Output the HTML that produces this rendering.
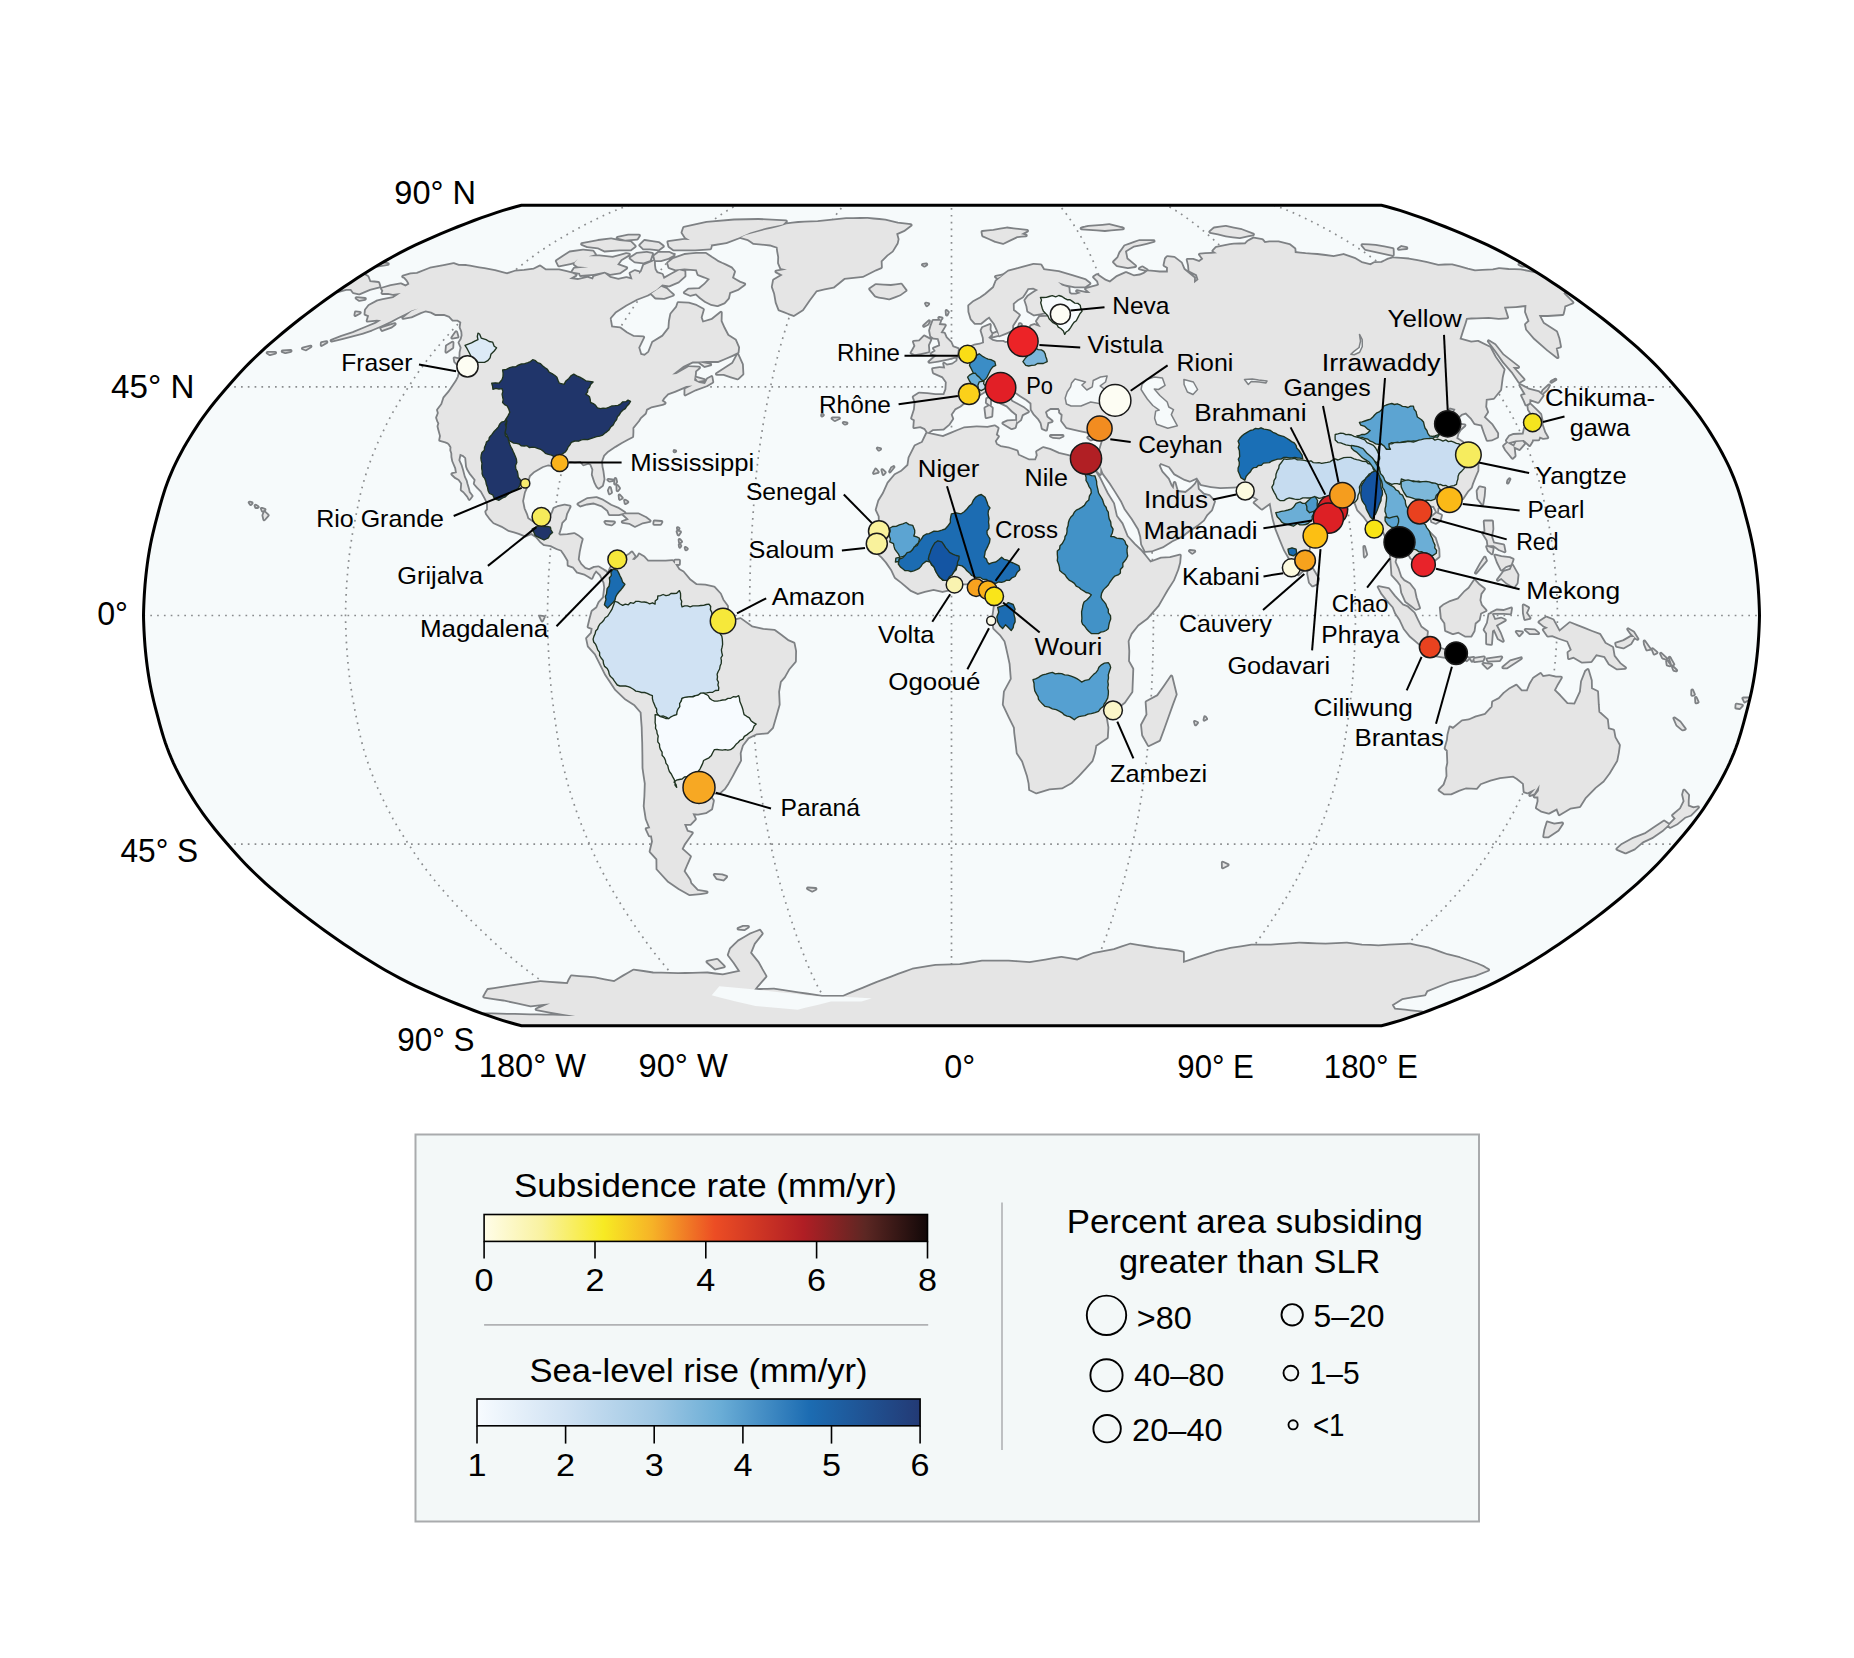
<!DOCTYPE html>
<html><head><meta charset="utf-8"><title>Delta subsidence map</title><style>html,body{margin:0;padding:0;background:#fff;}svg{display:block;}</style></head><body>
<svg width="1854" height="1658" viewBox="0 0 1854 1658" font-family="'Liberation Sans', Arial, sans-serif" fill="#000">
<rect width="1854" height="1658" fill="#ffffff"/>
<defs><clipPath id="fc"><path d="M521.48,205.25L515.79,206.73L509.68,208.46L503.18,210.43L496.34,212.63L489.16,215.05L481.70,217.69L473.96,220.52L466.00,223.54L457.83,226.74L449.49,230.11L441.02,233.64L432.49,237.30L424.01,241.08L415.67,244.95L407.55,248.90L399.74,252.91L392.21,256.96L384.91,261.07L377.81,265.24L370.87,269.45L364.05,273.72L357.33,278.04L350.69,282.41L344.14,286.82L337.66,291.28L331.24,295.78L324.88,300.31L318.59,304.88L312.37,309.49L306.23,314.13L300.17,318.80L294.19,323.51L288.31,328.25L282.51,333.01L276.82,337.80L271.23,342.62L265.76,347.46L260.43,352.33L255.25,357.22L250.24,362.13L245.40,367.06L240.72,372.01L236.18,376.97L231.73,381.95L227.37,386.95L223.07,391.96L218.84,396.98L214.71,402.01L210.71,407.05L206.85,412.10L203.15,417.16L199.61,422.22L196.21,427.29L192.95,432.37L189.80,437.45L186.76,442.54L183.83,447.62L181.03,452.71L178.36,457.80L175.82,462.89L173.43,467.97L171.18,473.06L169.08,478.15L167.13,483.24L165.32,488.32L163.65,493.41L162.10,498.50L160.64,503.58L159.24,508.67L157.88,513.76L156.54,518.85L155.21,523.93L153.93,529.02L152.72,534.11L151.58,539.19L150.54,544.28L149.58,549.37L148.72,554.45L147.93,559.54L147.22,564.63L146.57,569.72L145.99,574.80L145.48,579.89L145.02,584.98L144.63,590.06L144.30,595.15L144.02,600.24L143.79,605.33L143.62,610.41L143.50,615.50L143.62,620.59L143.79,625.67L144.02,630.76L144.30,635.85L144.63,640.94L145.02,646.02L145.48,651.11L145.99,656.20L146.57,661.28L147.22,666.37L147.93,671.46L148.72,676.55L149.58,681.63L150.54,686.72L151.58,691.81L152.72,696.89L153.93,701.98L155.21,707.07L156.54,712.15L157.88,717.24L159.24,722.33L160.64,727.42L162.10,732.50L163.65,737.59L165.32,742.68L167.13,747.76L169.08,752.85L171.18,757.94L173.43,763.03L175.82,768.11L178.36,773.20L181.03,778.29L183.83,783.38L186.76,788.46L189.80,793.55L192.95,798.63L196.21,803.71L199.61,808.78L203.15,813.84L206.85,818.90L210.71,823.95L214.71,828.99L218.84,834.02L223.07,839.04L227.37,844.05L231.73,849.05L236.18,854.03L240.72,858.99L245.40,863.94L250.24,868.87L255.25,873.78L260.43,878.67L265.76,883.54L271.23,888.38L276.82,893.20L282.51,897.99L288.31,902.75L294.19,907.49L300.17,912.20L306.23,916.87L312.37,921.51L318.59,926.12L324.88,930.69L331.24,935.22L337.66,939.72L344.14,944.18L350.69,948.59L357.33,952.96L364.05,957.28L370.87,961.55L377.81,965.76L384.91,969.93L392.21,974.04L399.74,978.09L407.55,982.10L415.67,986.05L424.01,989.92L432.49,993.70L441.02,997.36L449.49,1000.89L457.83,1004.26L466.00,1007.46L473.96,1010.48L481.70,1013.31L489.16,1015.95L496.34,1018.37L503.18,1020.57L509.68,1022.54L515.79,1024.27L521.48,1025.75L1381.52,1025.75L1387.21,1024.27L1393.32,1022.54L1399.82,1020.57L1406.66,1018.37L1413.84,1015.95L1421.30,1013.31L1429.04,1010.48L1437.00,1007.46L1445.17,1004.26L1453.51,1000.89L1461.98,997.36L1470.51,993.70L1478.99,989.92L1487.33,986.05L1495.45,982.10L1503.26,978.09L1510.79,974.04L1518.09,969.93L1525.19,965.76L1532.13,961.55L1538.95,957.28L1545.67,952.96L1552.31,948.59L1558.86,944.18L1565.34,939.72L1571.76,935.22L1578.12,930.69L1584.41,926.12L1590.63,921.51L1596.77,916.87L1602.83,912.20L1608.81,907.49L1614.69,902.75L1620.49,897.99L1626.18,893.20L1631.77,888.38L1637.24,883.54L1642.57,878.67L1647.75,873.78L1652.76,868.87L1657.60,863.94L1662.28,858.99L1666.82,854.03L1671.27,849.05L1675.63,844.05L1679.93,839.04L1684.16,834.02L1688.29,828.99L1692.29,823.95L1696.15,818.90L1699.85,813.84L1703.39,808.78L1706.79,803.71L1710.05,798.63L1713.20,793.55L1716.24,788.46L1719.17,783.38L1721.97,778.29L1724.64,773.20L1727.18,768.11L1729.57,763.03L1731.82,757.94L1733.92,752.85L1735.87,747.76L1737.68,742.68L1739.35,737.59L1740.90,732.50L1742.36,727.42L1743.76,722.33L1745.12,717.24L1746.46,712.15L1747.79,707.07L1749.07,701.98L1750.28,696.89L1751.42,691.81L1752.46,686.72L1753.42,681.63L1754.28,676.55L1755.07,671.46L1755.78,666.37L1756.43,661.28L1757.01,656.20L1757.52,651.11L1757.98,646.02L1758.37,640.94L1758.70,635.85L1758.98,630.76L1759.21,625.67L1759.38,620.59L1759.50,615.50L1759.38,610.41L1759.21,605.33L1758.98,600.24L1758.70,595.15L1758.37,590.06L1757.98,584.98L1757.52,579.89L1757.01,574.80L1756.43,569.72L1755.78,564.63L1755.07,559.54L1754.28,554.45L1753.42,549.37L1752.46,544.28L1751.42,539.19L1750.28,534.11L1749.07,529.02L1747.79,523.93L1746.46,518.85L1745.12,513.76L1743.76,508.67L1742.36,503.58L1740.90,498.50L1739.35,493.41L1737.68,488.32L1735.87,483.24L1733.92,478.15L1731.82,473.06L1729.57,467.97L1727.18,462.89L1724.64,457.80L1721.97,452.71L1719.17,447.62L1716.24,442.54L1713.20,437.45L1710.05,432.37L1706.79,427.29L1703.39,422.22L1699.85,417.16L1696.15,412.10L1692.29,407.05L1688.29,402.01L1684.16,396.98L1679.93,391.96L1675.63,386.95L1671.27,381.95L1666.82,376.97L1662.28,372.01L1657.60,367.06L1652.76,362.13L1647.75,357.22L1642.57,352.33L1637.24,347.46L1631.77,342.62L1626.18,337.80L1620.49,333.01L1614.69,328.25L1608.81,323.51L1602.83,318.80L1596.77,314.13L1590.63,309.49L1584.41,304.88L1578.12,300.31L1571.76,295.78L1565.34,291.28L1558.86,286.82L1552.31,282.41L1545.67,278.04L1538.95,273.72L1532.13,269.45L1525.19,265.24L1518.09,261.07L1510.79,256.96L1503.26,252.91L1495.45,248.90L1487.33,244.95L1478.99,241.08L1470.51,237.30L1461.98,233.64L1453.51,230.11L1445.17,226.74L1437.00,223.54L1429.04,220.52L1421.30,217.69L1413.84,215.05L1406.66,212.63L1399.82,210.43L1393.32,208.46L1387.21,206.73L1381.52,205.25Z"/></clipPath></defs>
<path d="M521.48,205.25L515.79,206.73L509.68,208.46L503.18,210.43L496.34,212.63L489.16,215.05L481.70,217.69L473.96,220.52L466.00,223.54L457.83,226.74L449.49,230.11L441.02,233.64L432.49,237.30L424.01,241.08L415.67,244.95L407.55,248.90L399.74,252.91L392.21,256.96L384.91,261.07L377.81,265.24L370.87,269.45L364.05,273.72L357.33,278.04L350.69,282.41L344.14,286.82L337.66,291.28L331.24,295.78L324.88,300.31L318.59,304.88L312.37,309.49L306.23,314.13L300.17,318.80L294.19,323.51L288.31,328.25L282.51,333.01L276.82,337.80L271.23,342.62L265.76,347.46L260.43,352.33L255.25,357.22L250.24,362.13L245.40,367.06L240.72,372.01L236.18,376.97L231.73,381.95L227.37,386.95L223.07,391.96L218.84,396.98L214.71,402.01L210.71,407.05L206.85,412.10L203.15,417.16L199.61,422.22L196.21,427.29L192.95,432.37L189.80,437.45L186.76,442.54L183.83,447.62L181.03,452.71L178.36,457.80L175.82,462.89L173.43,467.97L171.18,473.06L169.08,478.15L167.13,483.24L165.32,488.32L163.65,493.41L162.10,498.50L160.64,503.58L159.24,508.67L157.88,513.76L156.54,518.85L155.21,523.93L153.93,529.02L152.72,534.11L151.58,539.19L150.54,544.28L149.58,549.37L148.72,554.45L147.93,559.54L147.22,564.63L146.57,569.72L145.99,574.80L145.48,579.89L145.02,584.98L144.63,590.06L144.30,595.15L144.02,600.24L143.79,605.33L143.62,610.41L143.50,615.50L143.62,620.59L143.79,625.67L144.02,630.76L144.30,635.85L144.63,640.94L145.02,646.02L145.48,651.11L145.99,656.20L146.57,661.28L147.22,666.37L147.93,671.46L148.72,676.55L149.58,681.63L150.54,686.72L151.58,691.81L152.72,696.89L153.93,701.98L155.21,707.07L156.54,712.15L157.88,717.24L159.24,722.33L160.64,727.42L162.10,732.50L163.65,737.59L165.32,742.68L167.13,747.76L169.08,752.85L171.18,757.94L173.43,763.03L175.82,768.11L178.36,773.20L181.03,778.29L183.83,783.38L186.76,788.46L189.80,793.55L192.95,798.63L196.21,803.71L199.61,808.78L203.15,813.84L206.85,818.90L210.71,823.95L214.71,828.99L218.84,834.02L223.07,839.04L227.37,844.05L231.73,849.05L236.18,854.03L240.72,858.99L245.40,863.94L250.24,868.87L255.25,873.78L260.43,878.67L265.76,883.54L271.23,888.38L276.82,893.20L282.51,897.99L288.31,902.75L294.19,907.49L300.17,912.20L306.23,916.87L312.37,921.51L318.59,926.12L324.88,930.69L331.24,935.22L337.66,939.72L344.14,944.18L350.69,948.59L357.33,952.96L364.05,957.28L370.87,961.55L377.81,965.76L384.91,969.93L392.21,974.04L399.74,978.09L407.55,982.10L415.67,986.05L424.01,989.92L432.49,993.70L441.02,997.36L449.49,1000.89L457.83,1004.26L466.00,1007.46L473.96,1010.48L481.70,1013.31L489.16,1015.95L496.34,1018.37L503.18,1020.57L509.68,1022.54L515.79,1024.27L521.48,1025.75L1381.52,1025.75L1387.21,1024.27L1393.32,1022.54L1399.82,1020.57L1406.66,1018.37L1413.84,1015.95L1421.30,1013.31L1429.04,1010.48L1437.00,1007.46L1445.17,1004.26L1453.51,1000.89L1461.98,997.36L1470.51,993.70L1478.99,989.92L1487.33,986.05L1495.45,982.10L1503.26,978.09L1510.79,974.04L1518.09,969.93L1525.19,965.76L1532.13,961.55L1538.95,957.28L1545.67,952.96L1552.31,948.59L1558.86,944.18L1565.34,939.72L1571.76,935.22L1578.12,930.69L1584.41,926.12L1590.63,921.51L1596.77,916.87L1602.83,912.20L1608.81,907.49L1614.69,902.75L1620.49,897.99L1626.18,893.20L1631.77,888.38L1637.24,883.54L1642.57,878.67L1647.75,873.78L1652.76,868.87L1657.60,863.94L1662.28,858.99L1666.82,854.03L1671.27,849.05L1675.63,844.05L1679.93,839.04L1684.16,834.02L1688.29,828.99L1692.29,823.95L1696.15,818.90L1699.85,813.84L1703.39,808.78L1706.79,803.71L1710.05,798.63L1713.20,793.55L1716.24,788.46L1719.17,783.38L1721.97,778.29L1724.64,773.20L1727.18,768.11L1729.57,763.03L1731.82,757.94L1733.92,752.85L1735.87,747.76L1737.68,742.68L1739.35,737.59L1740.90,732.50L1742.36,727.42L1743.76,722.33L1745.12,717.24L1746.46,712.15L1747.79,707.07L1749.07,701.98L1750.28,696.89L1751.42,691.81L1752.46,686.72L1753.42,681.63L1754.28,676.55L1755.07,671.46L1755.78,666.37L1756.43,661.28L1757.01,656.20L1757.52,651.11L1757.98,646.02L1758.37,640.94L1758.70,635.85L1758.98,630.76L1759.21,625.67L1759.38,620.59L1759.50,615.50L1759.38,610.41L1759.21,605.33L1758.98,600.24L1758.70,595.15L1758.37,590.06L1757.98,584.98L1757.52,579.89L1757.01,574.80L1756.43,569.72L1755.78,564.63L1755.07,559.54L1754.28,554.45L1753.42,549.37L1752.46,544.28L1751.42,539.19L1750.28,534.11L1749.07,529.02L1747.79,523.93L1746.46,518.85L1745.12,513.76L1743.76,508.67L1742.36,503.58L1740.90,498.50L1739.35,493.41L1737.68,488.32L1735.87,483.24L1733.92,478.15L1731.82,473.06L1729.57,467.97L1727.18,462.89L1724.64,457.80L1721.97,452.71L1719.17,447.62L1716.24,442.54L1713.20,437.45L1710.05,432.37L1706.79,427.29L1703.39,422.22L1699.85,417.16L1696.15,412.10L1692.29,407.05L1688.29,402.01L1684.16,396.98L1679.93,391.96L1675.63,386.95L1671.27,381.95L1666.82,376.97L1662.28,372.01L1657.60,367.06L1652.76,362.13L1647.75,357.22L1642.57,352.33L1637.24,347.46L1631.77,342.62L1626.18,337.80L1620.49,333.01L1614.69,328.25L1608.81,323.51L1602.83,318.80L1596.77,314.13L1590.63,309.49L1584.41,304.88L1578.12,300.31L1571.76,295.78L1565.34,291.28L1558.86,286.82L1552.31,282.41L1545.67,278.04L1538.95,273.72L1532.13,269.45L1525.19,265.24L1518.09,261.07L1510.79,256.96L1503.26,252.91L1495.45,248.90L1487.33,244.95L1478.99,241.08L1470.51,237.30L1461.98,233.64L1453.51,230.11L1445.17,226.74L1437.00,223.54L1429.04,220.52L1421.30,217.69L1413.84,215.05L1406.66,212.63L1399.82,210.43L1393.32,208.46L1387.21,206.73L1381.52,205.25Z" fill="#f6fafb"/>
<g clip-path="url(#fc)">
<path d="M227.4,844.1L1675.6,844.1M143.5,615.5L1759.5,615.5M227.4,386.9L1675.6,386.9M629.0,1025.8L620.1,1022.5L610.1,1018.4L599.1,1013.3L587.4,1007.5L575.0,1000.9L562.2,993.7L549.6,986.0L537.7,978.1L526.6,969.9L516.0,961.5L505.9,953.0L496.0,944.2L486.3,935.2L476.8,926.1L467.5,916.9L458.5,907.5L449.8,898.0L441.3,888.4L433.2,878.7L425.6,868.9L418.4,859.0L411.7,849.0L405.2,839.0L398.9,829.0L393.0,818.9L387.6,808.8L382.6,798.6L377.9,788.5L373.6,778.3L369.7,768.1L366.3,757.9L363.2,747.8L360.6,737.6L358.4,727.4L356.3,717.2L354.3,707.1L352.4,696.9L350.8,686.7L349.4,676.5L348.3,666.4L347.4,656.2L346.6,646.0L346.1,635.8L345.7,625.7L345.5,615.5L345.7,605.3L346.1,595.2L346.6,585.0L347.4,574.8L348.3,564.6L349.4,554.5L350.8,544.3L352.4,534.1L354.3,523.9L356.3,513.8L358.4,503.6L360.6,493.4L363.2,483.2L366.3,473.1L369.7,462.9L373.6,452.7L377.9,442.5L382.6,432.4L387.6,422.2L393.0,412.1L398.9,402.0L405.2,392.0L411.7,382.0L418.4,372.0L425.6,362.1L433.2,352.3L441.3,342.6L449.8,333.0L458.5,323.5L467.5,314.1L476.8,304.9L486.3,295.8L496.0,286.8L505.9,278.0L516.0,269.5L526.6,261.1L537.7,252.9L549.6,245.0L562.2,237.3L575.0,230.1L587.4,223.5L599.1,217.7L610.1,212.6L620.1,208.5L629.0,205.2M736.5,1025.8L730.6,1022.5L723.9,1018.4L716.6,1013.3L708.7,1007.5L700.5,1000.9L692.0,993.7L683.6,986.0L675.6,978.1L668.2,969.9L661.2,961.5L654.4,953.0L647.8,944.2L641.4,935.2L635.0,926.1L628.9,916.9L622.8,907.5L617.0,898.0L611.4,888.4L606.0,878.7L600.9,868.9L596.1,859.0L591.6,849.0L587.3,839.0L583.1,829.0L579.2,818.9L575.6,808.8L572.2,798.6L569.1,788.5L566.3,778.3L563.7,768.1L561.3,757.9L559.3,747.8L557.6,737.6L556.1,727.4L554.7,717.2L553.4,707.1L552.1,696.9L551.0,686.7L550.1,676.5L549.4,666.4L548.7,656.2L548.3,646.0L547.9,635.8L547.6,625.7L547.5,615.5L547.6,605.3L547.9,595.2L548.3,585.0L548.7,574.8L549.4,564.6L550.1,554.5L551.0,544.3L552.1,534.1L553.4,523.9L554.7,513.8L556.1,503.6L557.6,493.4L559.3,483.2L561.3,473.1L563.7,462.9L566.3,452.7L569.1,442.5L572.2,432.4L575.6,422.2L579.2,412.1L583.1,402.0L587.3,392.0L591.6,382.0L596.1,372.0L600.9,362.1L606.0,352.3L611.4,342.6L617.0,333.0L622.8,323.5L628.9,314.1L635.0,304.9L641.4,295.8L647.8,286.8L654.4,278.0L661.2,269.5L668.2,261.1L675.6,252.9L683.6,245.0L692.0,237.3L700.5,230.1L708.7,223.5L716.6,217.7L723.9,212.6L730.6,208.5L736.5,205.2M844.0,1025.8L841.0,1022.5L837.7,1018.4L834.0,1013.3L830.1,1007.5L826.0,1000.9L821.7,993.7L817.5,986.0L813.6,978.1L809.9,969.9L806.3,961.5L803.0,953.0L799.7,944.2L796.4,935.2L793.3,926.1L790.2,916.9L787.2,907.5L784.3,898.0L781.4,888.4L778.7,878.7L776.2,868.9L773.8,859.0L771.6,849.0L769.4,839.0L767.3,829.0L765.3,818.9L763.5,808.8L761.9,798.6L760.3,788.5L758.9,778.3L757.6,768.1L756.4,757.9L755.4,747.8L754.5,737.6L753.8,727.4L753.1,717.2L752.4,707.1L751.8,696.9L751.3,686.7L750.8,676.5L750.4,666.4L750.1,656.2L749.9,646.0L749.7,635.8L749.6,625.7L749.5,615.5L749.6,605.3L749.7,595.2L749.9,585.0L750.1,574.8L750.4,564.6L750.8,554.5L751.3,544.3L751.8,534.1L752.4,523.9L753.1,513.8L753.8,503.6L754.5,493.4L755.4,483.2L756.4,473.1L757.6,462.9L758.9,452.7L760.3,442.5L761.9,432.4L763.5,422.2L765.3,412.1L767.3,402.0L769.4,392.0L771.6,382.0L773.8,372.0L776.2,362.1L778.7,352.3L781.4,342.6L784.3,333.0L787.2,323.5L790.2,314.1L793.3,304.9L796.4,295.8L799.7,286.8L803.0,278.0L806.3,269.5L809.9,261.1L813.6,252.9L817.5,245.0L821.7,237.3L826.0,230.1L830.1,223.5L834.0,217.7L837.7,212.6L841.0,208.5L844.0,205.2M951.5,1025.8L951.5,1022.5L951.5,1018.4L951.5,1013.3L951.5,1007.5L951.5,1000.9L951.5,993.7L951.5,986.0L951.5,978.1L951.5,969.9L951.5,961.5L951.5,953.0L951.5,944.2L951.5,935.2L951.5,926.1L951.5,916.9L951.5,907.5L951.5,898.0L951.5,888.4L951.5,878.7L951.5,868.9L951.5,859.0L951.5,849.0L951.5,839.0L951.5,829.0L951.5,818.9L951.5,808.8L951.5,798.6L951.5,788.5L951.5,778.3L951.5,768.1L951.5,757.9L951.5,747.8L951.5,737.6L951.5,727.4L951.5,717.2L951.5,707.1L951.5,696.9L951.5,686.7L951.5,676.5L951.5,666.4L951.5,656.2L951.5,646.0L951.5,635.8L951.5,625.7L951.5,615.5L951.5,605.3L951.5,595.2L951.5,585.0L951.5,574.8L951.5,564.6L951.5,554.5L951.5,544.3L951.5,534.1L951.5,523.9L951.5,513.8L951.5,503.6L951.5,493.4L951.5,483.2L951.5,473.1L951.5,462.9L951.5,452.7L951.5,442.5L951.5,432.4L951.5,422.2L951.5,412.1L951.5,402.0L951.5,392.0L951.5,382.0L951.5,372.0L951.5,362.1L951.5,352.3L951.5,342.6L951.5,333.0L951.5,323.5L951.5,314.1L951.5,304.9L951.5,295.8L951.5,286.8L951.5,278.0L951.5,269.5L951.5,261.1L951.5,252.9L951.5,245.0L951.5,237.3L951.5,230.1L951.5,223.5L951.5,217.7L951.5,212.6L951.5,208.5L951.5,205.2M1059.0,1025.8L1062.0,1022.5L1065.3,1018.4L1069.0,1013.3L1072.9,1007.5L1077.0,1000.9L1081.3,993.7L1085.5,986.0L1089.4,978.1L1093.1,969.9L1096.7,961.5L1100.0,953.0L1103.3,944.2L1106.6,935.2L1109.7,926.1L1112.8,916.9L1115.8,907.5L1118.7,898.0L1121.6,888.4L1124.3,878.7L1126.8,868.9L1129.2,859.0L1131.4,849.0L1133.6,839.0L1135.7,829.0L1137.7,818.9L1139.5,808.8L1141.1,798.6L1142.7,788.5L1144.1,778.3L1145.4,768.1L1146.6,757.9L1147.6,747.8L1148.5,737.6L1149.2,727.4L1149.9,717.2L1150.6,707.1L1151.2,696.9L1151.7,686.7L1152.2,676.5L1152.6,666.4L1152.9,656.2L1153.1,646.0L1153.3,635.8L1153.4,625.7L1153.5,615.5L1153.4,605.3L1153.3,595.2L1153.1,585.0L1152.9,574.8L1152.6,564.6L1152.2,554.5L1151.7,544.3L1151.2,534.1L1150.6,523.9L1149.9,513.8L1149.2,503.6L1148.5,493.4L1147.6,483.2L1146.6,473.1L1145.4,462.9L1144.1,452.7L1142.7,442.5L1141.1,432.4L1139.5,422.2L1137.7,412.1L1135.7,402.0L1133.6,392.0L1131.4,382.0L1129.2,372.0L1126.8,362.1L1124.3,352.3L1121.6,342.6L1118.7,333.0L1115.8,323.5L1112.8,314.1L1109.7,304.9L1106.6,295.8L1103.3,286.8L1100.0,278.0L1096.7,269.5L1093.1,261.1L1089.4,252.9L1085.5,245.0L1081.3,237.3L1077.0,230.1L1072.9,223.5L1069.0,217.7L1065.3,212.6L1062.0,208.5L1059.0,205.2M1166.5,1025.8L1172.4,1022.5L1179.1,1018.4L1186.4,1013.3L1194.3,1007.5L1202.5,1000.9L1211.0,993.7L1219.4,986.0L1227.4,978.1L1234.8,969.9L1241.8,961.5L1248.6,953.0L1255.2,944.2L1261.6,935.2L1268.0,926.1L1274.1,916.9L1280.2,907.5L1286.0,898.0L1291.6,888.4L1297.0,878.7L1302.1,868.9L1306.9,859.0L1311.4,849.0L1315.7,839.0L1319.9,829.0L1323.8,818.9L1327.4,808.8L1330.8,798.6L1333.9,788.5L1336.7,778.3L1339.3,768.1L1341.7,757.9L1343.7,747.8L1345.4,737.6L1346.9,727.4L1348.3,717.2L1349.6,707.1L1350.9,696.9L1352.0,686.7L1352.9,676.5L1353.6,666.4L1354.3,656.2L1354.7,646.0L1355.1,635.8L1355.4,625.7L1355.5,615.5L1355.4,605.3L1355.1,595.2L1354.7,585.0L1354.3,574.8L1353.6,564.6L1352.9,554.5L1352.0,544.3L1350.9,534.1L1349.6,523.9L1348.3,513.8L1346.9,503.6L1345.4,493.4L1343.7,483.2L1341.7,473.1L1339.3,462.9L1336.7,452.7L1333.9,442.5L1330.8,432.4L1327.4,422.2L1323.8,412.1L1319.9,402.0L1315.7,392.0L1311.4,382.0L1306.9,372.0L1302.1,362.1L1297.0,352.3L1291.6,342.6L1286.0,333.0L1280.2,323.5L1274.1,314.1L1268.0,304.9L1261.6,295.8L1255.2,286.8L1248.6,278.0L1241.8,269.5L1234.8,261.1L1227.4,252.9L1219.4,245.0L1211.0,237.3L1202.5,230.1L1194.3,223.5L1186.4,217.7L1179.1,212.6L1172.4,208.5L1166.5,205.2M1274.0,1025.8L1282.9,1022.5L1292.9,1018.4L1303.9,1013.3L1315.6,1007.5L1328.0,1000.9L1340.8,993.7L1353.4,986.0L1365.3,978.1L1376.4,969.9L1387.0,961.5L1397.1,953.0L1407.0,944.2L1416.7,935.2L1426.2,926.1L1435.5,916.9L1444.5,907.5L1453.2,898.0L1461.7,888.4L1469.8,878.7L1477.4,868.9L1484.6,859.0L1491.3,849.0L1497.8,839.0L1504.1,829.0L1510.0,818.9L1515.4,808.8L1520.4,798.6L1525.1,788.5L1529.4,778.3L1533.3,768.1L1536.7,757.9L1539.8,747.8L1542.4,737.6L1544.6,727.4L1546.7,717.2L1548.7,707.1L1550.6,696.9L1552.2,686.7L1553.6,676.5L1554.7,666.4L1555.6,656.2L1556.4,646.0L1556.9,635.8L1557.3,625.7L1557.5,615.5L1557.3,605.3L1556.9,595.2L1556.4,585.0L1555.6,574.8L1554.7,564.6L1553.6,554.5L1552.2,544.3L1550.6,534.1L1548.7,523.9L1546.7,513.8L1544.6,503.6L1542.4,493.4L1539.8,483.2L1536.7,473.1L1533.3,462.9L1529.4,452.7L1525.1,442.5L1520.4,432.4L1515.4,422.2L1510.0,412.1L1504.1,402.0L1497.8,392.0L1491.3,382.0L1484.6,372.0L1477.4,362.1L1469.8,352.3L1461.7,342.6L1453.2,333.0L1444.5,323.5L1435.5,314.1L1426.2,304.9L1416.7,295.8L1407.0,286.8L1397.1,278.0L1387.0,269.5L1376.4,261.1L1365.3,252.9L1353.4,245.0L1340.8,237.3L1328.0,230.1L1315.6,223.5L1303.9,217.7L1292.9,212.6L1282.9,208.5L1274.0,205.2" fill="none" stroke="#8a8c8e" stroke-width="1.7" stroke-dasharray="1.7 5.1"/>
<path d="M381.9,288.6L390.9,285.9L400.7,284.2L405.5,286.4L409.4,284.2L408.8,282.4L407.1,279.8L404.8,277.2L403.1,276.5L410.7,274.2L417.2,273.7L430.2,268.6L437.0,267.2L443.8,265.9L453.6,264.0L458.5,265.7L466.2,265.9L469.9,266.6L473.7,267.3L479.0,268.2L484.3,269.0L489.5,270.0L494.8,270.9L498.5,271.9L502.2,272.9L507.1,274.2L515.1,271.6L524.2,270.7L533.8,269.5L540.0,266.4L542.6,268.3L545.4,270.2L552.1,270.2L558.9,270.2L565.6,271.8L572.4,273.4L575.6,275.1L569.1,278.8L577.8,279.9L587.5,277.8L592.9,279.4L594.0,276.7L604.7,273.4L610.1,277.8L618.3,279.8L626.4,278.0L633.2,279.8L641.6,271.6L643.9,265.2L654.0,261.1L654.1,265.2L654.7,269.5L656.8,272.9L662.0,274.6L663.7,278.9L670.5,275.0L679.3,270.3L684.5,271.6L684.6,275.9L678.4,281.5L669.0,285.5L662.2,284.6L656.7,289.5L647.2,294.9L636.7,298.9L625.6,304.9L615.1,311.8L609.8,317.9L610.0,319.7L611.3,327.3L619.9,328.2L626.3,333.0L633.4,336.8L643.3,337.3L638.3,347.5L640.5,354.8L644.7,355.8L649.0,352.3L652.9,342.6L662.9,336.4L669.3,328.2L669.8,321.2L671.2,314.1L676.9,307.2L678.3,303.0L683.4,303.3L688.6,303.5L696.1,305.8L703.0,309.5L700.7,317.4L702.5,322.6L712.2,319.7L720.9,312.7L720.7,321.2L723.8,328.2L727.6,335.4L735.1,340.2L738.2,347.5L737.7,352.3L731.7,355.3L724.9,358.2L718.1,361.1L712.2,361.1L706.4,361.1L699.5,361.4L692.6,361.6L683.2,366.1L672.2,374.5L676.4,374.0L688.7,367.1L699.1,367.6L695.2,371.0L695.0,374.0L694.1,380.5L699.3,383.0L705.0,384.0L707.7,379.0L711.5,377.0L712.4,382.0L706.5,385.4L695.3,389.5L685.3,394.5L685.4,389.0L692.5,385.4L686.3,385.9L681.6,388.0L674.6,391.0L667.7,393.5L663.4,398.0L661.6,401.0L664.7,403.0L662.3,404.0L657.9,405.0L651.2,406.5L646.3,409.1L645.1,413.1L640.0,417.7L638.2,420.7L633.2,426.8L632.5,427.8L632.5,432.4L632.3,436.4L627.4,439.0L621.0,442.5L615.0,446.1L607.3,451.2L603.3,455.3L601.1,461.4L601.6,467.0L602.5,471.0L603.6,479.2L602.1,485.3L598.7,487.8L597.2,486.3L595.2,482.2L592.7,474.6L593.3,469.5L591.0,463.9L588.2,462.9L583.6,464.4L580.5,460.9L574.8,461.4L570.6,460.9L566.1,461.9L566.3,466.4L562.5,468.0L556.5,465.9L548.2,464.4L542.1,466.4L533.5,471.5L529.1,475.6L527.6,480.7L527.8,483.7L524.1,491.9L522.2,501.0L523.7,508.7L526.3,514.8L527.5,518.8L531.6,521.4L534.0,522.9L540.4,521.9L545.8,520.9L550.7,517.3L553.3,511.2L554.1,508.7L557.8,507.1L564.6,505.6L569.7,506.6L566.2,513.8L565.1,518.8L561.5,522.4L560.4,527.5L558.3,534.1L559.9,535.6L567.5,535.1L574.3,534.1L578.5,536.6L581.8,539.2L580.4,544.3L578.8,551.9L577.8,559.5L580.6,564.6L584.9,568.7L589.3,570.2L594.3,567.7L598.4,567.2L602.7,569.7L605.3,571.8L607.0,573.3L604.6,577.3L602.7,578.9L600.7,574.8L596.0,570.2L593.5,573.8L591.6,577.9L588.9,576.3L584.6,573.8L577.5,571.8L573.4,566.7L568.5,565.1L568.4,560.6L564.8,554.5L561.6,549.9L557.3,548.4L550.9,545.3L544.3,544.3L541.0,541.7L536.3,536.1L531.4,533.1L525.3,535.6L519.0,533.1L514.3,531.6L508.7,530.0L502.2,526.0L493.9,522.4L490.1,518.3L486.8,513.8L486.2,511.7L487.9,509.7L487.9,504.1L486.4,500.0L485.1,497.5L481.5,490.9L477.8,487.3L474.7,483.7L475.6,479.7L471.9,475.1L470.6,473.6L467.9,469.0L466.9,466.4L466.1,457.8L463.5,455.3L459.8,453.7L458.4,460.3L460.8,465.4L462.3,470.5L464.0,477.1L465.8,480.7L466.7,484.3L468.2,489.3L468.9,492.4L471.7,496.0L469.4,499.0L467.8,496.0L463.9,491.4L461.6,489.8L462.1,483.2L459.2,479.2L455.4,477.1L452.3,474.1L456.9,473.1L456.1,468.0L453.1,460.9L452.3,456.8L452.2,453.2L451.2,450.2L451.4,447.1L449.6,444.1L448.0,442.5L445.5,441.5L440.1,440.0L440.9,435.9L439.1,429.3L438.4,426.3L439.3,423.2L438.2,421.2L437.0,417.7L438.8,413.1L437.9,410.1L442.1,404.5L444.2,398.0L449.3,392.0L456.7,381.0L458.7,377.0L460.4,370.0L466.4,371.0L466.0,375.5L468.9,369.0L468.9,366.1L467.7,363.1L465.1,360.2L460.3,357.2L460.5,352.3L461.6,347.5L459.4,342.6L461.5,339.2L462.5,335.4L462.2,331.6L460.5,327.3L461.3,322.1L457.7,319.7L453.0,319.7L449.5,316.0L444.2,314.1L435.6,314.1L431.3,311.8L425.7,310.4L420.5,312.3L411.2,316.5L403.2,317.9L411.5,311.3L418.2,308.6L411.5,310.4L404.8,314.1L397.6,317.4L390.6,321.2L380.4,325.9L371.5,329.7L362.0,333.0L352.4,335.4L341.9,338.3L331.5,340.7L341.6,336.8L353.1,333.0L366.7,327.3L376.0,323.5L381.1,320.2L376.9,319.7L367.5,320.7L369.1,315.5L365.4,314.1L365.8,310.0L369.1,305.8L377.7,301.2L382.9,299.9L393.2,298.0L400.8,293.1L392.8,294.0L388.2,293.1L382.3,293.1L383.3,290.8ZM605.3,571.2L607.8,574.8L610.8,568.2L614.3,562.1L617.6,559.5L623.5,558.0L629.5,554.5L631.9,552.4L634.7,556.5L631.9,559.5L634.5,560.1L638.3,556.5L639.3,554.5L643.6,557.0L647.8,561.6L656.7,561.6L665.7,561.6L672.4,561.1L675.4,564.6L678.7,569.7L683.1,572.3L689.5,579.9L696.1,585.0L705.1,585.5L714.0,587.5L720.1,594.1L722.7,600.2L727.1,606.3L727.1,613.0L731.5,616.5L734.3,620.6L740.5,619.1L751.8,627.2L763.1,629.7L774.3,630.8L781.1,635.8L787.9,640.9L793.7,643.5L795.2,651.1L795.0,661.3L788.5,668.9L784.3,676.5L780.0,681.6L778.2,691.8L778.8,704.5L775.9,714.7L772.2,727.4L767.3,732.5L756.4,733.5L748.0,737.6L742.1,745.2L739.8,752.9L740.2,760.5L736.0,768.1L732.0,775.7L727.6,783.4L724.2,788.5L719.1,793.0L712.2,792.5L704.5,790.0L709.5,796.1L713.0,800.7L711.3,808.8L705.9,812.3L697.9,813.8L692.4,813.3L695.0,818.9L690.2,824.0L684.0,824.0L687.0,831.5L691.9,833.0L687.6,839.0L684.0,844.1L681.6,849.0L690.0,856.5L686.7,863.9L683.6,871.3L689.5,880.1L690.5,883.5L697.4,890.8L706.7,892.2L700.4,893.2L695.0,893.7L689.6,894.2L679.4,888.4L668.5,881.1L657.4,868.9L657.3,859.0L650.5,851.5L652.9,841.5L650.6,829.0L646.6,818.9L644.6,806.2L645.3,796.1L645.7,783.4L644.5,775.7L643.4,768.1L643.3,755.4L643.1,742.7L642.8,735.0L642.6,727.4L642.0,719.8L641.5,712.2L634.9,704.5L625.5,698.4L615.8,689.3L610.7,681.6L605.7,674.0L600.6,663.8L595.6,653.7L588.6,646.0L587.0,638.4L591.8,633.3L592.6,628.2L588.5,626.7L590.6,618.0L592.4,611.4L597.0,607.9L599.3,602.8L603.9,597.7L605.1,587.5L604.4,582.4L602.7,578.9ZM927.0,433.4L935.0,435.2L943.0,436.9L951.5,433.4L957.8,430.8L964.1,428.3L970.4,427.8L976.7,427.3L987.6,427.8L994.7,426.3L997.7,428.3L995.8,434.9L998.0,436.4L994.8,441.0L996.2,444.6L1000.5,447.1L1009.1,448.6L1016.9,451.2L1018.0,455.3L1028.9,460.3L1035.8,460.3L1037.7,455.3L1037.0,451.7L1043.2,448.1L1049.7,449.7L1058.6,453.7L1067.3,455.8L1076.1,458.3L1082.3,455.3L1089.7,456.3L1091.6,463.4L1094.4,470.5L1099.3,478.1L1103.1,485.8L1106.9,493.4L1113.2,503.6L1116.1,516.3L1121.8,523.9L1126.9,536.6L1133.9,544.3L1140.9,550.9L1144.7,555.5L1150.3,562.6L1161.3,558.5L1170.2,558.0L1179.9,555.5L1179.3,562.6L1177.3,569.7L1173.2,579.9L1166.7,590.1L1162.3,597.7L1157.9,605.3L1146.8,618.0L1137.7,624.7L1130.9,633.3L1127.7,640.9L1128.4,651.1L1128.1,661.3L1132.4,668.9L1131.9,681.6L1131.5,691.8L1124.3,702.0L1112.8,711.1L1105.8,717.2L1107.5,727.4L1106.9,737.6L1095.5,745.2L1094.1,752.9L1091.8,760.5L1085.1,768.1L1078.0,775.7L1071.0,782.4L1062.0,787.4L1055.6,788.0L1049.2,788.5L1042.7,790.5L1036.2,792.5L1030.0,789.5L1029.5,783.4L1027.8,775.7L1022.9,761.0L1017.6,752.9L1016.4,742.7L1015.1,732.5L1014.8,727.4L1009.7,717.2L1003.7,704.5L1004.8,691.8L1011.7,679.1L1011.1,671.5L1010.5,663.8L1008.6,654.9L1006.6,646.0L1005.3,640.9L1000.8,634.8L994.1,628.2L992.8,619.6L994.1,610.4L995.5,600.2L991.9,595.2L988.7,592.6L982.9,593.1L978.4,593.6L973.9,587.5L971.7,583.5L962.7,583.5L956.0,585.0L947.0,590.1L942.5,591.1L933.6,589.0L924.6,591.1L917.9,593.1L911.2,590.1L902.2,582.4L895.5,577.3L892.0,569.7L886.7,562.1L882.3,557.0L877.1,552.4L876.7,546.8L873.7,540.7L878.3,534.1L879.8,523.9L879.6,516.3L876.6,509.7L879.1,501.0L883.7,493.4L888.3,483.2L895.1,475.1L901.7,471.5L908.3,465.4L909.4,457.8L915.3,446.1L922.6,442.5ZM927.9,432.4L925.0,428.3L920.5,426.3L914.2,427.3L914.8,419.7L912.0,418.2L914.8,409.6L915.5,402.0L913.6,397.0L919.1,393.5L927.2,394.0L935.3,395.0L944.2,395.0L946.3,389.5L946.7,382.0L942.8,376.5L933.7,372.5L933.0,369.0L939.7,368.0L945.2,368.5L944.1,363.6L946.8,365.6L952.3,364.6L957.3,361.1L957.7,357.7L963.1,356.2L966.9,353.3L969.4,347.9L974.3,345.5L979.9,344.6L984.0,343.1L983.7,337.8L981.5,330.6L982.8,327.8L989.9,324.9L989.6,330.1L991.7,334.0L988.2,337.8L992.6,340.7L996.8,341.7L1002.8,341.7L1005.6,343.1L1011.8,341.2L1021.0,338.8L1025.0,340.7L1030.8,336.8L1029.2,330.6L1031.1,325.9L1034.3,324.9L1040.9,327.3L1036.9,321.2L1039.8,316.9L1046.1,316.7L1052.3,316.5L1059.9,314.6L1055.3,313.2L1046.1,312.3L1040.1,313.4L1034.0,314.6L1028.1,310.9L1027.3,306.3L1025.3,300.3L1028.4,296.2L1035.1,291.7L1038.2,289.9L1033.3,287.7L1027.7,288.2L1024.5,293.5L1022.3,296.7L1017.5,299.4L1012.8,303.5L1013.0,310.4L1019.0,315.1L1016.6,318.8L1012.3,325.4L1012.1,330.1L1005.4,333.0L999.3,335.4L997.8,330.6L994.6,323.5L991.3,319.3L989.3,316.5L985.9,318.8L980.7,323.0L975.2,323.0L971.4,318.8L969.3,311.8L969.1,305.8L973.5,302.1L980.9,298.0L985.9,294.4L993.8,287.7L996.4,281.1L1002.4,275.9L1008.3,271.6L1016.0,269.5L1020.6,268.2L1025.2,266.9L1033.6,264.8L1040.7,265.2L1043.5,270.0L1051.0,271.0L1058.5,272.0L1065.2,274.0L1072.0,276.0L1078.5,278.0L1085.0,280.0L1089.5,283.5L1085.0,286.5L1075.0,286.5L1065.0,284.5L1058.0,282.0L1062.0,285.5L1068.5,287.5L1069.0,293.0L1071.0,294.5L1076.0,294.5L1081.0,293.0L1077.0,291.0L1086.0,293.0L1090.5,293.0L1086.0,289.0L1093.0,287.0L1097.0,286.0L1099.0,285.0L1098.0,281.0L1094.0,277.0L1097.0,275.0L1105.0,280.5L1110.0,282.5L1117.0,277.0L1121.5,275.0L1126.0,273.0L1133.9,276.3L1140.0,275.4L1144.1,273.7L1147.6,271.2L1153.6,271.8L1159.6,272.4L1167.8,272.4L1167.9,267.3L1164.4,265.2L1165.7,259.0L1167.4,257.0L1174.3,257.8L1181.1,263.1L1183.8,269.5L1194.1,278.0L1194.0,283.3L1198.5,279.8L1196.8,274.6L1189.4,270.7L1188.9,265.2L1187.6,259.8L1192.9,259.8L1199.2,261.9L1203.3,259.0L1199.9,254.5L1205.4,254.1L1211.2,253.7L1217.0,253.3L1213.3,250.9L1216.3,247.7L1221.3,246.7L1226.2,245.7L1230.0,245.1L1233.9,244.6L1239.6,244.4L1245.3,244.2L1248.0,241.5L1250.9,239.9L1253.7,238.4L1262.1,239.9L1264.6,243.0L1269.5,242.2L1273.9,242.2L1278.3,242.2L1289.4,245.0L1294.5,248.9L1294.8,252.9L1300.1,253.5L1305.5,254.1L1311.4,254.5L1317.2,254.9L1325.4,255.9L1333.7,257.0L1338.6,255.9L1343.5,254.9L1355.0,259.0L1361.7,263.1L1370.6,265.2L1374.4,263.1L1381.8,262.7L1385.1,261.1L1388.4,259.4L1392.9,258.2L1400.8,258.8L1408.7,259.4L1417.4,261.1L1426.0,262.7L1438.1,265.7L1445.0,265.4L1451.9,265.2L1459.7,267.3L1467.6,269.5L1474.9,271.2L1482.4,270.7L1487.7,270.5L1493.1,270.3L1499.2,269.0L1508.6,269.9L1514.6,270.1L1520.6,270.3L1532.0,272.4L1539.6,274.2L1552.6,282.6L1565.3,291.3L1563.4,293.5L1572.5,302.6L1568.5,304.2L1564.5,305.8L1563.7,310.0L1562.7,314.1L1555.2,314.6L1547.7,315.1L1538.7,315.1L1543.1,323.5L1556.3,332.1L1558.6,338.8L1560.1,346.5L1555.8,347.9L1557.6,357.2L1548.1,349.9L1534.3,337.8L1526.9,329.2L1525.9,324.5L1529.5,321.2L1525.9,311.8L1526.4,304.9L1521.1,305.6L1515.7,306.3L1509.9,306.5L1503.9,306.7L1507.2,317.4L1498.7,317.9L1488.7,316.9L1482.6,317.2L1476.5,317.4L1471.4,317.6L1466.2,317.9L1464.6,323.5L1462.2,330.6L1459.5,339.2L1471.1,342.6L1477.8,341.7L1489.8,347.5L1495.0,357.2L1503.7,369.5L1501.9,377.0L1500.3,389.5L1496.9,393.7L1493.5,398.0L1485.9,399.0L1485.3,407.0L1487.2,412.1L1483.7,417.2L1491.6,424.8L1497.3,433.4L1497.2,436.9L1491.9,439.5L1487.5,440.0L1484.6,432.4L1482.0,424.8L1475.0,423.2L1471.7,418.2L1466.0,412.6L1461.4,414.1L1457.3,417.7L1454.1,412.1L1455.5,409.1L1449.7,407.6L1445.9,412.1L1441.6,416.1L1442.0,419.7L1448.9,424.8L1451.4,426.8L1455.8,424.2L1464.6,425.3L1460.1,429.3L1457.6,433.4L1456.3,438.5L1462.6,442.5L1468.5,450.2L1473.8,454.2L1475.4,458.8L1475.1,462.9L1477.6,463.9L1477.5,470.5L1474.9,476.6L1472.2,483.2L1471.0,487.3L1467.4,490.9L1462.4,498.5L1456.1,500.0L1450.0,502.6L1443.8,504.6L1437.7,507.7L1437.1,512.2L1433.9,506.1L1428.6,505.6L1422.6,509.7L1421.1,513.8L1418.8,518.8L1423.0,526.5L1428.2,531.6L1434.9,538.2L1438.4,549.4L1438.7,556.5L1433.7,560.6L1428.6,563.6L1422.1,571.8L1419.9,566.7L1418.2,562.1L1411.2,558.0L1408.5,553.4L1401.6,550.9L1396.8,546.8L1397.3,551.9L1394.6,562.1L1397.7,568.7L1400.5,577.3L1403.8,580.9L1409.4,584.0L1414.1,590.1L1415.7,597.7L1419.1,607.9L1416.0,608.9L1411.4,605.3L1406.0,601.3L1402.1,592.6L1400.9,585.0L1398.0,580.9L1392.3,574.8L1391.8,567.2L1391.2,559.5L1390.1,546.8L1385.8,536.6L1383.8,531.6L1377.0,530.0L1373.2,535.1L1369.8,533.1L1369.6,523.9L1364.1,516.3L1357.9,509.7L1355.7,503.6L1353.1,500.5L1349.1,503.6L1344.9,504.6L1340.6,505.6L1334.3,507.7L1333.9,511.2L1328.7,515.8L1324.9,520.4L1320.2,526.0L1316.4,531.1L1311.9,535.1L1307.5,539.2L1309.1,547.3L1307.9,555.5L1308.0,563.1L1304.7,568.7L1298.3,574.3L1293.6,569.7L1289.8,558.5L1284.8,549.9L1280.4,539.2L1276.3,529.0L1273.5,518.8L1271.5,508.7L1270.4,502.6L1261.8,508.7L1254.6,502.6L1258.6,499.5L1252.9,496.0L1246.5,493.4L1241.7,486.3L1233.0,486.8L1220.4,487.3L1211.1,486.3L1201.3,484.3L1197.0,477.6L1190.0,480.7L1184.1,478.7L1174.8,473.6L1169.6,466.4L1160.5,462.9L1158.7,465.4L1161.6,472.0L1168.1,479.2L1170.9,485.8L1173.5,489.3L1174.6,482.7L1177.2,491.9L1185.6,492.9L1191.7,488.3L1195.6,484.3L1197.1,481.7L1197.9,489.3L1203.3,494.4L1209.1,496.0L1214.1,501.5L1211.3,509.7L1206.4,514.8L1203.3,519.9L1197.1,524.9L1188.7,530.5L1182.4,535.6L1171.6,540.7L1163.0,546.3L1152.0,550.4L1145.4,550.9L1142.0,544.3L1141.1,536.6L1138.9,529.0L1132.6,518.8L1125.4,508.7L1121.8,501.0L1115.5,490.9L1110.6,483.2L1103.2,473.1L1100.4,465.4L1100.3,474.1L1094.1,468.0L1091.6,463.4L1090.1,456.8L1098.2,456.3L1100.5,448.6L1102.3,442.5L1103.1,434.9L1103.7,429.8L1100.7,429.3L1096.4,428.3L1088.4,431.9L1079.8,430.3L1073.3,428.8L1066.9,427.3L1062.0,420.7L1062.6,414.6L1059.9,412.1L1060.1,410.6L1058.6,408.1L1050.4,408.1L1046.5,410.6L1045.0,412.1L1046.7,417.2L1051.7,421.2L1047.6,422.2L1046.1,429.8L1042.6,428.3L1041.4,422.7L1038.9,418.7L1034.4,414.1L1031.6,409.6L1031.4,403.0L1027.0,399.5L1020.6,395.5L1014.2,391.0L1009.8,385.9L1006.4,384.0L1000.9,385.0L1001.9,389.5L1006.7,394.5L1011.6,401.5L1017.2,404.5L1023.6,408.1L1028.0,411.6L1022.0,414.6L1020.3,419.7L1017.1,422.2L1017.0,414.6L1012.7,411.1L1007.0,405.5L1000.6,402.5L994.2,397.0L992.0,392.0L985.8,390.5L981.9,393.0L975.9,396.5L969.8,395.0L964.5,396.0L964.6,402.0L959.7,406.0L954.8,408.6L950.7,414.6L952.3,418.7L948.6,424.2L943.1,428.8L932.6,429.3ZM363.4,274.2L367.6,276.7L368.6,279.3L369.7,282.0L374.1,282.4L378.4,282.9L379.5,286.4L369.7,289.0L359.1,293.5L353.5,292.2L351.1,289.0L346.0,289.0L337.7,291.3L350.4,282.6ZM1450.2,727.4L1453.0,728.9L1462.2,721.3L1469.0,720.3L1476.2,717.2L1485.4,714.7L1492.5,707.1L1493.0,702.0L1499.2,698.9L1504.5,693.3L1509.6,689.3L1516.3,685.7L1521.3,691.3L1527.5,691.3L1530.3,684.2L1533.7,678.6L1540.5,674.0L1542.8,677.1L1549.2,676.0L1555.7,677.6L1561.0,677.6L1557.0,684.2L1553.9,690.3L1559.6,695.9L1567.0,704.0L1574.9,704.5L1580.8,691.8L1581.9,681.6L1585.9,671.5L1587.8,669.9L1590.9,680.6L1591.1,688.8L1597.2,691.8L1597.9,704.5L1598.5,712.2L1607.0,719.8L1608.0,728.9L1613.3,730.5L1614.6,737.6L1619.0,745.2L1617.9,752.9L1616.4,760.5L1608.7,773.2L1603.1,780.8L1594.8,787.4L1585.0,797.6L1579.5,806.2L1570.3,807.8L1559.4,814.3L1557.1,808.3L1548.7,812.8L1541.5,810.8L1536.8,807.8L1538.5,801.2L1538.3,796.6L1534.5,796.6L1538.8,791.0L1539.6,784.4L1534.2,793.5L1530.1,795.1L1535.7,788.5L1527.5,792.5L1524.5,791.5L1523.8,783.4L1517.4,778.3L1513.2,775.7L1506.5,776.5L1499.8,777.3L1490.2,779.8L1480.3,783.4L1476.4,788.0L1466.0,787.4L1458.6,790.0L1450.8,793.5L1444.5,793.5L1439.5,790.0L1444.4,784.9L1447.4,776.3L1447.1,768.1L1448.2,763.0L1447.7,750.3L1445.5,748.3L1447.8,740.1L1448.3,735.0ZM484.1,1014.2L491.8,1014.3L499.5,1014.5L507.1,1014.7L514.8,1014.8L522.4,1015.0L530.0,1015.2L537.6,1015.3L545.2,1015.5L552.7,1015.6L560.3,1015.8L567.8,1016.0L575.3,1016.1L562.8,1014.0L549.8,1011.7L536.5,1009.3L539.8,1007.9L543.2,1006.5L546.6,1005.0L550.1,1003.5L543.6,1004.1L537.1,1004.8L530.7,1005.4L517.2,1002.6L503.5,999.6L493.8,998.2L484.1,996.7L485.3,994.5L486.6,992.2L488.0,989.9L494.2,989.0L500.4,988.0L506.8,987.0L513.2,986.0L519.9,985.0L526.6,984.1L533.5,983.1L540.4,982.1L549.5,982.8L558.6,983.4L567.6,984.1L569.3,980.2L571.5,976.3L579.3,977.0L587.0,977.6L594.8,978.3L604.5,980.2L614.2,982.1L618.7,979.3L623.4,976.4L628.4,973.5L633.6,970.5L643.3,971.9L653.0,973.4L661.4,973.6L669.7,973.8L678.1,974.0L685.4,973.9L692.7,973.7L700.0,973.5L707.4,973.4L715.2,974.4L722.9,975.3L728.7,974.1L734.5,972.8L740.4,971.5L734.6,962.7L728.7,954.9L730.7,949.1L734.5,945.3L738.4,941.4L744.2,938.0L750.1,934.5L754.9,932.6L759.8,930.7L761.8,933.6L757.8,938.5L754.0,943.3L750.1,953.0L757.9,962.7L761.7,969.6L765.6,976.3L761.4,981.0L757.5,985.5L754.0,990.0L760.6,989.9L767.2,989.7L773.8,989.6L782.0,990.8L790.2,992.1L798.2,993.3L806.2,994.4L814.2,995.6L822.0,996.8L829.0,996.8L836.1,996.8L843.1,996.8L849.7,994.0L856.4,991.2L863.4,988.4L870.5,985.5L877.9,982.5L884.6,980.0L891.4,977.4L898.3,974.8L905.4,972.2L912.6,969.6L920.2,968.3L927.8,967.0L935.6,965.8L943.7,965.5L951.8,965.3L960.0,965.1L967.3,963.9L974.7,962.7L982.1,961.5L990.9,961.5L999.7,961.5L1008.5,961.5L1015.6,962.0L1022.7,962.5L1029.7,963.1L1037.5,961.8L1045.4,960.4L1053.4,959.1L1061.4,957.8L1069.3,959.1L1077.2,960.4L1085.1,957.3L1093.1,954.1L1103.6,952.0L1114.2,949.9L1122.1,947.2L1130.1,944.6L1139.0,946.0L1147.8,947.4L1156.5,948.8L1163.4,949.6L1170.2,950.4L1177.0,951.2L1183.0,952.5L1183.0,963.1L1190.8,960.4L1198.8,957.8L1207.4,954.9L1216.2,952.1L1223.3,950.5L1230.5,948.8L1241.0,947.2L1251.6,945.6L1261.3,945.6L1271.0,945.5L1280.4,944.8L1289.8,944.2L1299.2,943.5L1308.1,943.9L1316.9,944.2L1325.7,944.6L1336.2,944.0L1346.8,943.5L1354.3,944.5L1361.8,945.5L1370.2,945.8L1378.5,946.2L1389.0,945.6L1399.6,945.1L1410.2,944.6L1416.5,945.9L1422.7,947.3L1428.8,948.6L1435.1,950.8L1441.2,953.0L1447.2,955.1L1453.4,956.6L1459.5,958.1L1463.9,959.6L1468.2,961.1L1472.5,962.6L1476.7,964.1L1480.1,965.6L1483.4,967.0L1485.8,968.5L1488.2,969.9L1474.5,975.3L1466.7,977.1L1458.9,978.9L1450.0,981.2L1426.6,990.6L1424.7,994.4L1413.3,996.3L1402.1,998.2L1391.7,1004.8L1393.1,1007.2L1394.5,1009.5L1399.8,1010.1L1405.2,1010.6L1410.5,1011.2L1415.7,1011.8L1421.0,1012.3L1422.8,1012.8L1407.6,1018.1L1393.7,1022.4L1381.5,1025.8L1374.4,1025.8L1367.3,1025.8L1360.2,1025.8L1353.1,1025.8L1346.0,1025.8L1338.9,1025.8L1331.8,1025.8L1324.7,1025.8L1317.5,1025.8L1310.4,1025.8L1303.3,1025.8L1296.2,1025.8L1289.1,1025.8L1282.0,1025.8L1274.9,1025.8L1267.8,1025.8L1260.7,1025.8L1253.6,1025.8L1246.5,1025.8L1239.4,1025.8L1232.3,1025.8L1225.1,1025.8L1218.0,1025.8L1210.9,1025.8L1203.8,1025.8L1196.7,1025.8L1189.6,1025.8L1182.5,1025.8L1175.4,1025.8L1168.3,1025.8L1161.2,1025.8L1154.1,1025.8L1147.0,1025.8L1139.9,1025.8L1132.7,1025.8L1125.6,1025.8L1118.5,1025.8L1111.4,1025.8L1104.3,1025.8L1097.2,1025.8L1090.1,1025.8L1083.0,1025.8L1075.9,1025.8L1068.8,1025.8L1061.7,1025.8L1054.6,1025.8L1047.5,1025.8L1040.3,1025.8L1033.2,1025.8L1026.1,1025.8L1019.0,1025.8L1011.9,1025.8L1004.8,1025.8L997.7,1025.8L990.6,1025.8L983.5,1025.8L976.4,1025.8L969.3,1025.8L962.2,1025.8L955.1,1025.8L947.9,1025.8L940.8,1025.8L933.7,1025.8L926.6,1025.8L919.5,1025.8L912.4,1025.8L905.3,1025.8L898.2,1025.8L891.1,1025.8L884.0,1025.8L876.9,1025.8L869.8,1025.8L862.7,1025.8L855.5,1025.8L848.4,1025.8L841.3,1025.8L834.2,1025.8L827.1,1025.8L820.0,1025.8L812.9,1025.8L805.8,1025.8L798.7,1025.8L791.6,1025.8L784.5,1025.8L777.4,1025.8L770.3,1025.8L763.1,1025.8L756.0,1025.8L748.9,1025.8L741.8,1025.8L734.7,1025.8L727.6,1025.8L720.5,1025.8L713.4,1025.8L706.3,1025.8L699.2,1025.8L692.1,1025.8L685.0,1025.8L677.9,1025.8L670.7,1025.8L663.6,1025.8L656.5,1025.8L649.4,1025.8L642.3,1025.8L635.2,1025.8L628.1,1025.8L621.0,1025.8L613.9,1025.8L606.8,1025.8L599.7,1025.8L592.6,1025.8L585.5,1025.8L578.3,1025.8L571.2,1025.8L564.1,1025.8L557.0,1025.8L549.9,1025.8L542.8,1025.8L535.7,1025.8L528.6,1025.8L521.5,1025.8L504.2,1020.9ZM700.0,362.6L710.3,364.6L704.7,366.1ZM695.4,377.5L704.2,380.0L697.9,381.0ZM674.5,450.9L675.3,451.2L674.4,451.4ZM705.6,253.7L708.6,255.7L711.6,257.8L714.8,259.8L718.0,261.9L721.6,263.6L725.2,265.2L731.3,268.2L734.1,271.6L732.0,278.0L735.7,280.2L739.5,282.4L744.3,284.2L737.8,289.0L729.4,292.2L728.1,298.0L724.1,302.6L717.4,305.3L711.1,304.0L705.6,301.2L700.6,297.6L696.1,293.5L690.2,294.9L684.7,292.6L688.7,289.5L694.1,289.3L699.5,289.0L704.8,284.6L710.0,278.9L704.8,276.7L698.3,274.2L696.7,269.5L690.5,269.0L684.4,268.6L675.7,269.5L669.3,267.3L668.0,263.1L673.1,259.0L684.5,254.9L690.5,254.3L696.4,253.7L701.0,253.7ZM661.3,286.8L666.6,289.0L669.7,292.0L673.0,294.9L664.0,298.0L655.7,297.6L651.5,293.5L658.1,289.0ZM716.7,374.0L724.8,368.8L732.9,363.6L737.6,354.8L742.0,364.6L742.5,374.0L737.7,378.5L731.1,376.5L723.9,374.0ZM465.9,370.0L460.8,367.6L455.1,361.6L454.5,358.2L458.8,359.2L464.5,362.1L465.8,366.6ZM793.8,315.1L802.4,309.5L808.8,300.3L816.1,290.4L824.4,288.6L833.4,286.8L844.2,278.0L853.6,277.0L862.9,275.9L869.3,272.7L875.7,269.5L881.0,267.3L880.7,261.1L886.7,254.9L892.1,250.9L896.9,243.0L897.7,239.2L896.2,233.6L904.1,230.1L910.7,225.1L904.1,224.3L897.6,223.5L891.3,222.0L885.2,220.5L879.2,219.9L873.3,219.4L867.4,218.8L860.4,218.9L853.3,219.0L846.2,219.1L839.2,219.8L832.1,220.5L825.0,221.3L817.8,222.0L811.3,222.3L804.8,222.6L798.3,222.9L792.4,223.5L786.4,224.2L778.7,226.7L771.7,228.4L764.6,230.1L755.4,232.6L745.9,235.1L741.0,237.3L744.5,238.2L748.0,239.2L750.8,241.1L753.6,243.0L759.1,243.5L764.6,244.0L770.2,244.6L773.8,245.7L777.5,246.9L778.0,250.9L779.1,257.0L778.9,263.1L781.1,268.2L787.0,269.5L781.6,270.5L776.3,271.6L782.8,275.0L773.9,280.2L772.7,286.8L775.0,293.5L776.6,302.6L779.3,309.5L784.0,311.3L788.7,313.2ZM578.4,504.1L587.4,499.0L596.3,498.0L602.6,500.5L610.7,505.6L618.3,508.7L624.5,512.7L618.6,514.3L609.7,514.3L608.0,510.2L602.0,505.6L593.5,502.6L586.8,503.6L580.4,505.6ZM623.4,514.3L631.8,514.3L638.4,514.3L645.5,517.8L649.7,520.9L642.4,522.4L635.0,526.0L629.6,522.9L622.6,521.9L629.0,519.4ZM605.3,521.9L614.1,522.4L611.7,524.4L606.5,523.4ZM654.5,521.4L661.5,521.9L660.4,523.9L654.2,523.9ZM608.3,479.7L612.5,480.2L609.4,480.7ZM615.4,478.7L616.2,481.7L615.0,483.7ZM610.0,487.8L611.1,492.4L609.7,493.4L608.8,490.4ZM617.3,485.8L619.1,488.3L617.5,490.4ZM619.5,495.4L621.8,498.0L619.9,499.0ZM625.0,500.5L627.4,502.1L625.5,503.1ZM264.5,512.2L267.8,515.3L264.2,519.4L263.3,515.3ZM261.8,508.7L264.6,509.7L262.6,510.7ZM255.5,505.6L257.8,507.1L256.0,507.1ZM249.6,502.6L251.7,503.1L250.6,504.1ZM321.7,343.1L326.5,342.1L321.6,345.0ZM302.8,348.4L310.6,346.5L305.7,349.4ZM282.6,351.4L290.7,350.9L285.4,352.3ZM267.6,352.8L275.3,352.8L269.9,354.3ZM381.2,328.2L394.8,324.0L391.1,326.8L382.1,330.1ZM356.5,298.0L365.0,298.9L359.3,299.9ZM355.8,312.3L359.9,312.7L355.3,315.1ZM452.6,342.6L452.4,347.5L446.3,351.8L446.8,346.0ZM456.2,332.1L457.6,336.8L452.2,337.8ZM714.7,874.8L721.9,875.2L726.2,876.7L723.4,879.6L717.1,878.2ZM807.9,888.4L815.6,888.9L812.2,890.8ZM675.1,560.6L679.1,560.6L679.0,564.1L674.9,564.1ZM677.5,531.6L680.1,532.1L678.5,534.6ZM679.5,539.7L681.1,541.7L679.8,542.2ZM679.6,544.8L680.4,545.8L679.9,546.8ZM685.6,547.8L686.9,548.9L686.0,549.4ZM677.8,528.0L678.6,528.5L678.1,529.3ZM540.3,616.5L543.9,617.0L542.2,620.6ZM646.6,829.0L650.3,828.0L652.8,835.5L649.6,835.5ZM1171.4,676.5L1173.6,685.4L1175.8,694.4L1172.0,704.5L1167.5,717.2L1163.4,728.7L1159.2,740.1L1148.7,745.2L1143.0,735.0L1141.9,724.9L1147.4,714.7L1146.5,702.0L1157.9,695.9L1165.1,685.7ZM882.3,470.0L884.8,472.6L883.4,474.1ZM875.8,469.5L877.8,472.0L873.9,473.1ZM891.8,468.0L893.6,467.0L890.0,471.5ZM989.6,596.2L991.4,597.2L990.1,599.2ZM1194.9,721.8L1197.1,722.8L1195.6,724.4ZM1205.0,717.2L1206.2,718.8L1204.4,719.8ZM1189.9,550.9L1194.4,551.4L1192.3,552.9ZM1222.7,862.5L1227.7,864.9L1222.8,867.4ZM832.5,418.4L839.1,418.2L834.8,420.2ZM843.7,422.7L846.6,423.2L844.8,423.7ZM822.1,414.6L822.9,415.1L822.0,415.6ZM877.7,448.4L880.2,448.9L878.9,449.7ZM925.9,303.5L928.3,304.0L926.9,305.3ZM946.5,310.9L947.9,312.3L946.8,314.6ZM939.2,317.9L941.7,318.3L940.3,319.7ZM922.9,264.8L926.4,264.4L924.4,265.7ZM927.7,324.0L929.0,321.2L924.0,325.9ZM995.9,276.7L1002.3,275.4L997.7,278.0ZM929.3,361.9L937.9,360.7L947.6,358.7L956.9,356.2L958.0,348.9L952.6,347.0L950.7,342.6L945.9,337.8L944.1,333.5L940.4,333.0L944.9,325.4L938.7,324.9L940.2,320.7L933.3,320.7L931.3,325.9L930.0,330.6L931.0,335.9L933.5,337.8L938.4,338.3L939.8,342.6L940.1,346.0L933.9,348.4L935.8,350.9L931.5,353.8L938.0,355.3L935.3,356.7ZM928.5,351.4L928.0,345.0L930.4,339.7L924.2,336.4L919.5,341.2L913.8,341.7L915.4,346.0L911.5,352.8L914.9,354.3L920.7,353.3ZM875.7,295.8L870.1,289.0L875.9,285.1L883.4,285.5L890.9,285.9L896.0,285.3L901.2,284.6L905.6,290.4L900.0,294.4L894.6,296.5L889.1,298.5L884.0,297.6L879.0,296.7ZM983.0,235.5L989.1,238.2L995.5,241.1L1003.2,243.0L1009.1,240.1L1014.9,237.3L1021.1,234.0L1027.1,230.8L1020.3,230.0L1013.5,229.2L1006.8,228.4L1000.2,229.6L993.5,230.8L988.0,231.3L982.4,231.9ZM1002.5,233.6L1010.0,234.9L1017.5,236.2L1021.7,235.8L1025.9,235.5L1020.3,233.8L1014.9,232.2L1008.7,232.9ZM1081.5,228.4L1089.2,229.0L1097.0,229.5L1104.9,230.1L1111.0,229.5L1117.0,229.0L1123.0,228.4L1116.1,226.7L1109.2,225.1L1102.4,225.7L1095.5,226.2L1088.6,226.7L1085.1,227.6ZM1117.2,265.2L1122.5,266.3L1127.9,267.3L1135.2,266.1L1126.6,259.0L1125.0,250.9L1129.4,248.3L1133.6,245.7L1140.1,244.4L1146.5,243.0L1150.1,242.0L1153.7,241.1L1146.4,241.1L1139.1,241.1L1134.4,242.7L1129.7,244.4L1125.0,246.1L1122.6,249.5L1120.1,252.9L1118.2,257.8L1114.0,261.9ZM1139.8,268.6L1147.1,270.3L1142.3,267.3ZM1226.0,235.5L1232.9,236.4L1239.8,237.3L1244.3,236.3L1248.7,235.3L1253.1,234.4L1241.6,230.1L1233.6,228.4L1225.8,226.7L1220.0,227.6L1214.2,228.4L1212.3,230.1L1210.2,231.9L1218.1,233.6ZM1365.5,248.9L1374.6,250.9L1383.7,252.9L1392.9,254.9L1392.9,251.9L1392.7,248.9L1384.1,247.3L1375.5,245.7L1368.9,245.3L1362.3,245.0ZM1398.7,248.9L1402.6,248.5L1406.5,248.1L1401.4,246.9ZM1519.3,264.4L1521.7,263.1L1525.9,265.7L1522.7,265.7ZM381.3,263.1L387.9,264.0L377.1,265.7ZM1519.3,382.0L1523.6,379.5L1512.5,367.1L1518.3,367.1L1502.6,354.8L1494.9,345.0L1488.7,341.2L1495.4,349.9L1503.9,362.1L1512.6,372.0ZM1526.1,404.5L1529.3,403.0L1529.6,399.0L1538.1,402.0L1542.7,395.5L1538.3,392.0L1528.5,389.5L1520.2,385.0L1525.8,394.5L1522.0,395.5L1524.7,401.0ZM1530.2,404.5L1535.4,409.6L1540.4,414.6L1541.7,420.7L1541.8,424.8L1544.4,432.4L1547.3,437.5L1543.3,438.0L1539.6,436.4L1538.5,439.5L1532.2,439.5L1532.0,441.0L1529.6,445.1L1523.9,440.0L1515.7,440.5L1508.1,442.5L1506.8,440.5L1509.6,436.4L1513.2,434.9L1523.5,434.4L1524.8,428.3L1528.1,428.3L1525.1,424.8L1531.4,424.8L1533.7,421.2L1532.1,414.6L1528.8,409.6L1528.3,406.0ZM1514.0,446.6L1519.4,449.1L1524.2,443.6L1522.5,441.5L1516.3,442.0ZM1504.0,446.1L1507.4,443.0L1513.6,446.6L1514.7,455.8L1512.5,457.8L1508.4,452.7L1505.9,449.7ZM1479.8,487.3L1484.4,488.3L1483.8,496.0L1482.4,504.1L1478.2,498.5L1477.5,490.9ZM1431.0,517.8L1436.4,513.2L1441.1,515.3L1439.8,520.4L1435.7,522.9L1432.0,521.4ZM1308.6,565.6L1312.8,569.7L1318.2,578.9L1317.0,583.5L1312.6,585.5L1309.8,582.4L1308.1,573.8ZM1484.6,521.4L1492.1,521.4L1492.5,529.0L1491.1,536.6L1493.3,543.3L1503.4,545.3L1504.6,551.4L1499.5,549.4L1493.6,545.3L1488.3,545.3L1487.6,540.2L1483.0,533.1L1485.4,531.6ZM1495.3,555.5L1501.2,557.0L1509.4,558.0L1512.7,559.5L1510.9,564.6L1505.7,566.2L1501.5,569.7L1497.7,562.1ZM1487.1,546.8L1492.7,548.4L1491.9,553.4L1488.5,550.4ZM1475.8,572.8L1486.0,560.6L1484.8,557.5L1480.9,563.6L1477.0,570.7ZM1497.8,579.9L1503.9,571.8L1510.5,569.7L1512.4,565.6L1517.6,574.8L1516.8,582.9L1513.9,587.0L1507.0,582.9L1501.3,577.9ZM1440.7,607.9L1443.8,605.3L1449.5,602.3L1458.4,599.2L1464.8,592.1L1469.2,588.5L1474.6,580.4L1478.8,585.0L1484.0,589.0L1480.6,593.6L1479.5,600.2L1481.0,605.3L1485.6,610.4L1480.3,613.0L1478.9,619.6L1474.8,623.1L1473.7,630.8L1470.8,635.8L1465.4,635.8L1458.4,631.8L1453.0,633.3L1445.9,630.3L1445.2,623.1L1441.7,618.0ZM1378.6,587.0L1388.5,589.0L1394.1,596.2L1402.5,605.3L1407.0,606.9L1413.8,613.0L1417.4,620.6L1420.8,627.2L1427.0,631.8L1425.6,645.0L1419.8,644.0L1410.3,635.8L1404.6,628.7L1400.3,619.6L1395.9,613.0L1393.5,606.9L1387.5,600.2L1381.9,593.1ZM1422.6,650.1L1428.7,646.0L1436.7,647.5L1445.9,650.6L1455.7,650.6L1464.0,655.2L1462.3,659.8L1452.6,657.7L1443.7,656.7L1434.9,655.2L1427.8,653.1ZM1463.9,656.7L1468.7,658.2L1466.7,660.3ZM1470.5,658.2L1473.6,657.7L1472.1,660.8ZM1474.4,658.7L1484.0,657.2L1482.8,660.3L1474.7,661.3ZM1487.4,659.2L1494.4,658.2L1501.4,657.2L1499.4,660.3L1488.2,660.8ZM1483.4,663.8L1491.4,664.8L1487.6,667.9ZM1503.2,667.4L1510.5,661.3L1521.0,658.2L1514.9,662.3L1506.8,667.4ZM1487.0,643.5L1491.1,644.0L1492.1,630.8L1494.4,629.2L1498.5,638.4L1502.9,640.9L1500.0,633.3L1495.8,625.2L1504.9,620.1L1501.3,618.6L1494.6,620.1L1491.5,613.0L1496.8,610.4L1503.6,610.9L1511.1,608.4L1510.3,613.5L1503.6,613.0L1493.7,613.0L1489.3,614.5L1487.8,623.1L1484.5,629.7L1487.0,633.3ZM1523.6,605.3L1528.2,607.9L1526.0,613.0L1529.6,618.0L1525.1,619.1L1523.8,613.0ZM1525.7,629.7L1534.7,630.3L1538.2,633.3L1530.1,633.3ZM1516.7,631.8L1522.1,632.3L1519.3,635.3ZM1539.4,622.1L1546.2,617.5L1552.9,620.1L1559.3,631.8L1569.9,623.1L1577.0,625.9L1584.1,628.7L1591.8,631.8L1599.6,634.8L1604.9,643.5L1612.3,647.5L1613.8,656.2L1619.8,663.8L1625.1,667.9L1617.0,668.4L1609.5,663.8L1604.9,656.2L1596.1,654.2L1591.0,661.3L1582.0,661.8L1573.5,656.7L1568.9,658.2L1568.4,652.6L1571.8,650.1L1567.9,640.9L1559.0,637.9L1552.4,635.3L1547.9,635.8L1543.7,629.7L1548.2,627.7L1543.8,625.7ZM1616.1,643.5L1623.9,640.9L1630.8,636.9L1634.4,636.9L1630.5,643.5L1623.5,647.5L1616.8,646.0ZM1628.1,629.2L1633.3,632.3L1637.5,638.9L1635.7,637.9L1631.0,633.3ZM1088.2,437.5L1097.5,433.9L1095.4,438.0L1090.9,439.5ZM1050.8,435.9L1062.7,435.9L1059.4,437.5L1053.0,436.9ZM1003.3,423.2L1007.8,421.2L1016.6,420.7L1014.9,427.3L1011.6,428.3ZM986.4,417.2L991.4,416.1L991.9,408.1L989.3,406.0L985.3,408.1ZM986.7,402.5L990.1,405.0L990.2,397.5L987.0,399.0ZM992.6,336.4L998.5,334.9L996.8,332.5L993.2,334.0ZM1018.6,328.2L1021.0,324.5L1019.8,324.0ZM1364.2,546.8L1366.3,554.5L1364.7,556.5ZM1541.7,394.0L1546.7,389.5L1549.0,385.4L1543.3,390.5ZM1551.3,382.0L1555.4,379.5L1552.6,381.0ZM1507.8,482.7L1509.5,479.2L1508.2,480.7ZM707.4,961.8L712.2,960.8L717.1,959.8L723.9,966.6L719.5,967.6L715.2,968.6ZM738.4,928.7L743.3,926.8L748.1,926.8L744.3,929.3ZM1547.5,822.4L1554.1,824.5L1562.2,823.4L1557.9,830.0L1548.1,836.5L1544.1,836.5L1545.2,830.0ZM1684.1,790.5L1688.2,795.1L1687.8,801.2L1687.9,806.2L1693.3,808.3L1698.1,807.3L1690.4,814.9L1684.8,816.9L1677.0,823.4L1670.2,827.0L1668.9,825.5L1675.8,818.4L1673.0,815.4L1680.8,808.8L1684.5,801.2L1683.0,794.6ZM1664.1,821.4L1668.5,824.5L1662.5,830.0L1652.4,837.0L1642.7,841.5L1634.5,848.5L1625.6,852.5L1617.3,849.0L1621.7,845.1L1632.6,839.0L1645.5,834.0L1654.3,828.0ZM1674.3,718.3L1679.9,722.3L1684.8,728.9L1682.5,729.5L1677.1,724.9ZM1652.5,649.1L1656.6,652.6L1654.3,653.7ZM1661.0,653.7L1666.4,658.7L1662.9,657.7ZM1667.0,661.3L1670.1,665.4L1667.5,664.8ZM1669.6,657.7L1673.4,664.3L1672.0,664.8ZM1673.0,667.4L1676.2,670.4L1674.0,669.9ZM1644.5,641.4L1649.8,649.1L1647.0,649.6L1644.8,644.0ZM1692.2,690.3L1694.0,694.4L1692.1,694.9ZM1695.9,697.9L1697.7,702.0L1696.2,702.5ZM1736.5,704.5L1742.0,705.5L1739.6,708.1L1736.2,707.6ZM1743.3,698.4L1749.9,698.4L1744.8,701.5ZM582.0,244.1L598.1,240.9L611.1,239.3L619.7,240.9L630.5,242.0L634.8,246.3L630.5,249.5L619.7,249.5L604.6,250.6L598.1,247.4L587.4,246.3ZM617.6,237.7L628.4,235.5L639.1,235.5L637.0,238.7L625.1,239.8ZM640.2,245.2L644.5,240.9L652.1,242.0L658.6,243.0L662.9,246.3L658.6,249.5L649.9,248.4L643.5,248.4ZM668.3,242.0L684.4,239.8L706.0,240.9L711.4,244.1L710.3,248.4L695.2,249.5L673.7,249.5L669.3,246.3ZM630.5,258.1L637.0,253.8L646.7,252.8L652.1,253.8L649.9,260.3L643.5,262.5L634.8,261.4ZM654.2,256.0L658.6,252.8L669.3,252.8L673.7,254.9L668.3,258.1L660.7,260.3L655.3,260.3ZM630.5,273.3L634.8,271.1L639.1,272.2L638.1,278.6L632.7,279.7ZM684.0,227.7L695.3,225.2L706.7,222.8L734.2,220.4L758.4,219.9L786.0,221.2L782.7,224.4L766.5,227.7L750.4,232.5L739.0,237.4L726.1,242.2L711.5,244.6L700.2,245.5L693.7,242.2L685.6,237.4L682.4,232.5ZM556.7,261.0L569.7,252.4L583.1,250.5L592.9,251.6L595.0,254.6L588.5,256.2L577.8,258.9L574.5,262.1L570.2,263.2L558.9,265.4ZM574.5,262.7L577.8,258.9L588.5,256.2L599.3,256.2L612.8,257.8L626.3,254.0L629.0,254.6L620.9,259.4L617.1,264.8L626.3,268.0L619.8,272.4L610.1,274.0L604.7,271.8L593.9,274.0L580.5,275.1L579.9,272.9L572.4,271.8L574.5,268.6L588.5,267.2L577.8,266.4L574.5,264.3Z" fill="#e5e5e5" stroke="#7e8184" stroke-width="3.6" stroke-linejoin="round"/>
<path d="M381.9,288.6L390.9,285.9L400.7,284.2L405.5,286.4L409.4,284.2L408.8,282.4L407.1,279.8L404.8,277.2L403.1,276.5L410.7,274.2L417.2,273.7L430.2,268.6L437.0,267.2L443.8,265.9L453.6,264.0L458.5,265.7L466.2,265.9L469.9,266.6L473.7,267.3L479.0,268.2L484.3,269.0L489.5,270.0L494.8,270.9L498.5,271.9L502.2,272.9L507.1,274.2L515.1,271.6L524.2,270.7L533.8,269.5L540.0,266.4L542.6,268.3L545.4,270.2L552.1,270.2L558.9,270.2L565.6,271.8L572.4,273.4L575.6,275.1L569.1,278.8L577.8,279.9L587.5,277.8L592.9,279.4L594.0,276.7L604.7,273.4L610.1,277.8L618.3,279.8L626.4,278.0L633.2,279.8L641.6,271.6L643.9,265.2L654.0,261.1L654.1,265.2L654.7,269.5L656.8,272.9L662.0,274.6L663.7,278.9L670.5,275.0L679.3,270.3L684.5,271.6L684.6,275.9L678.4,281.5L669.0,285.5L662.2,284.6L656.7,289.5L647.2,294.9L636.7,298.9L625.6,304.9L615.1,311.8L609.8,317.9L610.0,319.7L611.3,327.3L619.9,328.2L626.3,333.0L633.4,336.8L643.3,337.3L638.3,347.5L640.5,354.8L644.7,355.8L649.0,352.3L652.9,342.6L662.9,336.4L669.3,328.2L669.8,321.2L671.2,314.1L676.9,307.2L678.3,303.0L683.4,303.3L688.6,303.5L696.1,305.8L703.0,309.5L700.7,317.4L702.5,322.6L712.2,319.7L720.9,312.7L720.7,321.2L723.8,328.2L727.6,335.4L735.1,340.2L738.2,347.5L737.7,352.3L731.7,355.3L724.9,358.2L718.1,361.1L712.2,361.1L706.4,361.1L699.5,361.4L692.6,361.6L683.2,366.1L672.2,374.5L676.4,374.0L688.7,367.1L699.1,367.6L695.2,371.0L695.0,374.0L694.1,380.5L699.3,383.0L705.0,384.0L707.7,379.0L711.5,377.0L712.4,382.0L706.5,385.4L695.3,389.5L685.3,394.5L685.4,389.0L692.5,385.4L686.3,385.9L681.6,388.0L674.6,391.0L667.7,393.5L663.4,398.0L661.6,401.0L664.7,403.0L662.3,404.0L657.9,405.0L651.2,406.5L646.3,409.1L645.1,413.1L640.0,417.7L638.2,420.7L633.2,426.8L632.5,427.8L632.5,432.4L632.3,436.4L627.4,439.0L621.0,442.5L615.0,446.1L607.3,451.2L603.3,455.3L601.1,461.4L601.6,467.0L602.5,471.0L603.6,479.2L602.1,485.3L598.7,487.8L597.2,486.3L595.2,482.2L592.7,474.6L593.3,469.5L591.0,463.9L588.2,462.9L583.6,464.4L580.5,460.9L574.8,461.4L570.6,460.9L566.1,461.9L566.3,466.4L562.5,468.0L556.5,465.9L548.2,464.4L542.1,466.4L533.5,471.5L529.1,475.6L527.6,480.7L527.8,483.7L524.1,491.9L522.2,501.0L523.7,508.7L526.3,514.8L527.5,518.8L531.6,521.4L534.0,522.9L540.4,521.9L545.8,520.9L550.7,517.3L553.3,511.2L554.1,508.7L557.8,507.1L564.6,505.6L569.7,506.6L566.2,513.8L565.1,518.8L561.5,522.4L560.4,527.5L558.3,534.1L559.9,535.6L567.5,535.1L574.3,534.1L578.5,536.6L581.8,539.2L580.4,544.3L578.8,551.9L577.8,559.5L580.6,564.6L584.9,568.7L589.3,570.2L594.3,567.7L598.4,567.2L602.7,569.7L605.3,571.8L607.0,573.3L604.6,577.3L602.7,578.9L600.7,574.8L596.0,570.2L593.5,573.8L591.6,577.9L588.9,576.3L584.6,573.8L577.5,571.8L573.4,566.7L568.5,565.1L568.4,560.6L564.8,554.5L561.6,549.9L557.3,548.4L550.9,545.3L544.3,544.3L541.0,541.7L536.3,536.1L531.4,533.1L525.3,535.6L519.0,533.1L514.3,531.6L508.7,530.0L502.2,526.0L493.9,522.4L490.1,518.3L486.8,513.8L486.2,511.7L487.9,509.7L487.9,504.1L486.4,500.0L485.1,497.5L481.5,490.9L477.8,487.3L474.7,483.7L475.6,479.7L471.9,475.1L470.6,473.6L467.9,469.0L466.9,466.4L466.1,457.8L463.5,455.3L459.8,453.7L458.4,460.3L460.8,465.4L462.3,470.5L464.0,477.1L465.8,480.7L466.7,484.3L468.2,489.3L468.9,492.4L471.7,496.0L469.4,499.0L467.8,496.0L463.9,491.4L461.6,489.8L462.1,483.2L459.2,479.2L455.4,477.1L452.3,474.1L456.9,473.1L456.1,468.0L453.1,460.9L452.3,456.8L452.2,453.2L451.2,450.2L451.4,447.1L449.6,444.1L448.0,442.5L445.5,441.5L440.1,440.0L440.9,435.9L439.1,429.3L438.4,426.3L439.3,423.2L438.2,421.2L437.0,417.7L438.8,413.1L437.9,410.1L442.1,404.5L444.2,398.0L449.3,392.0L456.7,381.0L458.7,377.0L460.4,370.0L466.4,371.0L466.0,375.5L468.9,369.0L468.9,366.1L467.7,363.1L465.1,360.2L460.3,357.2L460.5,352.3L461.6,347.5L459.4,342.6L461.5,339.2L462.5,335.4L462.2,331.6L460.5,327.3L461.3,322.1L457.7,319.7L453.0,319.7L449.5,316.0L444.2,314.1L435.6,314.1L431.3,311.8L425.7,310.4L420.5,312.3L411.2,316.5L403.2,317.9L411.5,311.3L418.2,308.6L411.5,310.4L404.8,314.1L397.6,317.4L390.6,321.2L380.4,325.9L371.5,329.7L362.0,333.0L352.4,335.4L341.9,338.3L331.5,340.7L341.6,336.8L353.1,333.0L366.7,327.3L376.0,323.5L381.1,320.2L376.9,319.7L367.5,320.7L369.1,315.5L365.4,314.1L365.8,310.0L369.1,305.8L377.7,301.2L382.9,299.9L393.2,298.0L400.8,293.1L392.8,294.0L388.2,293.1L382.3,293.1L383.3,290.8ZM605.3,571.2L607.8,574.8L610.8,568.2L614.3,562.1L617.6,559.5L623.5,558.0L629.5,554.5L631.9,552.4L634.7,556.5L631.9,559.5L634.5,560.1L638.3,556.5L639.3,554.5L643.6,557.0L647.8,561.6L656.7,561.6L665.7,561.6L672.4,561.1L675.4,564.6L678.7,569.7L683.1,572.3L689.5,579.9L696.1,585.0L705.1,585.5L714.0,587.5L720.1,594.1L722.7,600.2L727.1,606.3L727.1,613.0L731.5,616.5L734.3,620.6L740.5,619.1L751.8,627.2L763.1,629.7L774.3,630.8L781.1,635.8L787.9,640.9L793.7,643.5L795.2,651.1L795.0,661.3L788.5,668.9L784.3,676.5L780.0,681.6L778.2,691.8L778.8,704.5L775.9,714.7L772.2,727.4L767.3,732.5L756.4,733.5L748.0,737.6L742.1,745.2L739.8,752.9L740.2,760.5L736.0,768.1L732.0,775.7L727.6,783.4L724.2,788.5L719.1,793.0L712.2,792.5L704.5,790.0L709.5,796.1L713.0,800.7L711.3,808.8L705.9,812.3L697.9,813.8L692.4,813.3L695.0,818.9L690.2,824.0L684.0,824.0L687.0,831.5L691.9,833.0L687.6,839.0L684.0,844.1L681.6,849.0L690.0,856.5L686.7,863.9L683.6,871.3L689.5,880.1L690.5,883.5L697.4,890.8L706.7,892.2L700.4,893.2L695.0,893.7L689.6,894.2L679.4,888.4L668.5,881.1L657.4,868.9L657.3,859.0L650.5,851.5L652.9,841.5L650.6,829.0L646.6,818.9L644.6,806.2L645.3,796.1L645.7,783.4L644.5,775.7L643.4,768.1L643.3,755.4L643.1,742.7L642.8,735.0L642.6,727.4L642.0,719.8L641.5,712.2L634.9,704.5L625.5,698.4L615.8,689.3L610.7,681.6L605.7,674.0L600.6,663.8L595.6,653.7L588.6,646.0L587.0,638.4L591.8,633.3L592.6,628.2L588.5,626.7L590.6,618.0L592.4,611.4L597.0,607.9L599.3,602.8L603.9,597.7L605.1,587.5L604.4,582.4L602.7,578.9ZM927.0,433.4L935.0,435.2L943.0,436.9L951.5,433.4L957.8,430.8L964.1,428.3L970.4,427.8L976.7,427.3L987.6,427.8L994.7,426.3L997.7,428.3L995.8,434.9L998.0,436.4L994.8,441.0L996.2,444.6L1000.5,447.1L1009.1,448.6L1016.9,451.2L1018.0,455.3L1028.9,460.3L1035.8,460.3L1037.7,455.3L1037.0,451.7L1043.2,448.1L1049.7,449.7L1058.6,453.7L1067.3,455.8L1076.1,458.3L1082.3,455.3L1089.7,456.3L1091.6,463.4L1094.4,470.5L1099.3,478.1L1103.1,485.8L1106.9,493.4L1113.2,503.6L1116.1,516.3L1121.8,523.9L1126.9,536.6L1133.9,544.3L1140.9,550.9L1144.7,555.5L1150.3,562.6L1161.3,558.5L1170.2,558.0L1179.9,555.5L1179.3,562.6L1177.3,569.7L1173.2,579.9L1166.7,590.1L1162.3,597.7L1157.9,605.3L1146.8,618.0L1137.7,624.7L1130.9,633.3L1127.7,640.9L1128.4,651.1L1128.1,661.3L1132.4,668.9L1131.9,681.6L1131.5,691.8L1124.3,702.0L1112.8,711.1L1105.8,717.2L1107.5,727.4L1106.9,737.6L1095.5,745.2L1094.1,752.9L1091.8,760.5L1085.1,768.1L1078.0,775.7L1071.0,782.4L1062.0,787.4L1055.6,788.0L1049.2,788.5L1042.7,790.5L1036.2,792.5L1030.0,789.5L1029.5,783.4L1027.8,775.7L1022.9,761.0L1017.6,752.9L1016.4,742.7L1015.1,732.5L1014.8,727.4L1009.7,717.2L1003.7,704.5L1004.8,691.8L1011.7,679.1L1011.1,671.5L1010.5,663.8L1008.6,654.9L1006.6,646.0L1005.3,640.9L1000.8,634.8L994.1,628.2L992.8,619.6L994.1,610.4L995.5,600.2L991.9,595.2L988.7,592.6L982.9,593.1L978.4,593.6L973.9,587.5L971.7,583.5L962.7,583.5L956.0,585.0L947.0,590.1L942.5,591.1L933.6,589.0L924.6,591.1L917.9,593.1L911.2,590.1L902.2,582.4L895.5,577.3L892.0,569.7L886.7,562.1L882.3,557.0L877.1,552.4L876.7,546.8L873.7,540.7L878.3,534.1L879.8,523.9L879.6,516.3L876.6,509.7L879.1,501.0L883.7,493.4L888.3,483.2L895.1,475.1L901.7,471.5L908.3,465.4L909.4,457.8L915.3,446.1L922.6,442.5ZM927.9,432.4L925.0,428.3L920.5,426.3L914.2,427.3L914.8,419.7L912.0,418.2L914.8,409.6L915.5,402.0L913.6,397.0L919.1,393.5L927.2,394.0L935.3,395.0L944.2,395.0L946.3,389.5L946.7,382.0L942.8,376.5L933.7,372.5L933.0,369.0L939.7,368.0L945.2,368.5L944.1,363.6L946.8,365.6L952.3,364.6L957.3,361.1L957.7,357.7L963.1,356.2L966.9,353.3L969.4,347.9L974.3,345.5L979.9,344.6L984.0,343.1L983.7,337.8L981.5,330.6L982.8,327.8L989.9,324.9L989.6,330.1L991.7,334.0L988.2,337.8L992.6,340.7L996.8,341.7L1002.8,341.7L1005.6,343.1L1011.8,341.2L1021.0,338.8L1025.0,340.7L1030.8,336.8L1029.2,330.6L1031.1,325.9L1034.3,324.9L1040.9,327.3L1036.9,321.2L1039.8,316.9L1046.1,316.7L1052.3,316.5L1059.9,314.6L1055.3,313.2L1046.1,312.3L1040.1,313.4L1034.0,314.6L1028.1,310.9L1027.3,306.3L1025.3,300.3L1028.4,296.2L1035.1,291.7L1038.2,289.9L1033.3,287.7L1027.7,288.2L1024.5,293.5L1022.3,296.7L1017.5,299.4L1012.8,303.5L1013.0,310.4L1019.0,315.1L1016.6,318.8L1012.3,325.4L1012.1,330.1L1005.4,333.0L999.3,335.4L997.8,330.6L994.6,323.5L991.3,319.3L989.3,316.5L985.9,318.8L980.7,323.0L975.2,323.0L971.4,318.8L969.3,311.8L969.1,305.8L973.5,302.1L980.9,298.0L985.9,294.4L993.8,287.7L996.4,281.1L1002.4,275.9L1008.3,271.6L1016.0,269.5L1020.6,268.2L1025.2,266.9L1033.6,264.8L1040.7,265.2L1043.5,270.0L1051.0,271.0L1058.5,272.0L1065.2,274.0L1072.0,276.0L1078.5,278.0L1085.0,280.0L1089.5,283.5L1085.0,286.5L1075.0,286.5L1065.0,284.5L1058.0,282.0L1062.0,285.5L1068.5,287.5L1069.0,293.0L1071.0,294.5L1076.0,294.5L1081.0,293.0L1077.0,291.0L1086.0,293.0L1090.5,293.0L1086.0,289.0L1093.0,287.0L1097.0,286.0L1099.0,285.0L1098.0,281.0L1094.0,277.0L1097.0,275.0L1105.0,280.5L1110.0,282.5L1117.0,277.0L1121.5,275.0L1126.0,273.0L1133.9,276.3L1140.0,275.4L1144.1,273.7L1147.6,271.2L1153.6,271.8L1159.6,272.4L1167.8,272.4L1167.9,267.3L1164.4,265.2L1165.7,259.0L1167.4,257.0L1174.3,257.8L1181.1,263.1L1183.8,269.5L1194.1,278.0L1194.0,283.3L1198.5,279.8L1196.8,274.6L1189.4,270.7L1188.9,265.2L1187.6,259.8L1192.9,259.8L1199.2,261.9L1203.3,259.0L1199.9,254.5L1205.4,254.1L1211.2,253.7L1217.0,253.3L1213.3,250.9L1216.3,247.7L1221.3,246.7L1226.2,245.7L1230.0,245.1L1233.9,244.6L1239.6,244.4L1245.3,244.2L1248.0,241.5L1250.9,239.9L1253.7,238.4L1262.1,239.9L1264.6,243.0L1269.5,242.2L1273.9,242.2L1278.3,242.2L1289.4,245.0L1294.5,248.9L1294.8,252.9L1300.1,253.5L1305.5,254.1L1311.4,254.5L1317.2,254.9L1325.4,255.9L1333.7,257.0L1338.6,255.9L1343.5,254.9L1355.0,259.0L1361.7,263.1L1370.6,265.2L1374.4,263.1L1381.8,262.7L1385.1,261.1L1388.4,259.4L1392.9,258.2L1400.8,258.8L1408.7,259.4L1417.4,261.1L1426.0,262.7L1438.1,265.7L1445.0,265.4L1451.9,265.2L1459.7,267.3L1467.6,269.5L1474.9,271.2L1482.4,270.7L1487.7,270.5L1493.1,270.3L1499.2,269.0L1508.6,269.9L1514.6,270.1L1520.6,270.3L1532.0,272.4L1539.6,274.2L1552.6,282.6L1565.3,291.3L1563.4,293.5L1572.5,302.6L1568.5,304.2L1564.5,305.8L1563.7,310.0L1562.7,314.1L1555.2,314.6L1547.7,315.1L1538.7,315.1L1543.1,323.5L1556.3,332.1L1558.6,338.8L1560.1,346.5L1555.8,347.9L1557.6,357.2L1548.1,349.9L1534.3,337.8L1526.9,329.2L1525.9,324.5L1529.5,321.2L1525.9,311.8L1526.4,304.9L1521.1,305.6L1515.7,306.3L1509.9,306.5L1503.9,306.7L1507.2,317.4L1498.7,317.9L1488.7,316.9L1482.6,317.2L1476.5,317.4L1471.4,317.6L1466.2,317.9L1464.6,323.5L1462.2,330.6L1459.5,339.2L1471.1,342.6L1477.8,341.7L1489.8,347.5L1495.0,357.2L1503.7,369.5L1501.9,377.0L1500.3,389.5L1496.9,393.7L1493.5,398.0L1485.9,399.0L1485.3,407.0L1487.2,412.1L1483.7,417.2L1491.6,424.8L1497.3,433.4L1497.2,436.9L1491.9,439.5L1487.5,440.0L1484.6,432.4L1482.0,424.8L1475.0,423.2L1471.7,418.2L1466.0,412.6L1461.4,414.1L1457.3,417.7L1454.1,412.1L1455.5,409.1L1449.7,407.6L1445.9,412.1L1441.6,416.1L1442.0,419.7L1448.9,424.8L1451.4,426.8L1455.8,424.2L1464.6,425.3L1460.1,429.3L1457.6,433.4L1456.3,438.5L1462.6,442.5L1468.5,450.2L1473.8,454.2L1475.4,458.8L1475.1,462.9L1477.6,463.9L1477.5,470.5L1474.9,476.6L1472.2,483.2L1471.0,487.3L1467.4,490.9L1462.4,498.5L1456.1,500.0L1450.0,502.6L1443.8,504.6L1437.7,507.7L1437.1,512.2L1433.9,506.1L1428.6,505.6L1422.6,509.7L1421.1,513.8L1418.8,518.8L1423.0,526.5L1428.2,531.6L1434.9,538.2L1438.4,549.4L1438.7,556.5L1433.7,560.6L1428.6,563.6L1422.1,571.8L1419.9,566.7L1418.2,562.1L1411.2,558.0L1408.5,553.4L1401.6,550.9L1396.8,546.8L1397.3,551.9L1394.6,562.1L1397.7,568.7L1400.5,577.3L1403.8,580.9L1409.4,584.0L1414.1,590.1L1415.7,597.7L1419.1,607.9L1416.0,608.9L1411.4,605.3L1406.0,601.3L1402.1,592.6L1400.9,585.0L1398.0,580.9L1392.3,574.8L1391.8,567.2L1391.2,559.5L1390.1,546.8L1385.8,536.6L1383.8,531.6L1377.0,530.0L1373.2,535.1L1369.8,533.1L1369.6,523.9L1364.1,516.3L1357.9,509.7L1355.7,503.6L1353.1,500.5L1349.1,503.6L1344.9,504.6L1340.6,505.6L1334.3,507.7L1333.9,511.2L1328.7,515.8L1324.9,520.4L1320.2,526.0L1316.4,531.1L1311.9,535.1L1307.5,539.2L1309.1,547.3L1307.9,555.5L1308.0,563.1L1304.7,568.7L1298.3,574.3L1293.6,569.7L1289.8,558.5L1284.8,549.9L1280.4,539.2L1276.3,529.0L1273.5,518.8L1271.5,508.7L1270.4,502.6L1261.8,508.7L1254.6,502.6L1258.6,499.5L1252.9,496.0L1246.5,493.4L1241.7,486.3L1233.0,486.8L1220.4,487.3L1211.1,486.3L1201.3,484.3L1197.0,477.6L1190.0,480.7L1184.1,478.7L1174.8,473.6L1169.6,466.4L1160.5,462.9L1158.7,465.4L1161.6,472.0L1168.1,479.2L1170.9,485.8L1173.5,489.3L1174.6,482.7L1177.2,491.9L1185.6,492.9L1191.7,488.3L1195.6,484.3L1197.1,481.7L1197.9,489.3L1203.3,494.4L1209.1,496.0L1214.1,501.5L1211.3,509.7L1206.4,514.8L1203.3,519.9L1197.1,524.9L1188.7,530.5L1182.4,535.6L1171.6,540.7L1163.0,546.3L1152.0,550.4L1145.4,550.9L1142.0,544.3L1141.1,536.6L1138.9,529.0L1132.6,518.8L1125.4,508.7L1121.8,501.0L1115.5,490.9L1110.6,483.2L1103.2,473.1L1100.4,465.4L1100.3,474.1L1094.1,468.0L1091.6,463.4L1090.1,456.8L1098.2,456.3L1100.5,448.6L1102.3,442.5L1103.1,434.9L1103.7,429.8L1100.7,429.3L1096.4,428.3L1088.4,431.9L1079.8,430.3L1073.3,428.8L1066.9,427.3L1062.0,420.7L1062.6,414.6L1059.9,412.1L1060.1,410.6L1058.6,408.1L1050.4,408.1L1046.5,410.6L1045.0,412.1L1046.7,417.2L1051.7,421.2L1047.6,422.2L1046.1,429.8L1042.6,428.3L1041.4,422.7L1038.9,418.7L1034.4,414.1L1031.6,409.6L1031.4,403.0L1027.0,399.5L1020.6,395.5L1014.2,391.0L1009.8,385.9L1006.4,384.0L1000.9,385.0L1001.9,389.5L1006.7,394.5L1011.6,401.5L1017.2,404.5L1023.6,408.1L1028.0,411.6L1022.0,414.6L1020.3,419.7L1017.1,422.2L1017.0,414.6L1012.7,411.1L1007.0,405.5L1000.6,402.5L994.2,397.0L992.0,392.0L985.8,390.5L981.9,393.0L975.9,396.5L969.8,395.0L964.5,396.0L964.6,402.0L959.7,406.0L954.8,408.6L950.7,414.6L952.3,418.7L948.6,424.2L943.1,428.8L932.6,429.3ZM363.4,274.2L367.6,276.7L368.6,279.3L369.7,282.0L374.1,282.4L378.4,282.9L379.5,286.4L369.7,289.0L359.1,293.5L353.5,292.2L351.1,289.0L346.0,289.0L337.7,291.3L350.4,282.6ZM1450.2,727.4L1453.0,728.9L1462.2,721.3L1469.0,720.3L1476.2,717.2L1485.4,714.7L1492.5,707.1L1493.0,702.0L1499.2,698.9L1504.5,693.3L1509.6,689.3L1516.3,685.7L1521.3,691.3L1527.5,691.3L1530.3,684.2L1533.7,678.6L1540.5,674.0L1542.8,677.1L1549.2,676.0L1555.7,677.6L1561.0,677.6L1557.0,684.2L1553.9,690.3L1559.6,695.9L1567.0,704.0L1574.9,704.5L1580.8,691.8L1581.9,681.6L1585.9,671.5L1587.8,669.9L1590.9,680.6L1591.1,688.8L1597.2,691.8L1597.9,704.5L1598.5,712.2L1607.0,719.8L1608.0,728.9L1613.3,730.5L1614.6,737.6L1619.0,745.2L1617.9,752.9L1616.4,760.5L1608.7,773.2L1603.1,780.8L1594.8,787.4L1585.0,797.6L1579.5,806.2L1570.3,807.8L1559.4,814.3L1557.1,808.3L1548.7,812.8L1541.5,810.8L1536.8,807.8L1538.5,801.2L1538.3,796.6L1534.5,796.6L1538.8,791.0L1539.6,784.4L1534.2,793.5L1530.1,795.1L1535.7,788.5L1527.5,792.5L1524.5,791.5L1523.8,783.4L1517.4,778.3L1513.2,775.7L1506.5,776.5L1499.8,777.3L1490.2,779.8L1480.3,783.4L1476.4,788.0L1466.0,787.4L1458.6,790.0L1450.8,793.5L1444.5,793.5L1439.5,790.0L1444.4,784.9L1447.4,776.3L1447.1,768.1L1448.2,763.0L1447.7,750.3L1445.5,748.3L1447.8,740.1L1448.3,735.0ZM484.1,1014.2L491.8,1014.3L499.5,1014.5L507.1,1014.7L514.8,1014.8L522.4,1015.0L530.0,1015.2L537.6,1015.3L545.2,1015.5L552.7,1015.6L560.3,1015.8L567.8,1016.0L575.3,1016.1L562.8,1014.0L549.8,1011.7L536.5,1009.3L539.8,1007.9L543.2,1006.5L546.6,1005.0L550.1,1003.5L543.6,1004.1L537.1,1004.8L530.7,1005.4L517.2,1002.6L503.5,999.6L493.8,998.2L484.1,996.7L485.3,994.5L486.6,992.2L488.0,989.9L494.2,989.0L500.4,988.0L506.8,987.0L513.2,986.0L519.9,985.0L526.6,984.1L533.5,983.1L540.4,982.1L549.5,982.8L558.6,983.4L567.6,984.1L569.3,980.2L571.5,976.3L579.3,977.0L587.0,977.6L594.8,978.3L604.5,980.2L614.2,982.1L618.7,979.3L623.4,976.4L628.4,973.5L633.6,970.5L643.3,971.9L653.0,973.4L661.4,973.6L669.7,973.8L678.1,974.0L685.4,973.9L692.7,973.7L700.0,973.5L707.4,973.4L715.2,974.4L722.9,975.3L728.7,974.1L734.5,972.8L740.4,971.5L734.6,962.7L728.7,954.9L730.7,949.1L734.5,945.3L738.4,941.4L744.2,938.0L750.1,934.5L754.9,932.6L759.8,930.7L761.8,933.6L757.8,938.5L754.0,943.3L750.1,953.0L757.9,962.7L761.7,969.6L765.6,976.3L761.4,981.0L757.5,985.5L754.0,990.0L760.6,989.9L767.2,989.7L773.8,989.6L782.0,990.8L790.2,992.1L798.2,993.3L806.2,994.4L814.2,995.6L822.0,996.8L829.0,996.8L836.1,996.8L843.1,996.8L849.7,994.0L856.4,991.2L863.4,988.4L870.5,985.5L877.9,982.5L884.6,980.0L891.4,977.4L898.3,974.8L905.4,972.2L912.6,969.6L920.2,968.3L927.8,967.0L935.6,965.8L943.7,965.5L951.8,965.3L960.0,965.1L967.3,963.9L974.7,962.7L982.1,961.5L990.9,961.5L999.7,961.5L1008.5,961.5L1015.6,962.0L1022.7,962.5L1029.7,963.1L1037.5,961.8L1045.4,960.4L1053.4,959.1L1061.4,957.8L1069.3,959.1L1077.2,960.4L1085.1,957.3L1093.1,954.1L1103.6,952.0L1114.2,949.9L1122.1,947.2L1130.1,944.6L1139.0,946.0L1147.8,947.4L1156.5,948.8L1163.4,949.6L1170.2,950.4L1177.0,951.2L1183.0,952.5L1183.0,963.1L1190.8,960.4L1198.8,957.8L1207.4,954.9L1216.2,952.1L1223.3,950.5L1230.5,948.8L1241.0,947.2L1251.6,945.6L1261.3,945.6L1271.0,945.5L1280.4,944.8L1289.8,944.2L1299.2,943.5L1308.1,943.9L1316.9,944.2L1325.7,944.6L1336.2,944.0L1346.8,943.5L1354.3,944.5L1361.8,945.5L1370.2,945.8L1378.5,946.2L1389.0,945.6L1399.6,945.1L1410.2,944.6L1416.5,945.9L1422.7,947.3L1428.8,948.6L1435.1,950.8L1441.2,953.0L1447.2,955.1L1453.4,956.6L1459.5,958.1L1463.9,959.6L1468.2,961.1L1472.5,962.6L1476.7,964.1L1480.1,965.6L1483.4,967.0L1485.8,968.5L1488.2,969.9L1474.5,975.3L1466.7,977.1L1458.9,978.9L1450.0,981.2L1426.6,990.6L1424.7,994.4L1413.3,996.3L1402.1,998.2L1391.7,1004.8L1393.1,1007.2L1394.5,1009.5L1399.8,1010.1L1405.2,1010.6L1410.5,1011.2L1415.7,1011.8L1421.0,1012.3L1422.8,1012.8L1407.6,1018.1L1393.7,1022.4L1381.5,1025.8L1374.4,1025.8L1367.3,1025.8L1360.2,1025.8L1353.1,1025.8L1346.0,1025.8L1338.9,1025.8L1331.8,1025.8L1324.7,1025.8L1317.5,1025.8L1310.4,1025.8L1303.3,1025.8L1296.2,1025.8L1289.1,1025.8L1282.0,1025.8L1274.9,1025.8L1267.8,1025.8L1260.7,1025.8L1253.6,1025.8L1246.5,1025.8L1239.4,1025.8L1232.3,1025.8L1225.1,1025.8L1218.0,1025.8L1210.9,1025.8L1203.8,1025.8L1196.7,1025.8L1189.6,1025.8L1182.5,1025.8L1175.4,1025.8L1168.3,1025.8L1161.2,1025.8L1154.1,1025.8L1147.0,1025.8L1139.9,1025.8L1132.7,1025.8L1125.6,1025.8L1118.5,1025.8L1111.4,1025.8L1104.3,1025.8L1097.2,1025.8L1090.1,1025.8L1083.0,1025.8L1075.9,1025.8L1068.8,1025.8L1061.7,1025.8L1054.6,1025.8L1047.5,1025.8L1040.3,1025.8L1033.2,1025.8L1026.1,1025.8L1019.0,1025.8L1011.9,1025.8L1004.8,1025.8L997.7,1025.8L990.6,1025.8L983.5,1025.8L976.4,1025.8L969.3,1025.8L962.2,1025.8L955.1,1025.8L947.9,1025.8L940.8,1025.8L933.7,1025.8L926.6,1025.8L919.5,1025.8L912.4,1025.8L905.3,1025.8L898.2,1025.8L891.1,1025.8L884.0,1025.8L876.9,1025.8L869.8,1025.8L862.7,1025.8L855.5,1025.8L848.4,1025.8L841.3,1025.8L834.2,1025.8L827.1,1025.8L820.0,1025.8L812.9,1025.8L805.8,1025.8L798.7,1025.8L791.6,1025.8L784.5,1025.8L777.4,1025.8L770.3,1025.8L763.1,1025.8L756.0,1025.8L748.9,1025.8L741.8,1025.8L734.7,1025.8L727.6,1025.8L720.5,1025.8L713.4,1025.8L706.3,1025.8L699.2,1025.8L692.1,1025.8L685.0,1025.8L677.9,1025.8L670.7,1025.8L663.6,1025.8L656.5,1025.8L649.4,1025.8L642.3,1025.8L635.2,1025.8L628.1,1025.8L621.0,1025.8L613.9,1025.8L606.8,1025.8L599.7,1025.8L592.6,1025.8L585.5,1025.8L578.3,1025.8L571.2,1025.8L564.1,1025.8L557.0,1025.8L549.9,1025.8L542.8,1025.8L535.7,1025.8L528.6,1025.8L521.5,1025.8L504.2,1020.9ZM700.0,362.6L710.3,364.6L704.7,366.1ZM695.4,377.5L704.2,380.0L697.9,381.0ZM674.5,450.9L675.3,451.2L674.4,451.4ZM705.6,253.7L708.6,255.7L711.6,257.8L714.8,259.8L718.0,261.9L721.6,263.6L725.2,265.2L731.3,268.2L734.1,271.6L732.0,278.0L735.7,280.2L739.5,282.4L744.3,284.2L737.8,289.0L729.4,292.2L728.1,298.0L724.1,302.6L717.4,305.3L711.1,304.0L705.6,301.2L700.6,297.6L696.1,293.5L690.2,294.9L684.7,292.6L688.7,289.5L694.1,289.3L699.5,289.0L704.8,284.6L710.0,278.9L704.8,276.7L698.3,274.2L696.7,269.5L690.5,269.0L684.4,268.6L675.7,269.5L669.3,267.3L668.0,263.1L673.1,259.0L684.5,254.9L690.5,254.3L696.4,253.7L701.0,253.7ZM661.3,286.8L666.6,289.0L669.7,292.0L673.0,294.9L664.0,298.0L655.7,297.6L651.5,293.5L658.1,289.0ZM716.7,374.0L724.8,368.8L732.9,363.6L737.6,354.8L742.0,364.6L742.5,374.0L737.7,378.5L731.1,376.5L723.9,374.0ZM465.9,370.0L460.8,367.6L455.1,361.6L454.5,358.2L458.8,359.2L464.5,362.1L465.8,366.6ZM793.8,315.1L802.4,309.5L808.8,300.3L816.1,290.4L824.4,288.6L833.4,286.8L844.2,278.0L853.6,277.0L862.9,275.9L869.3,272.7L875.7,269.5L881.0,267.3L880.7,261.1L886.7,254.9L892.1,250.9L896.9,243.0L897.7,239.2L896.2,233.6L904.1,230.1L910.7,225.1L904.1,224.3L897.6,223.5L891.3,222.0L885.2,220.5L879.2,219.9L873.3,219.4L867.4,218.8L860.4,218.9L853.3,219.0L846.2,219.1L839.2,219.8L832.1,220.5L825.0,221.3L817.8,222.0L811.3,222.3L804.8,222.6L798.3,222.9L792.4,223.5L786.4,224.2L778.7,226.7L771.7,228.4L764.6,230.1L755.4,232.6L745.9,235.1L741.0,237.3L744.5,238.2L748.0,239.2L750.8,241.1L753.6,243.0L759.1,243.5L764.6,244.0L770.2,244.6L773.8,245.7L777.5,246.9L778.0,250.9L779.1,257.0L778.9,263.1L781.1,268.2L787.0,269.5L781.6,270.5L776.3,271.6L782.8,275.0L773.9,280.2L772.7,286.8L775.0,293.5L776.6,302.6L779.3,309.5L784.0,311.3L788.7,313.2ZM578.4,504.1L587.4,499.0L596.3,498.0L602.6,500.5L610.7,505.6L618.3,508.7L624.5,512.7L618.6,514.3L609.7,514.3L608.0,510.2L602.0,505.6L593.5,502.6L586.8,503.6L580.4,505.6ZM623.4,514.3L631.8,514.3L638.4,514.3L645.5,517.8L649.7,520.9L642.4,522.4L635.0,526.0L629.6,522.9L622.6,521.9L629.0,519.4ZM605.3,521.9L614.1,522.4L611.7,524.4L606.5,523.4ZM654.5,521.4L661.5,521.9L660.4,523.9L654.2,523.9ZM608.3,479.7L612.5,480.2L609.4,480.7ZM615.4,478.7L616.2,481.7L615.0,483.7ZM610.0,487.8L611.1,492.4L609.7,493.4L608.8,490.4ZM617.3,485.8L619.1,488.3L617.5,490.4ZM619.5,495.4L621.8,498.0L619.9,499.0ZM625.0,500.5L627.4,502.1L625.5,503.1ZM264.5,512.2L267.8,515.3L264.2,519.4L263.3,515.3ZM261.8,508.7L264.6,509.7L262.6,510.7ZM255.5,505.6L257.8,507.1L256.0,507.1ZM249.6,502.6L251.7,503.1L250.6,504.1ZM321.7,343.1L326.5,342.1L321.6,345.0ZM302.8,348.4L310.6,346.5L305.7,349.4ZM282.6,351.4L290.7,350.9L285.4,352.3ZM267.6,352.8L275.3,352.8L269.9,354.3ZM381.2,328.2L394.8,324.0L391.1,326.8L382.1,330.1ZM356.5,298.0L365.0,298.9L359.3,299.9ZM355.8,312.3L359.9,312.7L355.3,315.1ZM452.6,342.6L452.4,347.5L446.3,351.8L446.8,346.0ZM456.2,332.1L457.6,336.8L452.2,337.8ZM714.7,874.8L721.9,875.2L726.2,876.7L723.4,879.6L717.1,878.2ZM807.9,888.4L815.6,888.9L812.2,890.8ZM675.1,560.6L679.1,560.6L679.0,564.1L674.9,564.1ZM677.5,531.6L680.1,532.1L678.5,534.6ZM679.5,539.7L681.1,541.7L679.8,542.2ZM679.6,544.8L680.4,545.8L679.9,546.8ZM685.6,547.8L686.9,548.9L686.0,549.4ZM677.8,528.0L678.6,528.5L678.1,529.3ZM540.3,616.5L543.9,617.0L542.2,620.6ZM646.6,829.0L650.3,828.0L652.8,835.5L649.6,835.5ZM1171.4,676.5L1173.6,685.4L1175.8,694.4L1172.0,704.5L1167.5,717.2L1163.4,728.7L1159.2,740.1L1148.7,745.2L1143.0,735.0L1141.9,724.9L1147.4,714.7L1146.5,702.0L1157.9,695.9L1165.1,685.7ZM882.3,470.0L884.8,472.6L883.4,474.1ZM875.8,469.5L877.8,472.0L873.9,473.1ZM891.8,468.0L893.6,467.0L890.0,471.5ZM989.6,596.2L991.4,597.2L990.1,599.2ZM1194.9,721.8L1197.1,722.8L1195.6,724.4ZM1205.0,717.2L1206.2,718.8L1204.4,719.8ZM1189.9,550.9L1194.4,551.4L1192.3,552.9ZM1222.7,862.5L1227.7,864.9L1222.8,867.4ZM832.5,418.4L839.1,418.2L834.8,420.2ZM843.7,422.7L846.6,423.2L844.8,423.7ZM822.1,414.6L822.9,415.1L822.0,415.6ZM877.7,448.4L880.2,448.9L878.9,449.7ZM925.9,303.5L928.3,304.0L926.9,305.3ZM946.5,310.9L947.9,312.3L946.8,314.6ZM939.2,317.9L941.7,318.3L940.3,319.7ZM922.9,264.8L926.4,264.4L924.4,265.7ZM927.7,324.0L929.0,321.2L924.0,325.9ZM995.9,276.7L1002.3,275.4L997.7,278.0ZM929.3,361.9L937.9,360.7L947.6,358.7L956.9,356.2L958.0,348.9L952.6,347.0L950.7,342.6L945.9,337.8L944.1,333.5L940.4,333.0L944.9,325.4L938.7,324.9L940.2,320.7L933.3,320.7L931.3,325.9L930.0,330.6L931.0,335.9L933.5,337.8L938.4,338.3L939.8,342.6L940.1,346.0L933.9,348.4L935.8,350.9L931.5,353.8L938.0,355.3L935.3,356.7ZM928.5,351.4L928.0,345.0L930.4,339.7L924.2,336.4L919.5,341.2L913.8,341.7L915.4,346.0L911.5,352.8L914.9,354.3L920.7,353.3ZM875.7,295.8L870.1,289.0L875.9,285.1L883.4,285.5L890.9,285.9L896.0,285.3L901.2,284.6L905.6,290.4L900.0,294.4L894.6,296.5L889.1,298.5L884.0,297.6L879.0,296.7ZM983.0,235.5L989.1,238.2L995.5,241.1L1003.2,243.0L1009.1,240.1L1014.9,237.3L1021.1,234.0L1027.1,230.8L1020.3,230.0L1013.5,229.2L1006.8,228.4L1000.2,229.6L993.5,230.8L988.0,231.3L982.4,231.9ZM1002.5,233.6L1010.0,234.9L1017.5,236.2L1021.7,235.8L1025.9,235.5L1020.3,233.8L1014.9,232.2L1008.7,232.9ZM1081.5,228.4L1089.2,229.0L1097.0,229.5L1104.9,230.1L1111.0,229.5L1117.0,229.0L1123.0,228.4L1116.1,226.7L1109.2,225.1L1102.4,225.7L1095.5,226.2L1088.6,226.7L1085.1,227.6ZM1117.2,265.2L1122.5,266.3L1127.9,267.3L1135.2,266.1L1126.6,259.0L1125.0,250.9L1129.4,248.3L1133.6,245.7L1140.1,244.4L1146.5,243.0L1150.1,242.0L1153.7,241.1L1146.4,241.1L1139.1,241.1L1134.4,242.7L1129.7,244.4L1125.0,246.1L1122.6,249.5L1120.1,252.9L1118.2,257.8L1114.0,261.9ZM1139.8,268.6L1147.1,270.3L1142.3,267.3ZM1226.0,235.5L1232.9,236.4L1239.8,237.3L1244.3,236.3L1248.7,235.3L1253.1,234.4L1241.6,230.1L1233.6,228.4L1225.8,226.7L1220.0,227.6L1214.2,228.4L1212.3,230.1L1210.2,231.9L1218.1,233.6ZM1365.5,248.9L1374.6,250.9L1383.7,252.9L1392.9,254.9L1392.9,251.9L1392.7,248.9L1384.1,247.3L1375.5,245.7L1368.9,245.3L1362.3,245.0ZM1398.7,248.9L1402.6,248.5L1406.5,248.1L1401.4,246.9ZM1519.3,264.4L1521.7,263.1L1525.9,265.7L1522.7,265.7ZM381.3,263.1L387.9,264.0L377.1,265.7ZM1519.3,382.0L1523.6,379.5L1512.5,367.1L1518.3,367.1L1502.6,354.8L1494.9,345.0L1488.7,341.2L1495.4,349.9L1503.9,362.1L1512.6,372.0ZM1526.1,404.5L1529.3,403.0L1529.6,399.0L1538.1,402.0L1542.7,395.5L1538.3,392.0L1528.5,389.5L1520.2,385.0L1525.8,394.5L1522.0,395.5L1524.7,401.0ZM1530.2,404.5L1535.4,409.6L1540.4,414.6L1541.7,420.7L1541.8,424.8L1544.4,432.4L1547.3,437.5L1543.3,438.0L1539.6,436.4L1538.5,439.5L1532.2,439.5L1532.0,441.0L1529.6,445.1L1523.9,440.0L1515.7,440.5L1508.1,442.5L1506.8,440.5L1509.6,436.4L1513.2,434.9L1523.5,434.4L1524.8,428.3L1528.1,428.3L1525.1,424.8L1531.4,424.8L1533.7,421.2L1532.1,414.6L1528.8,409.6L1528.3,406.0ZM1514.0,446.6L1519.4,449.1L1524.2,443.6L1522.5,441.5L1516.3,442.0ZM1504.0,446.1L1507.4,443.0L1513.6,446.6L1514.7,455.8L1512.5,457.8L1508.4,452.7L1505.9,449.7ZM1479.8,487.3L1484.4,488.3L1483.8,496.0L1482.4,504.1L1478.2,498.5L1477.5,490.9ZM1431.0,517.8L1436.4,513.2L1441.1,515.3L1439.8,520.4L1435.7,522.9L1432.0,521.4ZM1308.6,565.6L1312.8,569.7L1318.2,578.9L1317.0,583.5L1312.6,585.5L1309.8,582.4L1308.1,573.8ZM1484.6,521.4L1492.1,521.4L1492.5,529.0L1491.1,536.6L1493.3,543.3L1503.4,545.3L1504.6,551.4L1499.5,549.4L1493.6,545.3L1488.3,545.3L1487.6,540.2L1483.0,533.1L1485.4,531.6ZM1495.3,555.5L1501.2,557.0L1509.4,558.0L1512.7,559.5L1510.9,564.6L1505.7,566.2L1501.5,569.7L1497.7,562.1ZM1487.1,546.8L1492.7,548.4L1491.9,553.4L1488.5,550.4ZM1475.8,572.8L1486.0,560.6L1484.8,557.5L1480.9,563.6L1477.0,570.7ZM1497.8,579.9L1503.9,571.8L1510.5,569.7L1512.4,565.6L1517.6,574.8L1516.8,582.9L1513.9,587.0L1507.0,582.9L1501.3,577.9ZM1440.7,607.9L1443.8,605.3L1449.5,602.3L1458.4,599.2L1464.8,592.1L1469.2,588.5L1474.6,580.4L1478.8,585.0L1484.0,589.0L1480.6,593.6L1479.5,600.2L1481.0,605.3L1485.6,610.4L1480.3,613.0L1478.9,619.6L1474.8,623.1L1473.7,630.8L1470.8,635.8L1465.4,635.8L1458.4,631.8L1453.0,633.3L1445.9,630.3L1445.2,623.1L1441.7,618.0ZM1378.6,587.0L1388.5,589.0L1394.1,596.2L1402.5,605.3L1407.0,606.9L1413.8,613.0L1417.4,620.6L1420.8,627.2L1427.0,631.8L1425.6,645.0L1419.8,644.0L1410.3,635.8L1404.6,628.7L1400.3,619.6L1395.9,613.0L1393.5,606.9L1387.5,600.2L1381.9,593.1ZM1422.6,650.1L1428.7,646.0L1436.7,647.5L1445.9,650.6L1455.7,650.6L1464.0,655.2L1462.3,659.8L1452.6,657.7L1443.7,656.7L1434.9,655.2L1427.8,653.1ZM1463.9,656.7L1468.7,658.2L1466.7,660.3ZM1470.5,658.2L1473.6,657.7L1472.1,660.8ZM1474.4,658.7L1484.0,657.2L1482.8,660.3L1474.7,661.3ZM1487.4,659.2L1494.4,658.2L1501.4,657.2L1499.4,660.3L1488.2,660.8ZM1483.4,663.8L1491.4,664.8L1487.6,667.9ZM1503.2,667.4L1510.5,661.3L1521.0,658.2L1514.9,662.3L1506.8,667.4ZM1487.0,643.5L1491.1,644.0L1492.1,630.8L1494.4,629.2L1498.5,638.4L1502.9,640.9L1500.0,633.3L1495.8,625.2L1504.9,620.1L1501.3,618.6L1494.6,620.1L1491.5,613.0L1496.8,610.4L1503.6,610.9L1511.1,608.4L1510.3,613.5L1503.6,613.0L1493.7,613.0L1489.3,614.5L1487.8,623.1L1484.5,629.7L1487.0,633.3ZM1523.6,605.3L1528.2,607.9L1526.0,613.0L1529.6,618.0L1525.1,619.1L1523.8,613.0ZM1525.7,629.7L1534.7,630.3L1538.2,633.3L1530.1,633.3ZM1516.7,631.8L1522.1,632.3L1519.3,635.3ZM1539.4,622.1L1546.2,617.5L1552.9,620.1L1559.3,631.8L1569.9,623.1L1577.0,625.9L1584.1,628.7L1591.8,631.8L1599.6,634.8L1604.9,643.5L1612.3,647.5L1613.8,656.2L1619.8,663.8L1625.1,667.9L1617.0,668.4L1609.5,663.8L1604.9,656.2L1596.1,654.2L1591.0,661.3L1582.0,661.8L1573.5,656.7L1568.9,658.2L1568.4,652.6L1571.8,650.1L1567.9,640.9L1559.0,637.9L1552.4,635.3L1547.9,635.8L1543.7,629.7L1548.2,627.7L1543.8,625.7ZM1616.1,643.5L1623.9,640.9L1630.8,636.9L1634.4,636.9L1630.5,643.5L1623.5,647.5L1616.8,646.0ZM1628.1,629.2L1633.3,632.3L1637.5,638.9L1635.7,637.9L1631.0,633.3ZM1088.2,437.5L1097.5,433.9L1095.4,438.0L1090.9,439.5ZM1050.8,435.9L1062.7,435.9L1059.4,437.5L1053.0,436.9ZM1003.3,423.2L1007.8,421.2L1016.6,420.7L1014.9,427.3L1011.6,428.3ZM986.4,417.2L991.4,416.1L991.9,408.1L989.3,406.0L985.3,408.1ZM986.7,402.5L990.1,405.0L990.2,397.5L987.0,399.0ZM992.6,336.4L998.5,334.9L996.8,332.5L993.2,334.0ZM1018.6,328.2L1021.0,324.5L1019.8,324.0ZM1364.2,546.8L1366.3,554.5L1364.7,556.5ZM1541.7,394.0L1546.7,389.5L1549.0,385.4L1543.3,390.5ZM1551.3,382.0L1555.4,379.5L1552.6,381.0ZM1507.8,482.7L1509.5,479.2L1508.2,480.7ZM707.4,961.8L712.2,960.8L717.1,959.8L723.9,966.6L719.5,967.6L715.2,968.6ZM738.4,928.7L743.3,926.8L748.1,926.8L744.3,929.3ZM1547.5,822.4L1554.1,824.5L1562.2,823.4L1557.9,830.0L1548.1,836.5L1544.1,836.5L1545.2,830.0ZM1684.1,790.5L1688.2,795.1L1687.8,801.2L1687.9,806.2L1693.3,808.3L1698.1,807.3L1690.4,814.9L1684.8,816.9L1677.0,823.4L1670.2,827.0L1668.9,825.5L1675.8,818.4L1673.0,815.4L1680.8,808.8L1684.5,801.2L1683.0,794.6ZM1664.1,821.4L1668.5,824.5L1662.5,830.0L1652.4,837.0L1642.7,841.5L1634.5,848.5L1625.6,852.5L1617.3,849.0L1621.7,845.1L1632.6,839.0L1645.5,834.0L1654.3,828.0ZM1674.3,718.3L1679.9,722.3L1684.8,728.9L1682.5,729.5L1677.1,724.9ZM1652.5,649.1L1656.6,652.6L1654.3,653.7ZM1661.0,653.7L1666.4,658.7L1662.9,657.7ZM1667.0,661.3L1670.1,665.4L1667.5,664.8ZM1669.6,657.7L1673.4,664.3L1672.0,664.8ZM1673.0,667.4L1676.2,670.4L1674.0,669.9ZM1644.5,641.4L1649.8,649.1L1647.0,649.6L1644.8,644.0ZM1692.2,690.3L1694.0,694.4L1692.1,694.9ZM1695.9,697.9L1697.7,702.0L1696.2,702.5ZM1736.5,704.5L1742.0,705.5L1739.6,708.1L1736.2,707.6ZM1743.3,698.4L1749.9,698.4L1744.8,701.5ZM582.0,244.1L598.1,240.9L611.1,239.3L619.7,240.9L630.5,242.0L634.8,246.3L630.5,249.5L619.7,249.5L604.6,250.6L598.1,247.4L587.4,246.3ZM617.6,237.7L628.4,235.5L639.1,235.5L637.0,238.7L625.1,239.8ZM640.2,245.2L644.5,240.9L652.1,242.0L658.6,243.0L662.9,246.3L658.6,249.5L649.9,248.4L643.5,248.4ZM668.3,242.0L684.4,239.8L706.0,240.9L711.4,244.1L710.3,248.4L695.2,249.5L673.7,249.5L669.3,246.3ZM630.5,258.1L637.0,253.8L646.7,252.8L652.1,253.8L649.9,260.3L643.5,262.5L634.8,261.4ZM654.2,256.0L658.6,252.8L669.3,252.8L673.7,254.9L668.3,258.1L660.7,260.3L655.3,260.3ZM630.5,273.3L634.8,271.1L639.1,272.2L638.1,278.6L632.7,279.7ZM684.0,227.7L695.3,225.2L706.7,222.8L734.2,220.4L758.4,219.9L786.0,221.2L782.7,224.4L766.5,227.7L750.4,232.5L739.0,237.4L726.1,242.2L711.5,244.6L700.2,245.5L693.7,242.2L685.6,237.4L682.4,232.5ZM556.7,261.0L569.7,252.4L583.1,250.5L592.9,251.6L595.0,254.6L588.5,256.2L577.8,258.9L574.5,262.1L570.2,263.2L558.9,265.4ZM574.5,262.7L577.8,258.9L588.5,256.2L599.3,256.2L612.8,257.8L626.3,254.0L629.0,254.6L620.9,259.4L617.1,264.8L626.3,268.0L619.8,272.4L610.1,274.0L604.7,271.8L593.9,274.0L580.5,275.1L579.9,272.9L572.4,271.8L574.5,268.6L588.5,267.2L577.8,266.4L574.5,264.3Z" fill="#e5e5e5"/>
<path d="M719.3,986.3L727.7,987.0L736.0,987.8L744.3,988.6L752.5,989.3L761.4,990.3L770.3,991.2L779.1,992.2L787.8,993.1L796.4,994.0L805.0,995.0L813.5,995.9L822.0,996.8L829.0,996.8L836.1,996.8L843.1,996.8L850.3,997.2L857.5,997.5L864.7,997.9L871.8,998.3L866.5,999.9L861.3,1001.4L853.7,1001.4L846.2,1001.4L838.6,1001.4L831.0,1001.4L824.1,1003.2L817.4,1004.9L810.7,1006.5L804.2,1008.1L797.8,1009.7L789.5,1009.0L781.1,1008.2L772.6,1007.5L764.1,1006.7L755.5,1005.9L745.8,1003.7L735.9,1001.4L728.0,999.4L719.9,997.4L711.7,995.3L715.3,990.9Z" fill="#f6fafb"/>
<path d="M1141.1,389.5L1142.0,384.5L1146.8,379.5L1154.2,377.0L1162.4,378.0L1165.1,385.4L1158.5,389.5L1154.3,389.0L1159.9,395.5L1167.2,402.0L1168.8,407.0L1173.5,409.6L1171.3,414.6L1177.4,425.8L1167.8,428.3L1156.6,424.2L1154.6,418.2L1155.7,411.1L1159.2,410.1L1152.8,405.5L1147.3,399.0L1144.3,394.5ZM1066.4,404.0L1071.1,406.0L1081.0,406.0L1090.7,402.0L1099.1,403.5L1109.6,407.6L1115.7,406.0L1121.8,404.5L1121.2,399.0L1113.9,395.0L1104.8,389.5L1100.2,385.9L1105.5,382.0L1107.1,376.0L1100.5,377.0L1093.2,380.5L1092.3,386.9L1086.8,390.0L1081.9,385.0L1085.5,382.0L1075.0,379.0L1071.6,383.0L1070.6,386.9L1067.2,392.0L1065.2,398.0ZM1183.9,379.5L1193.4,382.0L1197.6,389.5L1193.0,394.5L1187.4,392.0L1184.1,384.5ZM1244.5,379.5L1252.3,379.0L1258.6,380.0L1267.0,381.0L1265.8,383.0L1259.4,382.0L1251.2,381.5L1248.3,384.5ZM1350.8,354.3L1354.0,351.4L1359.1,347.5L1360.5,341.2L1359.5,334.4L1362.2,339.7L1362.3,346.5L1359.6,352.3L1354.2,354.8Z" fill="#f6fafb" stroke="#7e8184" stroke-width="1.5" stroke-linejoin="round"/>
<g stroke="#1f3320" stroke-width="1.35" stroke-linejoin="round"><path d="M491.7,383.2L492.6,386.2L492.9,389.3L495.9,388.4L499.0,389.1L502.0,388.7L502.9,391.4L502.1,394.2L502.6,397.0L503.2,399.7L502.6,402.5L504.6,404.6L507.2,406.0L508.6,408.6L509.8,412.2L508.1,415.6L506.2,418.8L506.7,421.7L506.4,424.4L505.6,427.2L504.6,429.9L505.0,432.7L506.8,435.0L507.9,437.7L508.6,440.5L511.1,441.7L513.6,443.1L516.4,443.4L519.1,444.0L521.4,445.9L524.3,446.0L527.1,445.7L529.5,447.6L532.3,447.1L535.0,447.3L537.6,448.4L540.6,449.3L543.2,451.1L545.4,453.4L548.4,454.4L551.6,455.1L554.4,456.8L559.3,455.6L562.4,453.9L565.3,452.0L567.0,449.7L568.1,447.1L569.9,444.8L571.3,442.4L574.8,441.0L578.6,441.2L581.4,439.8L584.5,439.4L587.7,439.7L590.6,438.7L593.6,437.7L596.6,436.6L599.7,436.2L602.7,435.1L605.7,432.6L608.7,430.3L610.5,427.3L613.2,425.0L614.8,421.8L616.6,419.6L617.4,416.8L619.4,414.7L620.8,412.2L622.8,410.2L625.3,408.7L626.8,406.2L629.0,404.0L630.5,401.3L628.0,400.1L625.8,401.7L622.8,401.8L620.8,403.8L618.0,405.3L614.8,405.7L611.6,406.0L608.7,407.4L606.0,408.4L603.1,408.2L600.3,408.6L597.4,407.8L595.6,405.3L593.3,403.6L590.6,402.5L590.2,399.5L589.4,396.5L585.8,394.1L587.6,392.0L587.9,389.1L589.7,387.0L590.6,384.4L593.1,382.0L589.5,381.3L585.8,380.8L582.9,378.9L579.8,377.2L576.7,375.8L573.8,374.2L570.9,375.8L568.9,378.4L565.9,380.9L564.1,384.4L559.3,383.2L558.0,380.2L556.9,377.2L554.6,375.2L552.0,373.6L549.1,372.2L547.4,369.3L544.8,367.6L542.5,365.7L540.5,363.6L537.6,362.7L535.5,360.7L532.7,359.7L530.5,361.6L527.9,362.7L524.7,363.7L521.4,364.0L518.3,365.1L515.7,366.8L512.6,366.8L509.8,367.6L506.4,369.3L502.6,370.0L503.1,373.2L503.0,376.5L502.0,379.6L499.0,383.2L495.3,382.8Z" fill="#20356a"/><path d="M499.6,424.3L501.5,422.1L504.5,421.3L506.2,418.8L506.6,421.7L505.3,424.3L506.2,427.2L505.7,430.0L505.0,432.7L505.4,435.7L507.9,437.7L508.6,440.5L509.8,444.2L510.8,446.9L512.3,449.4L513.4,452.0L514.5,454.4L515.5,456.8L516.4,459.2L516.8,462.5L515.5,465.6L515.8,468.9L517.4,471.5L517.9,474.4L518.3,477.3L520.2,479.4L520.7,482.2L519.9,485.3L518.3,488.2L515.5,490.0L512.3,490.8L509.8,493.0L507.5,494.8L505.4,496.8L502.6,497.9L499.0,500.3L496.3,499.4L494.1,497.9L492.8,494.9L489.5,493.5L488.1,490.6L487.5,487.3L486.3,484.2L485.7,481.0L484.7,478.4L483.0,476.3L482.1,473.7L482.2,471.1L481.7,468.5L481.7,465.9L482.0,463.2L481.2,460.6L480.9,458.0L481.2,455.1L481.9,452.4L484.3,450.2L484.5,447.2L485.7,444.8L486.4,442.1L488.8,440.3L489.3,437.5L491.8,434.6L494.1,431.5L496.3,429.3L498.3,427.1Z" fill="#20356a"/><path d="M465.0,345.4L468.3,344.1L471.5,342.9L474.7,341.1L478.0,339.7L477.3,336.5L478.0,333.2L479.6,334.0L481.2,338.1L486.1,339.7L489.1,341.5L492.6,342.1L494.2,346.2L496.6,347.8L494.2,351.0L490.9,354.3L490.1,357.9L487.7,360.7L484.5,362.4L481.2,362.4L478.0,362.4L476.3,360.2L473.2,359.7L471.5,357.5L470.0,354.2L468.3,351.0L466.8,348.1Z" fill="#dceaf6"/><path d="M532.1,529.2L534.9,527.7L537.5,526.0L540.7,526.2L544.0,526.7L547.2,526.3L550.4,527.1L551.0,530.0L552.6,532.5L550.0,534.8L548.3,537.9L544.0,540.0L539.7,537.9L535.3,535.7L534.0,532.4Z" fill="#20356a"/><path d="M613.0,569.2L617.3,570.2L618.8,573.1L620.1,576.0L621.6,578.9L622.6,582.0L624.9,584.3L622.7,587.5L621.0,589.7L619.1,591.8L617.3,594.0L615.7,596.8L615.0,600.0L613.0,602.6L610.3,605.3L607.6,608.0L604.4,604.8L605.1,602.1L606.0,599.5L605.3,596.5L606.5,594.0L606.8,591.3L607.1,588.6L609.0,586.3L609.5,583.7L609.8,581.0L609.3,578.0L611.4,575.4L610.9,572.4Z" fill="#1b6cb1"/><path d="M593.1,639.1L593.9,636.4L595.1,633.8L595.7,631.0L597.6,629.0L598.5,626.3L599.9,624.0L602.0,622.3L603.8,620.2L605.1,617.8L607.5,616.3L609.0,614.0L610.5,611.7L611.9,609.4L612.9,606.8L614.0,604.1L614.6,601.4L617.6,602.1L620.1,604.0L622.7,605.4L625.3,604.1L628.3,604.8L630.6,602.6L633.6,603.3L636.0,601.3L638.9,601.4L641.5,602.1L644.3,602.0L647.0,602.5L649.6,603.8L652.5,602.8L655.1,604.1L655.2,601.1L657.6,598.9L657.8,596.0L660.5,595.6L663.1,594.5L666.0,595.7L668.7,595.2L671.2,593.3L673.9,593.5L676.7,593.3L679.4,590.6L680.5,593.2L680.6,595.9L680.5,598.7L681.7,601.3L681.3,604.1L682.0,606.8L684.7,605.8L687.4,605.8L690.2,606.8L692.8,605.9L695.5,605.8L698.2,605.9L700.9,605.5L703.6,605.4L706.3,604.5L709.0,604.1L710.7,606.5L710.4,609.6L711.7,612.1L712.1,615.2L713.2,617.9L714.9,620.4L716.6,622.8L717.7,625.5L718.3,628.5L719.8,631.0L720.2,633.8L721.8,636.2L722.3,639.0L722.5,641.8L722.6,644.5L722.1,647.2L721.4,649.9L721.8,652.6L722.5,655.3L720.9,658.0L721.4,660.7L721.2,663.4L720.1,666.1L719.6,669.0L718.2,671.5L717.1,674.2L717.5,676.9L717.1,679.6L718.5,682.2L717.9,685.0L718.8,687.6L718.5,690.4L715.4,690.5L712.7,692.3L709.6,692.4L706.6,692.8L703.6,693.1L700.8,693.7L698.5,695.6L695.5,695.7L692.9,696.4L690.2,697.3L687.5,697.8L684.8,697.9L682.0,698.4L681.2,701.1L682.1,703.8L681.2,706.5L682.0,709.2L680.5,711.7L677.5,712.7L676.2,715.5L674.0,717.3L671.4,718.5L668.6,718.7L666.0,717.2L663.4,716.0L660.2,716.5L657.8,714.6L656.6,712.0L656.7,709.1L655.2,706.6L654.2,704.0L653.1,701.4L652.4,698.7L652.4,695.7L649.7,694.7L647.2,693.3L644.6,692.5L641.6,692.5L638.9,691.7L635.8,691.1L633.4,689.3L630.8,687.7L628.2,686.6L625.5,686.0L622.8,685.8L619.9,686.0L617.3,685.0L615.7,682.8L614.1,680.7L612.7,678.4L610.5,676.6L609.2,674.2L608.6,671.1L607.2,668.5L604.6,666.4L603.5,663.6L603.1,660.4L601.1,658.0L599.6,655.5L599.6,652.3L597.7,649.9L596.8,647.1L595.7,644.4L593.7,642.0Z" fill="#d0e2f3"/><path d="M655.1,714.6L657.9,715.0L660.4,716.6L663.1,717.4L665.7,718.5L668.6,718.7L671.0,716.8L673.7,715.5L676.7,714.6L677.0,711.7L678.0,709.1L679.8,706.7L679.6,703.6L681.2,701.2L682.0,698.4L684.6,697.4L687.4,697.0L690.1,696.7L693.0,696.9L695.5,695.7L698.3,695.0L700.7,693.1L703.6,693.1L706.0,694.3L708.3,695.8L709.7,698.4L711.9,700.0L714.4,701.1L717.2,701.1L719.9,700.6L722.6,700.0L725.4,699.8L727.9,698.4L730.7,698.3L733.2,696.7L736.1,697.0L738.7,695.7L739.5,698.4L739.8,701.3L740.9,703.9L741.9,706.5L742.8,709.2L743.4,711.9L744.1,714.6L746.7,716.3L749.4,717.9L751.0,720.7L753.5,722.6L756.2,724.1L754.1,725.9L753.2,728.4L752.2,730.8L749.4,732.8L746.8,734.9L744.3,736.4L742.9,739.1L740.1,740.3L738.2,742.5L736.0,744.3L733.7,747.4L730.6,749.7L727.9,750.2L725.2,749.6L722.5,750.1L719.8,749.8L717.1,749.5L714.4,749.7L712.8,752.5L711.4,755.4L709.0,757.8L706.3,759.1L703.6,760.5L702.7,763.4L701.4,766.1L700.1,768.8L698.2,771.3L695.6,772.8L693.2,774.6L690.0,775.1L687.4,776.7L684.4,777.0L682.1,779.0L679.2,779.5L676.4,780.2L674.0,782.0L676.0,784.4L676.7,787.4L675.0,785.0L675.0,781.8L674.0,779.1L672.6,776.6L671.3,774.0L669.4,771.5L668.4,768.6L667.8,765.6L665.9,763.2L665.4,760.2L664.2,757.6L662.1,755.3L662.1,752.1L660.5,749.7L659.6,747.0L659.5,744.2L657.8,741.8L657.8,738.9L658.2,736.1L657.1,733.5L656.8,730.7L655.5,728.2L655.7,725.4L655.1,722.7L655.2,720.0L655.2,717.3Z" fill="#f7fbff"/><path d="M889.7,528.3L892.6,526.5L896.2,526.3L899.3,524.9L902.8,523.9L906.1,522.5L909.1,524.6L912.8,525.4L914.7,530.2L914.7,533.1L913.8,536.0L916.8,536.8L919.6,538.4L918.6,542.7L916.4,544.7L914.5,547.0L912.8,549.5L910.8,551.7L908.1,553.1L906.1,555.3L903.2,556.4L900.3,557.2L895.9,558.2L895.4,562.0L898.8,561.5L899.8,557.2L898.5,554.1L896.4,551.4L894.8,549.1L894.0,546.4L893.5,543.7L889.7,541.8L890.4,539.1L889.4,536.4L889.2,533.7L890.2,531.0Z" fill="#5ca4d2"/><path d="M898.3,564.0L899.3,559.1L902.7,557.9L905.1,555.3L907.1,552.6L910.5,551.8L912.8,549.5L914.3,546.8L917.3,545.5L918.6,542.7L921.5,538.9L923.3,535.8L926.3,534.0L929.1,533.7L931.6,532.4L934.0,531.1L938.0,531.3L941.8,530.2L945.2,529.0L947.6,526.3L950.4,522.5L950.3,519.5L950.8,516.6L951.4,513.8L956.2,512.8L961.1,513.8L964.2,511.7L966.9,509.0L969.0,506.3L971.7,504.1L973.2,500.5L975.5,497.4L978.2,495.5L981.3,494.5L985.2,497.4L987.1,502.2L988.0,505.4L990.0,508.0L988.4,510.7L988.1,513.8L989.0,518.6L988.5,522.0L989.0,525.4L988.9,528.4L987.0,531.0L987.1,534.0L988.5,536.5L990.0,538.9L989.5,542.4L988.1,545.6L986.7,548.6L985.2,551.4L984.8,554.3L984.2,557.2L986.4,559.0L987.3,561.8L989.0,564.0L992.4,562.7L995.8,562.0L998.8,559.7L1001.6,557.2L1004.1,559.3L1007.4,560.1L1010.2,561.8L1013.2,563.0L1016.1,564.3L1019.0,565.9L1019.9,569.7L1017.0,572.6L1015.1,576.5L1011.8,577.9L1009.3,580.4L1006.5,580.1L1004.2,581.7L1001.6,582.3L998.6,582.0L995.8,583.3L992.3,582.8L989.1,581.3L986.2,579.4L982.8,579.3L979.9,577.3L976.5,577.5L971.7,575.5L969.5,572.9L966.9,570.7L964.7,568.0L962.0,565.9L957.2,564.9L956.2,569.7L953.3,572.6L951.7,574.8L949.5,576.5L946.6,580.4L942.7,580.4L940.8,578.4L938.9,576.5L938.0,573.7L936.0,571.7L934.0,566.9L931.5,564.9L930.2,562.0L926.3,561.1L922.5,564.0L921.0,566.4L919.2,568.4L916.7,569.7L913.8,570.8L910.9,571.7L908.1,570.6L905.1,570.7L902.7,568.7L900.3,566.9Z" fill="#1c6cb2"/><path d="M928.3,559.1L929.0,555.8L930.1,552.7L931.1,549.5L932.9,546.0L935.0,542.7L937.9,540.8L941.8,541.8L943.8,544.6L945.6,547.6L947.7,549.9L949.5,552.4L953.3,554.3L956.1,555.5L959.1,556.2L958.9,559.2L957.6,562.0L957.2,564.9L955.3,569.7L953.3,572.6L952.0,575.2L949.5,576.5L947.6,580.4L943.7,580.4L939.8,577.5L937.6,574.8L936.0,571.7L934.0,566.9L931.9,564.6L930.2,562.0Z" fill="#1455a3"/><path d="M997.7,607.4L1000.6,606.5L1003.5,605.5L1006.2,604.5L1008.3,602.6L1013.2,604.5L1015.1,609.3L1013.8,612.1L1014.1,615.1L1015.0,618.4L1015.1,621.9L1013.7,624.6L1013.2,627.6L1011.2,630.5L1008.3,627.6L1005.5,624.8L1002.6,628.6L999.7,625.7L997.7,621.9L996.8,617.0L998.7,612.2Z" fill="#1c6cb2"/><path d="M1085.2,474.6L1088.5,474.4L1091.6,475.7L1094.9,475.8L1095.8,478.6L1096.6,481.4L1096.7,484.3L1097.3,487.1L1098.0,490.0L1098.5,492.8L1099.8,495.2L1101.3,497.5L1102.6,499.9L1103.4,502.5L1104.3,505.1L1106.1,507.2L1106.8,509.9L1108.3,512.2L1108.6,515.6L1109.2,518.9L1110.7,521.9L1111.1,525.8L1113.1,529.2L1112.3,533.0L1110.7,536.5L1113.8,536.6L1116.7,538.1L1119.8,538.5L1122.8,538.9L1124.9,541.1L1125.8,544.0L1127.7,546.2L1127.0,549.4L1127.1,552.7L1127.7,555.9L1126.5,558.6L1124.7,561.0L1122.8,563.2L1122.9,566.7L1120.4,569.5L1120.4,572.9L1118.2,574.9L1115.3,575.8L1113.1,577.8L1111.4,580.2L1109.7,582.5L1108.3,585.0L1105.8,587.4L1103.4,589.9L1101.6,593.4L1101.0,597.2L1102.3,599.7L1104.2,601.9L1105.9,604.1L1106.8,606.9L1108.3,609.3L1108.3,612.7L1110.5,615.6L1110.7,619.0L1109.5,622.2L1108.8,625.4L1108.3,628.7L1106.1,630.5L1103.6,631.6L1100.8,632.1L1098.5,633.6L1094.9,633.7L1091.3,633.6L1088.7,631.3L1086.4,628.7L1084.8,626.3L1082.6,624.3L1081.6,621.5L1081.9,618.2L1081.7,615.0L1081.6,611.7L1082.4,608.5L1082.9,605.2L1084.0,602.0L1086.8,600.0L1089.2,597.6L1091.3,594.8L1088.9,593.2L1086.0,592.5L1083.7,590.9L1081.2,589.5L1079.1,587.5L1076.2,586.1L1074.4,583.4L1071.9,581.6L1069.1,580.1L1067.0,577.8L1065.1,574.8L1062.3,572.7L1059.7,570.5L1059.4,567.1L1058.6,563.9L1057.3,560.8L1057.6,557.5L1057.3,554.3L1057.3,551.1L1059.6,549.1L1060.0,545.8L1062.1,543.8L1063.4,541.5L1064.7,539.2L1065.0,536.5L1066.5,534.3L1067.0,531.7L1067.0,528.5L1068.1,525.6L1068.4,522.5L1069.4,519.5L1070.9,517.0L1073.0,514.9L1074.3,512.2L1076.3,510.1L1079.0,508.8L1081.6,507.4L1084.4,505.4L1086.2,502.3L1088.8,500.1L1089.4,496.2L1091.3,492.8L1090.9,489.3L1088.9,486.3L1087.6,483.1L1086.0,480.5L1086.1,477.4Z" fill="#4292c7"/><path d="M1033.0,679.7L1035.6,678.8L1038.1,677.7L1040.3,676.1L1042.7,674.9L1046.0,674.1L1049.1,673.1L1052.4,672.4L1055.3,673.9L1058.6,673.3L1061.7,673.6L1064.6,674.9L1067.9,675.2L1071.1,676.1L1074.3,677.3L1076.9,678.6L1079.4,680.2L1081.6,682.1L1085.0,680.3L1088.8,679.7L1091.0,677.1L1093.4,674.6L1096.1,672.4L1097.8,670.1L1098.9,667.3L1101.0,665.1L1104.4,663.2L1108.3,662.7L1109.9,664.9L1110.7,667.6L1109.4,671.2L1108.3,674.9L1108.5,678.1L1107.8,681.3L1108.3,684.6L1107.7,687.8L1108.4,691.0L1108.3,694.3L1107.7,698.1L1105.8,701.6L1104.2,703.8L1103.4,706.4L1100.6,708.5L1098.5,711.3L1095.0,712.7L1091.3,713.7L1088.0,714.2L1084.9,715.7L1081.6,716.1L1078.8,716.7L1076.4,718.0L1074.3,719.8L1072.1,718.1L1069.8,716.6L1067.0,716.1L1064.3,714.9L1062.2,712.8L1059.7,711.3L1056.2,709.7L1052.4,708.8L1049.0,707.1L1045.1,706.4L1042.6,704.1L1040.3,701.6L1038.5,699.4L1038.1,696.6L1036.7,694.3L1034.8,690.9L1034.2,687.0L1034.0,683.3Z" fill="#55a0d1"/><path d="M973.4,355.7L976.5,355.4L979.2,353.8L983.1,356.7L985.6,358.0L988.1,359.1L990.9,359.6L994.8,361.6L995.7,365.4L992.8,366.8L990.9,369.3L988.9,373.2L987.0,377.1L985.4,379.3L983.1,381.0L979.2,381.0L977.5,378.9L975.3,377.1L973.4,373.2L971.5,369.3L969.5,365.4L970.5,361.6L972.6,359.0Z" fill="#3b8dc6"/><path d="M969.5,375.1L972.2,373.6L975.3,373.2L977.0,375.4L979.2,377.1L981.0,379.2L983.1,381.0L981.2,384.9L978.3,388.7L975.8,386.8L973.4,384.9L971.1,383.3L969.5,381.0L967.6,377.1Z" fill="#6aaed6"/><path d="M979.2,381.9L984.1,381.0L983.6,383.7L985.4,386.1L985.0,388.7L981.2,390.7L978.3,388.7L977.9,385.2Z" fill="#c6dcef"/><path d="M1027.8,349.9L1030.5,350.0L1033.1,349.4L1035.5,348.0L1038.2,349.6L1041.4,349.9L1043.8,351.3L1045.2,353.8L1045.7,356.4L1046.7,358.9L1047.2,361.6L1043.3,363.5L1040.4,363.4L1037.5,363.5L1034.8,365.1L1031.7,365.4L1028.7,366.0L1025.8,365.4L1022.9,361.6L1025.8,357.7L1027.7,355.7L1029.7,353.8Z" fill="#7bb6dc"/><path d="M1040.4,297.5L1043.3,297.5L1046.3,297.4L1049.1,296.5L1052.3,295.6L1055.7,296.8L1058.8,295.5L1062.0,296.5L1064.7,298.4L1067.1,299.7L1070.1,299.7L1072.4,301.4L1074.8,303.1L1077.9,303.4L1080.2,305.2L1080.8,308.3L1082.1,311.1L1079.9,313.8L1078.3,316.9L1076.3,320.8L1074.0,322.4L1072.4,324.7L1070.6,327.6L1068.5,330.5L1066.1,332.0L1064.7,334.4L1063.4,331.0L1060.8,328.5L1058.3,327.1L1056.9,324.7L1053.0,322.7L1051.1,320.8L1049.1,318.8L1047.8,315.8L1045.6,313.4L1043.3,311.1L1042.2,308.2L1041.4,305.2L1040.7,302.7L1041.5,300.0Z" fill="#f7fbfd"/><path d="M1238.1,470.9L1238.1,468.0L1239.2,465.2L1239.3,462.3L1238.3,459.3L1239.7,456.5L1239.5,453.6L1239.4,450.7L1238.2,447.6L1239.3,444.3L1238.1,441.2L1239.8,438.3L1242.1,435.8L1244.6,433.8L1247.5,432.1L1250.2,430.5L1253.0,429.9L1255.5,428.4L1258.4,428.8L1261.0,427.8L1264.0,429.2L1267.3,429.6L1270.5,430.5L1272.9,432.3L1275.7,433.4L1278.3,435.0L1281.2,435.8L1284.2,436.7L1286.7,438.3L1289.3,439.9L1291.6,441.6L1294.3,442.9L1296.1,445.3L1296.7,448.0L1298.6,449.9L1300.1,452.0L1302.1,455.1L1302.8,458.8L1300.1,458.2L1297.4,458.0L1294.7,457.4L1292.0,458.0L1289.3,458.0L1286.6,457.5L1283.9,457.4L1281.0,459.1L1277.6,459.1L1274.5,460.1L1271.8,461.0L1269.3,462.6L1266.4,462.8L1263.5,463.1L1261.3,465.4L1258.3,465.5L1256.4,467.4L1253.5,467.7L1251.6,469.6L1250.2,472.1L1248.1,474.1L1246.2,476.3L1244.8,480.3L1240.8,477.6L1239.5,474.2Z" fill="#1a6fb6"/><path d="M1271.8,487.1L1273.6,484.1L1274.0,480.6L1275.8,477.6L1276.0,474.2L1277.2,470.9L1278.7,468.3L1279.2,465.2L1281.2,462.8L1283.9,458.8L1286.6,459.3L1289.3,459.2L1292.0,458.8L1294.8,458.3L1297.4,459.8L1300.1,459.8L1302.8,460.1L1305.5,460.6L1308.1,461.4L1310.9,460.8L1313.3,462.6L1316.3,462.8L1319.0,462.7L1321.7,463.4L1324.4,462.8L1327.3,462.4L1330.1,461.8L1332.5,460.1L1335.0,458.8L1338.0,460.0L1340.6,458.8L1343.8,457.6L1347.3,457.4L1350.8,457.4L1354.1,458.8L1356.7,459.6L1359.4,460.1L1362.7,461.4L1366.2,461.5L1368.0,463.5L1370.8,464.0L1372.9,465.5L1373.0,468.4L1374.3,470.9L1372.6,473.4L1369.3,473.8L1367.5,476.3L1365.1,479.3L1362.1,481.7L1360.7,484.4L1359.4,487.1L1359.7,489.9L1359.4,492.6L1358.1,495.2L1357.6,498.9L1355.4,501.9L1352.0,503.1L1348.7,504.6L1346.0,502.8L1343.6,500.8L1340.9,499.0L1337.9,497.9L1335.2,497.6L1332.6,496.4L1329.8,496.5L1327.2,497.5L1324.3,496.7L1321.7,497.9L1319.0,498.3L1316.3,497.1L1313.6,498.1L1310.9,497.9L1308.2,498.0L1305.5,497.8L1302.8,497.9L1300.2,499.1L1297.5,499.5L1294.7,499.2L1292.0,498.5L1289.3,497.9L1286.5,498.9L1283.9,500.6L1279.9,500.6L1277.2,498.4L1275.8,495.2L1274.3,492.6L1272.9,489.9Z" fill="#c6dcf0"/><path d="M1359.4,422.4L1362.2,421.9L1364.8,421.0L1367.7,420.0L1370.6,419.1L1372.9,417.0L1374.8,414.7L1376.9,412.8L1379.7,411.6L1382.2,409.2L1383.7,406.2L1386.3,405.0L1389.0,404.2L1391.8,403.5L1394.4,404.5L1397.3,403.8L1399.9,404.8L1402.4,406.4L1405.3,406.6L1408.0,407.5L1410.5,406.1L1413.4,406.2L1414.1,409.2L1416.1,411.6L1416.6,414.3L1417.4,417.0L1421.5,419.7L1423.5,422.0L1424.2,425.1L1425.0,428.0L1426.9,430.5L1427.8,433.4L1429.6,435.8L1432.3,436.3L1435.0,435.8L1437.8,434.8L1440.4,433.1L1437.7,437.2L1434.8,436.8L1432.4,439.0L1429.6,438.5L1426.5,439.1L1424.2,441.2L1421.5,441.0L1418.8,441.7L1416.1,441.2L1413.4,441.0L1410.7,441.5L1408.0,441.2L1405.3,441.4L1402.5,441.8L1399.9,442.6L1397.2,442.5L1394.5,443.3L1391.8,442.6L1389.1,443.9L1390.0,446.6L1390.5,449.3L1386.4,449.3L1383.7,446.6L1381.0,443.9L1378.3,444.3L1375.6,443.9L1373.1,442.2L1370.2,441.2L1367.9,439.2L1364.8,438.5L1362.3,437.4L1359.4,437.2L1356.8,435.8L1359.5,435.5L1362.0,434.4L1364.8,434.5L1367.8,432.8L1370.2,430.5L1367.3,428.8L1364.8,426.4L1360.8,425.1Z" fill="#5ca4d2"/><path d="M1381.0,443.9L1384.2,446.1L1386.4,449.3L1390.5,449.3L1389.1,446.8L1389.1,443.9L1391.8,443.8L1394.4,442.7L1397.1,442.3L1399.9,442.6L1402.6,442.3L1405.3,442.0L1408.0,441.4L1410.7,441.5L1413.4,442.1L1416.1,441.2L1418.7,440.1L1421.4,439.6L1424.0,438.8L1426.8,438.6L1429.6,438.5L1432.4,438.2L1434.9,440.1L1437.7,439.2L1440.4,439.9L1442.9,441.1L1445.8,439.9L1448.4,441.6L1451.1,441.2L1453.8,442.2L1456.4,443.4L1459.2,443.9L1459.9,446.7L1461.4,449.2L1461.9,452.0L1462.4,454.7L1461.6,457.4L1461.9,460.1L1463.9,462.5L1464.6,465.5L1464.1,468.6L1461.9,470.9L1459.2,473.6L1458.1,476.2L1457.9,479.0L1457.0,481.6L1456.5,484.4L1454.0,485.7L1451.1,486.2L1448.4,487.1L1446.0,485.5L1442.9,485.7L1440.4,484.4L1437.5,484.6L1434.9,483.6L1432.3,483.0L1429.5,483.2L1426.8,482.4L1424.2,481.7L1421.5,482.5L1418.8,481.2L1416.1,481.7L1413.5,480.8L1410.7,481.2L1408.0,480.9L1405.3,480.3L1401.3,479.0L1401.0,481.8L1399.9,484.4L1397.2,483.6L1394.5,483.7L1391.8,484.4L1388.5,482.8L1385.1,481.7L1383.2,479.3L1382.4,476.3L1380.5,473.9L1379.7,470.9L1379.5,468.1L1378.3,465.5L1377.1,463.0L1377.0,460.1L1376.6,457.3L1375.6,454.7L1376.9,452.0L1378.3,449.3L1378.9,446.3Z" fill="#c9ddf1"/><path d="M1335.2,434.5L1337.9,433.9L1340.6,433.1L1343.3,433.3L1345.9,434.7L1348.7,434.5L1351.5,435.0L1354.1,436.3L1356.8,437.2L1359.5,437.8L1362.2,438.8L1364.8,439.9L1367.0,442.6L1370.2,443.9L1373.4,445.4L1375.6,448.0L1377.1,450.6L1378.3,453.4L1379.5,456.0L1379.7,458.8L1377.0,462.8L1372.9,460.1L1370.7,458.3L1368.9,456.1L1366.7,453.3L1363.5,452.0L1359.4,449.3L1356.6,448.3L1354.1,446.6L1351.4,445.8L1348.7,445.3L1345.9,444.8L1343.3,443.9L1340.7,442.9L1337.9,442.6L1335.2,439.9L1335.1,437.2Z" fill="#c9ddf1"/><path d="M1351.4,445.3L1354.7,446.0L1358.1,446.6L1360.5,447.7L1363.0,448.6L1364.8,450.7L1367.3,453.6L1370.2,456.1L1372.4,458.0L1374.2,460.3L1375.6,462.8L1377.1,465.4L1378.1,468.3L1379.7,470.9L1380.3,473.6L1382.4,475.4L1383.7,477.6L1384.8,480.5L1386.6,482.7L1389.1,484.4L1391.7,485.8L1394.1,487.4L1395.9,489.8L1398.5,491.1L1400.0,493.9L1402.6,495.2L1403.8,498.0L1405.3,500.6L1405.5,503.5L1406.3,506.2L1408.0,508.7L1410.0,511.0L1412.3,513.0L1415.0,514.6L1417.2,516.7L1418.8,519.4L1420.7,521.7L1423.1,523.3L1425.5,524.8L1426.5,527.3L1428.1,529.4L1429.6,531.6L1430.6,535.1L1432.3,538.3L1433.4,541.8L1435.0,545.1L1434.7,547.9L1436.6,550.3L1436.3,553.2L1432.3,555.9L1429.6,554.5L1426.9,553.2L1424.1,553.1L1421.6,551.7L1418.8,551.8L1416.4,549.9L1413.4,549.1L1410.4,547.7L1407.6,546.1L1405.3,543.7L1403.5,541.2L1402.3,538.5L1401.7,535.4L1399.9,532.9L1398.4,530.3L1397.2,527.5L1397.0,524.7L1395.9,522.1L1391.8,519.4L1389.0,518.4L1386.4,516.8L1386.0,514.0L1385.0,511.5L1385.1,508.7L1385.8,506.0L1386.0,503.3L1386.4,500.6L1386.6,497.8L1386.3,495.0L1385.1,492.5L1384.2,489.8L1382.5,487.3L1382.4,484.4L1381.7,481.3L1380.4,478.6L1378.3,476.3L1376.9,473.6L1375.6,470.9L1373.6,468.2L1371.6,465.5L1369.4,462.3L1366.2,460.1L1363.7,458.7L1361.4,456.9L1359.4,454.7L1357.0,452.4L1354.1,450.7L1351.4,448.0Z" fill="#6baed6"/><path d="M1401.3,481.7L1405.3,480.3L1408.1,479.9L1410.8,480.6L1413.4,481.7L1416.5,481.5L1419.7,482.0L1422.8,481.7L1426.1,481.5L1429.2,481.9L1432.3,483.0L1435.1,483.2L1437.7,484.4L1438.6,487.3L1440.4,489.8L1438.8,492.9L1436.3,495.2L1435.0,499.2L1430.9,500.6L1427.5,500.1L1424.2,500.6L1421.5,499.6L1418.8,499.2L1415.3,499.2L1412.0,497.9L1409.4,497.1L1406.6,496.5L1403.9,492.5L1402.5,489.8L1401.3,487.1L1401.1,484.4Z" fill="#7db8da"/><path d="M1385.1,516.8L1389.1,518.1L1393.2,516.8L1397.2,516.1L1398.6,518.9L1398.6,522.1L1397.2,526.2L1394.6,527.4L1391.8,527.5L1387.8,524.8L1385.1,520.8Z" fill="#5ca4d2"/><path d="M1362.1,484.4L1363.6,482.2L1365.0,480.0L1366.2,477.6L1369.3,475.4L1371.6,472.3L1375.6,470.9L1378.3,473.6L1379.6,476.2L1379.9,479.1L1381.0,481.7L1380.8,484.9L1381.2,488.1L1382.4,491.1L1382.5,494.4L1381.2,497.4L1381.0,500.6L1379.5,503.9L1378.3,507.3L1377.0,510.7L1375.6,514.1L1373.5,516.4L1372.9,519.4L1370.2,516.8L1368.9,514.0L1367.5,511.4L1366.2,508.7L1365.6,505.6L1363.7,503.2L1362.1,500.6L1361.3,497.9L1360.9,495.2L1360.8,492.5L1361.2,489.8L1360.9,487.0Z" fill="#1454a2"/><path d="M1275.8,512.7L1278.6,512.1L1281.2,511.4L1284.6,510.8L1288.0,510.0L1291.0,509.2L1293.4,507.3L1296.1,503.3L1300.1,501.9L1302.6,503.3L1305.5,503.3L1308.0,504.6L1310.9,504.6L1313.6,507.3L1313.8,510.7L1313.6,514.1L1312.1,516.6L1312.3,519.4L1310.3,521.6L1308.2,523.5L1305.6,524.5L1302.8,524.8L1299.9,524.9L1297.4,523.5L1293.4,526.2L1289.3,524.8L1286.6,524.1L1283.9,523.5L1281.5,521.9L1279.9,519.4L1277.2,516.8Z" fill="#6baed6"/><path d="M1305.5,503.3L1308.3,500.6L1310.9,497.9L1315.0,496.5L1317.6,500.6L1317.2,503.3L1317.2,506.0L1317.6,508.7L1313.6,511.4L1309.6,512.7L1306.9,510.0L1306.8,506.5Z" fill="#4a98c9"/><path d="M1288.0,549.1L1292.0,547.8L1296.1,549.1L1296.7,553.2L1293.4,555.9L1289.3,554.5L1288.4,551.9Z" fill="#1a6aaf"/></g>
</g>
<path d="M521.48,205.25L515.79,206.73L509.68,208.46L503.18,210.43L496.34,212.63L489.16,215.05L481.70,217.69L473.96,220.52L466.00,223.54L457.83,226.74L449.49,230.11L441.02,233.64L432.49,237.30L424.01,241.08L415.67,244.95L407.55,248.90L399.74,252.91L392.21,256.96L384.91,261.07L377.81,265.24L370.87,269.45L364.05,273.72L357.33,278.04L350.69,282.41L344.14,286.82L337.66,291.28L331.24,295.78L324.88,300.31L318.59,304.88L312.37,309.49L306.23,314.13L300.17,318.80L294.19,323.51L288.31,328.25L282.51,333.01L276.82,337.80L271.23,342.62L265.76,347.46L260.43,352.33L255.25,357.22L250.24,362.13L245.40,367.06L240.72,372.01L236.18,376.97L231.73,381.95L227.37,386.95L223.07,391.96L218.84,396.98L214.71,402.01L210.71,407.05L206.85,412.10L203.15,417.16L199.61,422.22L196.21,427.29L192.95,432.37L189.80,437.45L186.76,442.54L183.83,447.62L181.03,452.71L178.36,457.80L175.82,462.89L173.43,467.97L171.18,473.06L169.08,478.15L167.13,483.24L165.32,488.32L163.65,493.41L162.10,498.50L160.64,503.58L159.24,508.67L157.88,513.76L156.54,518.85L155.21,523.93L153.93,529.02L152.72,534.11L151.58,539.19L150.54,544.28L149.58,549.37L148.72,554.45L147.93,559.54L147.22,564.63L146.57,569.72L145.99,574.80L145.48,579.89L145.02,584.98L144.63,590.06L144.30,595.15L144.02,600.24L143.79,605.33L143.62,610.41L143.50,615.50L143.62,620.59L143.79,625.67L144.02,630.76L144.30,635.85L144.63,640.94L145.02,646.02L145.48,651.11L145.99,656.20L146.57,661.28L147.22,666.37L147.93,671.46L148.72,676.55L149.58,681.63L150.54,686.72L151.58,691.81L152.72,696.89L153.93,701.98L155.21,707.07L156.54,712.15L157.88,717.24L159.24,722.33L160.64,727.42L162.10,732.50L163.65,737.59L165.32,742.68L167.13,747.76L169.08,752.85L171.18,757.94L173.43,763.03L175.82,768.11L178.36,773.20L181.03,778.29L183.83,783.38L186.76,788.46L189.80,793.55L192.95,798.63L196.21,803.71L199.61,808.78L203.15,813.84L206.85,818.90L210.71,823.95L214.71,828.99L218.84,834.02L223.07,839.04L227.37,844.05L231.73,849.05L236.18,854.03L240.72,858.99L245.40,863.94L250.24,868.87L255.25,873.78L260.43,878.67L265.76,883.54L271.23,888.38L276.82,893.20L282.51,897.99L288.31,902.75L294.19,907.49L300.17,912.20L306.23,916.87L312.37,921.51L318.59,926.12L324.88,930.69L331.24,935.22L337.66,939.72L344.14,944.18L350.69,948.59L357.33,952.96L364.05,957.28L370.87,961.55L377.81,965.76L384.91,969.93L392.21,974.04L399.74,978.09L407.55,982.10L415.67,986.05L424.01,989.92L432.49,993.70L441.02,997.36L449.49,1000.89L457.83,1004.26L466.00,1007.46L473.96,1010.48L481.70,1013.31L489.16,1015.95L496.34,1018.37L503.18,1020.57L509.68,1022.54L515.79,1024.27L521.48,1025.75L1381.52,1025.75L1387.21,1024.27L1393.32,1022.54L1399.82,1020.57L1406.66,1018.37L1413.84,1015.95L1421.30,1013.31L1429.04,1010.48L1437.00,1007.46L1445.17,1004.26L1453.51,1000.89L1461.98,997.36L1470.51,993.70L1478.99,989.92L1487.33,986.05L1495.45,982.10L1503.26,978.09L1510.79,974.04L1518.09,969.93L1525.19,965.76L1532.13,961.55L1538.95,957.28L1545.67,952.96L1552.31,948.59L1558.86,944.18L1565.34,939.72L1571.76,935.22L1578.12,930.69L1584.41,926.12L1590.63,921.51L1596.77,916.87L1602.83,912.20L1608.81,907.49L1614.69,902.75L1620.49,897.99L1626.18,893.20L1631.77,888.38L1637.24,883.54L1642.57,878.67L1647.75,873.78L1652.76,868.87L1657.60,863.94L1662.28,858.99L1666.82,854.03L1671.27,849.05L1675.63,844.05L1679.93,839.04L1684.16,834.02L1688.29,828.99L1692.29,823.95L1696.15,818.90L1699.85,813.84L1703.39,808.78L1706.79,803.71L1710.05,798.63L1713.20,793.55L1716.24,788.46L1719.17,783.38L1721.97,778.29L1724.64,773.20L1727.18,768.11L1729.57,763.03L1731.82,757.94L1733.92,752.85L1735.87,747.76L1737.68,742.68L1739.35,737.59L1740.90,732.50L1742.36,727.42L1743.76,722.33L1745.12,717.24L1746.46,712.15L1747.79,707.07L1749.07,701.98L1750.28,696.89L1751.42,691.81L1752.46,686.72L1753.42,681.63L1754.28,676.55L1755.07,671.46L1755.78,666.37L1756.43,661.28L1757.01,656.20L1757.52,651.11L1757.98,646.02L1758.37,640.94L1758.70,635.85L1758.98,630.76L1759.21,625.67L1759.38,620.59L1759.50,615.50L1759.38,610.41L1759.21,605.33L1758.98,600.24L1758.70,595.15L1758.37,590.06L1757.98,584.98L1757.52,579.89L1757.01,574.80L1756.43,569.72L1755.78,564.63L1755.07,559.54L1754.28,554.45L1753.42,549.37L1752.46,544.28L1751.42,539.19L1750.28,534.11L1749.07,529.02L1747.79,523.93L1746.46,518.85L1745.12,513.76L1743.76,508.67L1742.36,503.58L1740.90,498.50L1739.35,493.41L1737.68,488.32L1735.87,483.24L1733.92,478.15L1731.82,473.06L1729.57,467.97L1727.18,462.89L1724.64,457.80L1721.97,452.71L1719.17,447.62L1716.24,442.54L1713.20,437.45L1710.05,432.37L1706.79,427.29L1703.39,422.22L1699.85,417.16L1696.15,412.10L1692.29,407.05L1688.29,402.01L1684.16,396.98L1679.93,391.96L1675.63,386.95L1671.27,381.95L1666.82,376.97L1662.28,372.01L1657.60,367.06L1652.76,362.13L1647.75,357.22L1642.57,352.33L1637.24,347.46L1631.77,342.62L1626.18,337.80L1620.49,333.01L1614.69,328.25L1608.81,323.51L1602.83,318.80L1596.77,314.13L1590.63,309.49L1584.41,304.88L1578.12,300.31L1571.76,295.78L1565.34,291.28L1558.86,286.82L1552.31,282.41L1545.67,278.04L1538.95,273.72L1532.13,269.45L1525.19,265.24L1518.09,261.07L1510.79,256.96L1503.26,252.91L1495.45,248.90L1487.33,244.95L1478.99,241.08L1470.51,237.30L1461.98,233.64L1453.51,230.11L1445.17,226.74L1437.00,223.54L1429.04,220.52L1421.30,217.69L1413.84,215.05L1406.66,212.63L1399.82,210.43L1393.32,208.46L1387.21,206.73L1381.52,205.25Z" fill="none" stroke="#000" stroke-width="3"/>
<g stroke="#000" stroke-width="2" stroke-linecap="butt"><line x1="419" y1="364.5" x2="456.1" y2="371.3"/><line x1="453.7" y1="516" x2="521.7" y2="487.8"/><line x1="568.8" y1="462.4" x2="621.6" y2="462.4"/><line x1="487.9" y1="565.9" x2="536.4" y2="527.1"/><line x1="556.5" y1="626.3" x2="611.9" y2="569.2"/><line x1="737" y1="613.4" x2="766.2" y2="598.3"/><line x1="843.8" y1="494.5" x2="872.5" y2="523.6"/><line x1="841.9" y1="550.6" x2="865" y2="548"/><line x1="715.8" y1="792.8" x2="771" y2="808.5"/><line x1="932.3" y1="621.8" x2="950.2" y2="594.2"/><line x1="947" y1="486.3" x2="975" y2="578.7"/><line x1="1019.2" y1="548.5" x2="995.5" y2="580.8"/><line x1="1003" y1="602.4" x2="1039.7" y2="632.6"/><line x1="967.4" y1="669.3" x2="989" y2="628.3"/><line x1="1117.3" y1="721.6" x2="1133.4" y2="758.4"/><line x1="904.5" y1="355.7" x2="957.9" y2="355.7"/><line x1="898.6" y1="404.3" x2="957.9" y2="396.1"/><line x1="1039.4" y1="345" x2="1080.2" y2="347.6"/><line x1="1070.5" y1="310.5" x2="1104.5" y2="307.2"/><line x1="1130.7" y1="390.7" x2="1167.6" y2="365.4"/><line x1="1110.3" y1="439.2" x2="1130.7" y2="442.1"/><line x1="1212.9" y1="499.6" x2="1236.2" y2="494.4"/><line x1="1263.4" y1="528.3" x2="1312" y2="520.6"/><line x1="1290.6" y1="427.4" x2="1325.3" y2="494.6"/><line x1="1323" y1="406" x2="1338.5" y2="482.5"/><line x1="1385" y1="378" x2="1373.8" y2="519.5"/><line x1="1444" y1="334.9" x2="1447.7" y2="410"/><line x1="1543" y1="422" x2="1564.5" y2="416.5"/><line x1="1478.7" y1="462.6" x2="1529.1" y2="473"/><line x1="1462.7" y1="504" x2="1519.6" y2="510.6"/><line x1="1432.5" y1="518.7" x2="1506.7" y2="539.4"/><line x1="1436" y1="568.7" x2="1519.6" y2="589.3"/><line x1="1263.5" y1="576.4" x2="1283.3" y2="573.2"/><line x1="1263" y1="609.9" x2="1304.3" y2="574"/><line x1="1312.1" y1="650.4" x2="1320.5" y2="549.2"/><line x1="1367.1" y1="587.6" x2="1390" y2="558.4"/><line x1="1406.7" y1="690.3" x2="1421.6" y2="656.8"/><line x1="1436" y1="723.8" x2="1451.9" y2="666.7"/></g>
<g stroke="#1a1a1a" stroke-width="1.5"><circle cx="467.5" cy="366.4" r="10.6" fill="#fdfdf3"/><circle cx="525.2" cy="483.4" r="4.6" fill="#f7ea6e"/><circle cx="559.7" cy="463" r="8.5" fill="#fbb31b"/><circle cx="541.4" cy="516.9" r="9.3" fill="#f6eb5a"/><circle cx="617.3" cy="559.4" r="9.4" fill="#f6e83a"/><circle cx="723" cy="621" r="12.7" fill="#f6e83a"/><circle cx="699" cy="787.4" r="16.0" fill="#f7a823"/><circle cx="879" cy="531.2" r="10.5" fill="#f9f29c"/><circle cx="876.8" cy="543.7" r="10.5" fill="#f9f29c"/><circle cx="954.5" cy="584.7" r="8.3" fill="#f9f3b0"/><circle cx="976.1" cy="587.6" r="8.8" fill="#f7a21f"/><circle cx="987.8" cy="590.1" r="9.3" fill="#fbb21a"/><circle cx="994.2" cy="596.3" r="9.3" fill="#f9e51a"/><circle cx="991.2" cy="620.7" r="4.5" fill="#fdfbe8"/><circle cx="1113" cy="710.3" r="9.4" fill="#fbf6c8"/><circle cx="967.6" cy="354.2" r="9.0" fill="#fadd16"/><circle cx="969.1" cy="394" r="10.6" fill="#fbd01a"/><circle cx="1000.6" cy="387.8" r="15.2" fill="#e21f26"/><circle cx="1022.9" cy="341.2" r="15.2" fill="#ec2327"/><circle cx="1060.4" cy="314.2" r="10.0" fill="#fdfdf5"/><circle cx="1115.1" cy="400.4" r="15.8" fill="#fdfdf3"/><circle cx="1099.6" cy="428.5" r="12.5" fill="#f28c20"/><circle cx="1086" cy="458.6" r="15.6" fill="#b11f24"/><circle cx="1245.2" cy="491" r="9.0" fill="#fdfbe0"/><circle cx="1332.5" cy="510.1" r="15.1" fill="#d42026"/><circle cx="1328.3" cy="518.2" r="15.1" fill="#dd2025"/><circle cx="1342.4" cy="495.2" r="12.7" fill="#f59d1e"/><circle cx="1315.3" cy="535.8" r="12.2" fill="#fcbf13"/><circle cx="1291.4" cy="567.8" r="9.0" fill="#fdfbe0"/><circle cx="1305.1" cy="560.6" r="10.3" fill="#f6a21d"/><circle cx="1374.2" cy="529" r="9.1" fill="#f9e414"/><circle cx="1399.5" cy="542.3" r="15.5" fill="#000000"/><circle cx="1423.4" cy="564.6" r="11.9" fill="#e8232a"/><circle cx="1419.6" cy="511.8" r="12.1" fill="#e9411f"/><circle cx="1449.5" cy="499.8" r="12.6" fill="#fbb917"/><circle cx="1468.4" cy="454.8" r="12.8" fill="#f6ec5e"/><circle cx="1447.7" cy="423.8" r="13.1" fill="#000000"/><circle cx="1532.6" cy="422.6" r="9.1" fill="#f5e41f"/><circle cx="1430" cy="647.1" r="10.6" fill="#e9421f"/><circle cx="1456.1" cy="653.3" r="11.3" fill="#000000"/></g>
<g><text x="341.3" y="371.1" font-size="24.8" textLength="71.2" lengthAdjust="spacingAndGlyphs">Fraser</text><text x="316.2" y="526.9" font-size="24.8" textLength="127.8" lengthAdjust="spacingAndGlyphs">Rio Grande</text><text x="630.3" y="470.9" font-size="24.8" textLength="124.0" lengthAdjust="spacingAndGlyphs">Mississippi</text><text x="397.3" y="583.8" font-size="24.8" textLength="85.8" lengthAdjust="spacingAndGlyphs">Grijalva</text><text x="419.9" y="636.6" font-size="24.8" textLength="128.4" lengthAdjust="spacingAndGlyphs">Magdalena</text><text x="771.8" y="604.7" font-size="24.8" textLength="93.2" lengthAdjust="spacingAndGlyphs">Amazon</text><text x="745.9" y="499.9" font-size="24.8" textLength="90.6" lengthAdjust="spacingAndGlyphs">Senegal</text><text x="748.5" y="557.7" font-size="24.8" textLength="85.8" lengthAdjust="spacingAndGlyphs">Saloum</text><text x="780.5" y="816.4" font-size="24.8" textLength="79.5" lengthAdjust="spacingAndGlyphs">Paraná</text><text x="877.9" y="642.5" font-size="24.8" textLength="56.5" lengthAdjust="spacingAndGlyphs">Volta</text><text x="917.8" y="476.8" font-size="24.8" textLength="61.5" lengthAdjust="spacingAndGlyphs">Niger</text><text x="995.0" y="538.3" font-size="24.8" textLength="63.0" lengthAdjust="spacingAndGlyphs">Cross</text><text x="1034.4" y="655.2" font-size="24.8" textLength="67.9" lengthAdjust="spacingAndGlyphs">Wouri</text><text x="888.3" y="689.7" font-size="24.8" textLength="92.1" lengthAdjust="spacingAndGlyphs">Ogooué</text><text x="1110.0" y="782.3" font-size="24.8" textLength="97.2" lengthAdjust="spacingAndGlyphs">Zambezi</text><text x="1024.6" y="486.2" font-size="24.8" textLength="43.3" lengthAdjust="spacingAndGlyphs">Nile</text><text x="837.1" y="360.6" font-size="24.8" textLength="62.9" lengthAdjust="spacingAndGlyphs">Rhine</text><text x="819.0" y="413.2" font-size="24.8" textLength="71.9" lengthAdjust="spacingAndGlyphs">Rhône</text><text x="1026.2" y="393.8" font-size="24.8" textLength="26.8" lengthAdjust="spacingAndGlyphs">Po</text><text x="1087.6" y="353.4" font-size="24.8" textLength="75.7" lengthAdjust="spacingAndGlyphs">Vistula</text><text x="1112.2" y="314.0" font-size="24.8" textLength="57.3" lengthAdjust="spacingAndGlyphs">Neva</text><text x="1176.6" y="370.7" font-size="24.8" textLength="56.7" lengthAdjust="spacingAndGlyphs">Rioni</text><text x="1138.2" y="452.8" font-size="24.8" textLength="84.4" lengthAdjust="spacingAndGlyphs">Ceyhan</text><text x="1144.0" y="508.0" font-size="24.8" textLength="64.0" lengthAdjust="spacingAndGlyphs">Indus</text><text x="1143.6" y="538.6" font-size="24.8" textLength="114.0" lengthAdjust="spacingAndGlyphs">Mahanadi</text><text x="1194.2" y="420.6" font-size="24.8" textLength="112.3" lengthAdjust="spacingAndGlyphs">Brahmani</text><text x="1283.5" y="395.7" font-size="24.8" textLength="87.1" lengthAdjust="spacingAndGlyphs">Ganges</text><text x="1321.8" y="370.9" font-size="24.8" textLength="118.7" lengthAdjust="spacingAndGlyphs">Irrawaddy</text><text x="1387.6" y="326.8" font-size="24.8" textLength="74.2" lengthAdjust="spacingAndGlyphs">Yellow</text><text x="1545.0" y="406.2" font-size="24.8" textLength="110.1" lengthAdjust="spacingAndGlyphs">Chikuma-</text><text x="1569.7" y="435.6" font-size="24.8" textLength="60.4" lengthAdjust="spacingAndGlyphs">gawa</text><text x="1535.2" y="483.9" font-size="24.8" textLength="91.5" lengthAdjust="spacingAndGlyphs">Yangtze</text><text x="1527.4" y="518.4" font-size="24.8" textLength="57.0" lengthAdjust="spacingAndGlyphs">Pearl</text><text x="1516.2" y="549.5" font-size="24.8" textLength="42.3" lengthAdjust="spacingAndGlyphs">Red</text><text x="1526.3" y="599.1" font-size="24.8" textLength="93.8" lengthAdjust="spacingAndGlyphs">Mekong</text><text x="1182.1" y="584.6" font-size="24.8" textLength="77.7" lengthAdjust="spacingAndGlyphs">Kabani</text><text x="1178.9" y="631.5" font-size="24.8" textLength="93.0" lengthAdjust="spacingAndGlyphs">Cauvery</text><text x="1227.4" y="674.4" font-size="24.8" textLength="102.8" lengthAdjust="spacingAndGlyphs">Godavari</text><text x="1331.8" y="612.1" font-size="24.8" textLength="56.6" lengthAdjust="spacingAndGlyphs">Chao</text><text x="1321.3" y="642.6" font-size="24.8" textLength="78.1" lengthAdjust="spacingAndGlyphs">Phraya</text><text x="1313.6" y="715.7" font-size="24.8" textLength="99.3" lengthAdjust="spacingAndGlyphs">Ciliwung</text><text x="1354.6" y="745.5" font-size="24.8" textLength="89.3" lengthAdjust="spacingAndGlyphs">Brantas</text></g>
<text x="394.3" y="203.8" font-size="33" textLength="81.7" lengthAdjust="spacingAndGlyphs">90° N</text>
<text x="111.1" y="398.0" font-size="33" textLength="83.3" lengthAdjust="spacingAndGlyphs">45° N</text>
<text x="97.2" y="625.1" font-size="33" textLength="30.8" lengthAdjust="spacingAndGlyphs">0°</text>
<text x="120.5" y="861.7" font-size="33" textLength="77.7" lengthAdjust="spacingAndGlyphs">45° S</text>
<text x="397.3" y="1051.4" font-size="33" textLength="77.2" lengthAdjust="spacingAndGlyphs">90° S</text>
<text x="478.8" y="1077.3" font-size="33" textLength="107.2" lengthAdjust="spacingAndGlyphs">180° W</text>
<text x="638.5" y="1077.3" font-size="33" textLength="89.3" lengthAdjust="spacingAndGlyphs">90° W</text>
<text x="944.3" y="1077.5" font-size="33" textLength="30.9" lengthAdjust="spacingAndGlyphs">0°</text>
<text x="1177.3" y="1077.5" font-size="33" textLength="76.6" lengthAdjust="spacingAndGlyphs">90° E</text>
<text x="1323.8" y="1077.5" font-size="33" textLength="94.1" lengthAdjust="spacingAndGlyphs">180° E</text>
<rect x="415.5" y="1134.5" width="1063.5" height="387" fill="#f3f8f8" stroke="#a9abad" stroke-width="2"/>
<text x="513.9" y="1196.7" font-size="33" textLength="382.9" lengthAdjust="spacingAndGlyphs">Subsidence rate (mm/yr)</text>
<defs><linearGradient id="gs" x1="0" x2="1" y1="0" y2="0"><stop offset="0" stop-color="#fffde8"/><stop offset="0.13" stop-color="#f9f2a0"/><stop offset="0.27" stop-color="#f7ea23"/><stop offset="0.38" stop-color="#f6b227"/><stop offset="0.52" stop-color="#ec4d24"/><stop offset="0.72" stop-color="#b01e24"/><stop offset="0.86" stop-color="#5c2723"/><stop offset="1" stop-color="#120808"/></linearGradient><linearGradient id="gb" x1="0" x2="1" y1="0" y2="0"><stop offset="0" stop-color="#f7fbff"/><stop offset="0.2" stop-color="#d0e2f3"/><stop offset="0.4" stop-color="#a0c8e4"/><stop offset="0.55" stop-color="#6aadd6"/><stop offset="0.75" stop-color="#1c6cb2"/><stop offset="1" stop-color="#233a75"/></linearGradient></defs>
<rect x="484.1" y="1214.5" width="443.4" height="26.9" fill="url(#gs)" stroke="#000" stroke-width="1.6"/>
<line x1="484.1" y1="1241.4" x2="484.1" y2="1258.5" stroke="#000" stroke-width="1.6"/>
<text x="474.6" y="1290.6" font-size="30.5" textLength="19.0" lengthAdjust="spacingAndGlyphs">0</text>
<line x1="595.0" y1="1241.4" x2="595.0" y2="1258.5" stroke="#000" stroke-width="1.6"/>
<text x="585.5" y="1290.6" font-size="30.5" textLength="19.0" lengthAdjust="spacingAndGlyphs">2</text>
<line x1="705.8" y1="1241.4" x2="705.8" y2="1258.5" stroke="#000" stroke-width="1.6"/>
<text x="696.3" y="1290.6" font-size="30.5" textLength="19.0" lengthAdjust="spacingAndGlyphs">4</text>
<line x1="816.6" y1="1241.4" x2="816.6" y2="1258.5" stroke="#000" stroke-width="1.6"/>
<text x="807.1" y="1290.6" font-size="30.5" textLength="19.0" lengthAdjust="spacingAndGlyphs">6</text>
<line x1="927.5" y1="1241.4" x2="927.5" y2="1258.5" stroke="#000" stroke-width="1.6"/>
<text x="918.0" y="1290.6" font-size="30.5" textLength="19.0" lengthAdjust="spacingAndGlyphs">8</text>
<line x1="484.1" y1="1324.9" x2="928.2" y2="1324.9" stroke="#b0b2b4" stroke-width="1.6"/>
<text x="529.4" y="1381.5" font-size="33" textLength="338.2" lengthAdjust="spacingAndGlyphs">Sea-level rise (mm/yr)</text>
<rect x="477" y="1399" width="443.1" height="26.8" fill="url(#gb)" stroke="#000" stroke-width="1.6"/>
<line x1="477.0" y1="1425.8" x2="477.0" y2="1443.6" stroke="#000" stroke-width="1.6"/>
<text x="467.5" y="1476.0" font-size="30.5" textLength="19.0" lengthAdjust="spacingAndGlyphs">1</text>
<line x1="565.6" y1="1425.8" x2="565.6" y2="1443.6" stroke="#000" stroke-width="1.6"/>
<text x="556.1" y="1476.0" font-size="30.5" textLength="19.0" lengthAdjust="spacingAndGlyphs">2</text>
<line x1="654.2" y1="1425.8" x2="654.2" y2="1443.6" stroke="#000" stroke-width="1.6"/>
<text x="644.7" y="1476.0" font-size="30.5" textLength="19.0" lengthAdjust="spacingAndGlyphs">3</text>
<line x1="742.9" y1="1425.8" x2="742.9" y2="1443.6" stroke="#000" stroke-width="1.6"/>
<text x="733.4" y="1476.0" font-size="30.5" textLength="19.0" lengthAdjust="spacingAndGlyphs">4</text>
<line x1="831.5" y1="1425.8" x2="831.5" y2="1443.6" stroke="#000" stroke-width="1.6"/>
<text x="822.0" y="1476.0" font-size="30.5" textLength="19.0" lengthAdjust="spacingAndGlyphs">5</text>
<line x1="920.1" y1="1425.8" x2="920.1" y2="1443.6" stroke="#000" stroke-width="1.6"/>
<text x="910.6" y="1476.0" font-size="30.5" textLength="19.0" lengthAdjust="spacingAndGlyphs">6</text>
<line x1="1002" y1="1202.5" x2="1002" y2="1450.1" stroke="#b0b2b4" stroke-width="1.6"/>
<text x="1066.7" y="1232.8" font-size="33" textLength="356.2" lengthAdjust="spacingAndGlyphs">Percent area subsiding</text>
<text x="1118.9" y="1272.7" font-size="33" textLength="261.4" lengthAdjust="spacingAndGlyphs">greater than SLR</text>
<circle cx="1106.5" cy="1315.3" r="19.7" fill="none" stroke="#000" stroke-width="1.9"/>
<circle cx="1106.5" cy="1375.3" r="16.1" fill="none" stroke="#000" stroke-width="1.9"/>
<circle cx="1107.1" cy="1428.7" r="13.7" fill="none" stroke="#000" stroke-width="1.9"/>
<circle cx="1292.2" cy="1314.8" r="10.7" fill="none" stroke="#000" stroke-width="1.9"/>
<circle cx="1290.9" cy="1373.1" r="7.4" fill="none" stroke="#000" stroke-width="1.9"/>
<circle cx="1293.1" cy="1424.8" r="4.6" fill="none" stroke="#000" stroke-width="1.9"/>
<text x="1136.8" y="1329.1" font-size="31" textLength="55.0" lengthAdjust="spacingAndGlyphs">&gt;80</text>
<text x="1134.1" y="1386.3" font-size="31" textLength="90.2" lengthAdjust="spacingAndGlyphs">40–80</text>
<text x="1132.1" y="1440.5" font-size="31" textLength="90.5" lengthAdjust="spacingAndGlyphs">20–40</text>
<text x="1313.4" y="1326.9" font-size="31" textLength="71.0" lengthAdjust="spacingAndGlyphs">5–20</text>
<text x="1309.6" y="1383.5" font-size="31" textLength="50.0" lengthAdjust="spacingAndGlyphs">1–5</text>
<text x="1312.9" y="1436.4" font-size="31" textLength="31.6" lengthAdjust="spacingAndGlyphs">&lt;1</text>
</svg>
</body></html>
